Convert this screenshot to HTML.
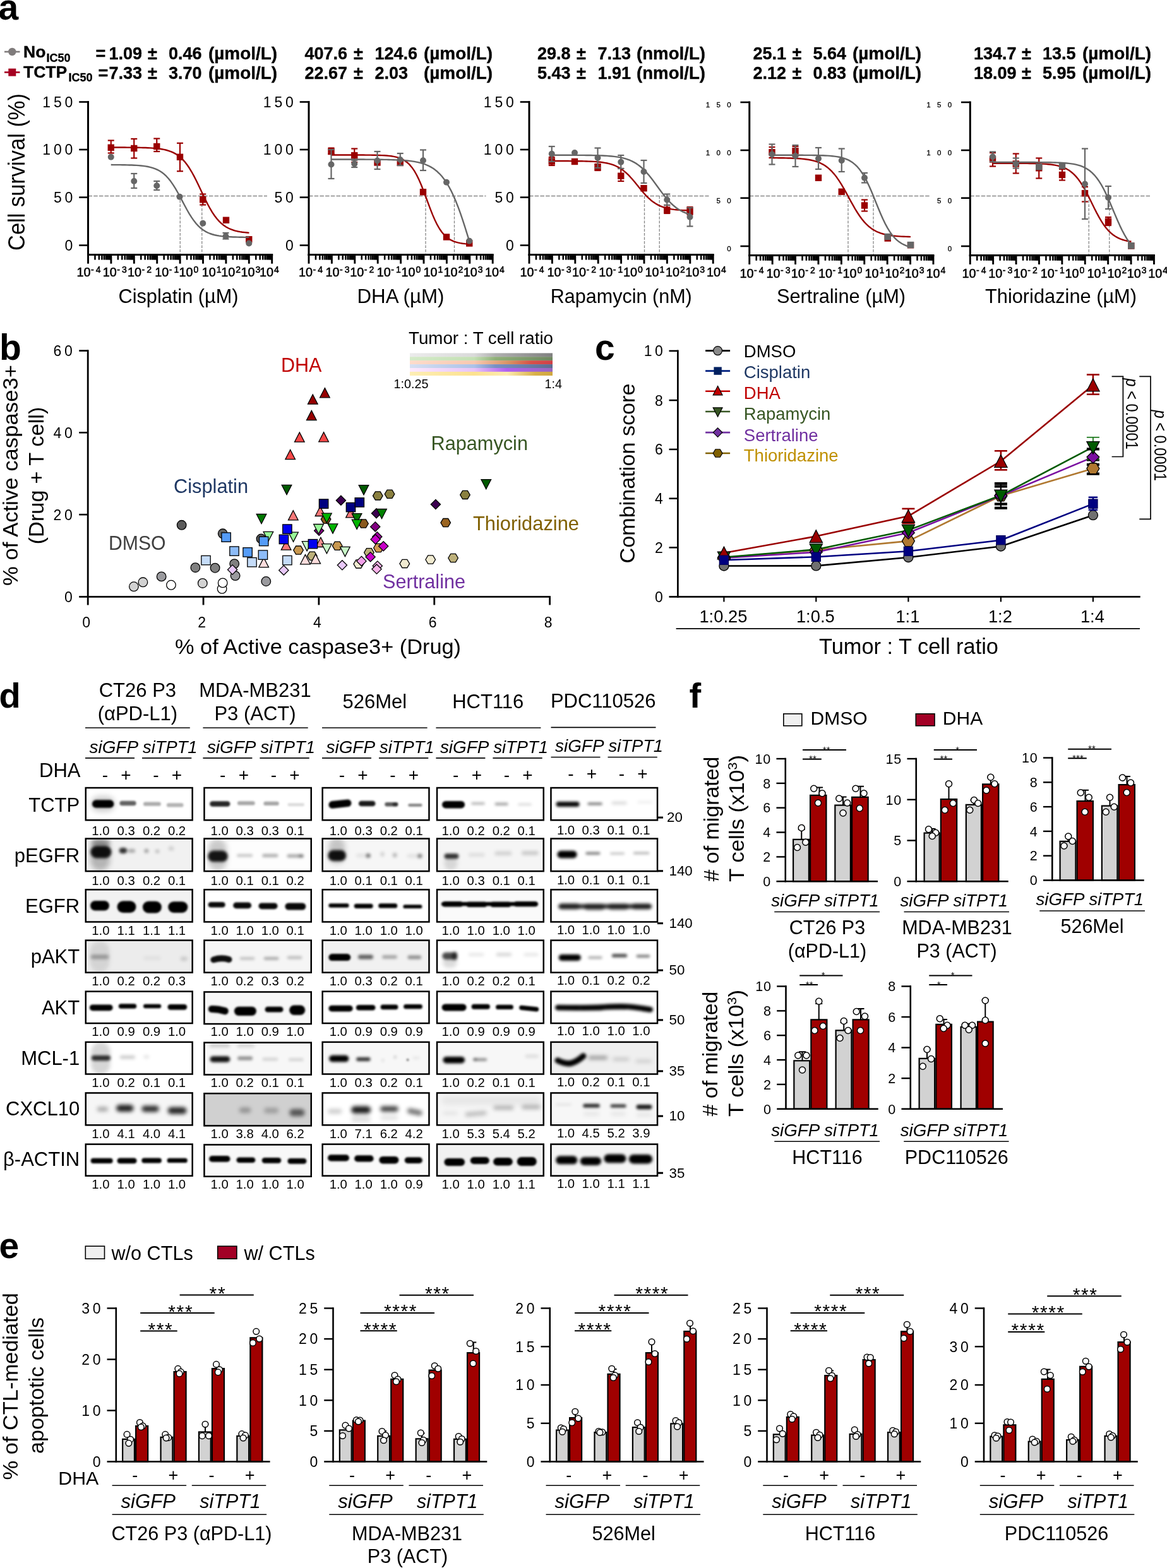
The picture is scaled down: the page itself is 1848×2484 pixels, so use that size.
<!DOCTYPE html>
<html><head><meta charset="utf-8"><title>Figure</title>
<style>
html,body{margin:0;padding:0;background:#fff;}
svg{display:block;}
text{font-family:"Liberation Sans", sans-serif;white-space:pre;}
</style></head>
<body>
<svg width="1848" height="2484" viewBox="0 0 1848 2484">
<defs><linearGradient id="g1" x1="0" y1="0" x2="1" y2="0"><stop offset="0" stop-color="#ebebeb"/><stop offset="0.45" stop-color="#dadada"/><stop offset="0.6" stop-color="#b0b0b0"/><stop offset="1" stop-color="#808080"/></linearGradient><linearGradient id="g2" x1="0" y1="0" x2="1" y2="0"><stop offset="0" stop-color="#d4eac8"/><stop offset="0.45" stop-color="#c4e0b4"/><stop offset="0.6" stop-color="#90b078"/><stop offset="1" stop-color="#6e8660"/></linearGradient><linearGradient id="g3" x1="0" y1="0" x2="1" y2="0"><stop offset="0" stop-color="#fddccb"/><stop offset="0.45" stop-color="#f8c8b0"/><stop offset="0.7" stop-color="#d89060"/><stop offset="0.85" stop-color="#d85048"/><stop offset="1" stop-color="#d04048"/></linearGradient><linearGradient id="g4" x1="0" y1="0" x2="1" y2="0"><stop offset="0" stop-color="#d6e0f2"/><stop offset="0.45" stop-color="#acc2e8"/><stop offset="0.6" stop-color="#7890c4"/><stop offset="1" stop-color="#5c6c90"/></linearGradient><linearGradient id="g5" x1="0" y1="0" x2="1" y2="0"><stop offset="0" stop-color="#fdeafd"/><stop offset="0.45" stop-color="#e8c4f8"/><stop offset="0.68" stop-color="#b060f0"/><stop offset="1" stop-color="#9868c0"/></linearGradient><linearGradient id="g6" x1="0" y1="0" x2="1" y2="0"><stop offset="0" stop-color="#fdeeb4"/><stop offset="0.45" stop-color="#fce290"/><stop offset="0.68" stop-color="#fdecb0"/><stop offset="0.88" stop-color="#d8b048"/><stop offset="1" stop-color="#d0a840"/></linearGradient><filter id="b1_5" x="-5%" y="-15%" width="110%" height="130%"><feGaussianBlur stdDeviation="1.5"/></filter><filter id="b2" x="-5%" y="-15%" width="110%" height="130%"><feGaussianBlur stdDeviation="2"/></filter><filter id="b2_2" x="-5%" y="-15%" width="110%" height="130%"><feGaussianBlur stdDeviation="2.2"/></filter><filter id="b2_5" x="-5%" y="-15%" width="110%" height="130%"><feGaussianBlur stdDeviation="2.5"/></filter><filter id="b2_6" x="-5%" y="-15%" width="110%" height="130%"><feGaussianBlur stdDeviation="2.6"/></filter><filter id="b3" x="-5%" y="-15%" width="110%" height="130%"><feGaussianBlur stdDeviation="3"/></filter><filter id="b4" x="-5%" y="-15%" width="110%" height="130%"><feGaussianBlur stdDeviation="4"/></filter><clipPath id="c1"><rect x="134.5" y="1246.8" width="171.4" height="53.7"/></clipPath><clipPath id="c2"><rect x="322.2" y="1246.8" width="171.8" height="53.7"/></clipPath><clipPath id="c3"><rect x="509.4" y="1246.8" width="171.3" height="53.7"/></clipPath><clipPath id="c4"><rect x="690.8" y="1246.8" width="171.2" height="53.7"/></clipPath><clipPath id="c5"><rect x="871.2" y="1246.8" width="171.1" height="53.7"/></clipPath><clipPath id="c6"><rect x="134.5" y="1327.3" width="171.4" height="54.1"/></clipPath><clipPath id="c7"><rect x="322.2" y="1327.3" width="171.8" height="54.1"/></clipPath><clipPath id="c8"><rect x="509.4" y="1327.3" width="171.3" height="54.1"/></clipPath><clipPath id="c9"><rect x="690.8" y="1327.3" width="171.2" height="54.1"/></clipPath><clipPath id="c10"><rect x="871.2" y="1327.3" width="171.1" height="54.1"/></clipPath><clipPath id="c11"><rect x="134.5" y="1408.1" width="171.4" height="53.6"/></clipPath><clipPath id="c12"><rect x="322.2" y="1408.1" width="171.8" height="53.6"/></clipPath><clipPath id="c13"><rect x="509.4" y="1408.1" width="171.3" height="53.6"/></clipPath><clipPath id="c14"><rect x="690.8" y="1408.1" width="171.2" height="53.6"/></clipPath><clipPath id="c15"><rect x="871.2" y="1408.1" width="171.1" height="53.6"/></clipPath><clipPath id="c16"><rect x="134.5" y="1488.4" width="171.4" height="53.5"/></clipPath><clipPath id="c17"><rect x="322.2" y="1488.4" width="171.8" height="53.5"/></clipPath><clipPath id="c18"><rect x="509.4" y="1488.4" width="171.3" height="53.5"/></clipPath><clipPath id="c19"><rect x="690.8" y="1488.4" width="171.2" height="53.5"/></clipPath><clipPath id="c20"><rect x="871.2" y="1488.4" width="171.1" height="53.5"/></clipPath><clipPath id="c21"><rect x="134.5" y="1569.4" width="171.4" height="52.9"/></clipPath><clipPath id="c22"><rect x="322.2" y="1570.2" width="171.8" height="53.1"/></clipPath><clipPath id="c23"><rect x="509.4" y="1569.4" width="171.3" height="52.9"/></clipPath><clipPath id="c24"><rect x="690.8" y="1569.4" width="171.2" height="52.9"/></clipPath><clipPath id="c25"><rect x="871.2" y="1569.4" width="171.1" height="52.9"/></clipPath><clipPath id="c26"><rect x="134.5" y="1649.6" width="171.4" height="53.2"/></clipPath><clipPath id="c27"><rect x="322.2" y="1650.4" width="171.8" height="53.4"/></clipPath><clipPath id="c28"><rect x="509.4" y="1649.6" width="171.3" height="53.2"/></clipPath><clipPath id="c29"><rect x="690.8" y="1649.6" width="171.2" height="53.2"/></clipPath><clipPath id="c30"><rect x="871.2" y="1649.6" width="171.1" height="53.2"/></clipPath><clipPath id="c31"><rect x="134.5" y="1730.2" width="171.4" height="53.4"/></clipPath><clipPath id="c32"><rect x="322.2" y="1731.0" width="171.8" height="53.6"/></clipPath><clipPath id="c33"><rect x="509.4" y="1730.2" width="171.3" height="53.4"/></clipPath><clipPath id="c34"><rect x="690.8" y="1730.2" width="171.2" height="53.4"/></clipPath><clipPath id="c35"><rect x="871.2" y="1730.2" width="171.1" height="53.4"/></clipPath><clipPath id="c36"><rect x="134.5" y="1811.4" width="171.4" height="52.6"/></clipPath><clipPath id="c37"><rect x="322.2" y="1812.2" width="171.8" height="52.8"/></clipPath><clipPath id="c38"><rect x="509.4" y="1811.4" width="171.3" height="52.6"/></clipPath><clipPath id="c39"><rect x="690.8" y="1811.4" width="171.2" height="52.6"/></clipPath><clipPath id="c40"><rect x="871.2" y="1811.4" width="171.1" height="52.6"/></clipPath></defs>
<rect width="1848" height="2484" fill="#fff"/>
<text x="-2.50" y="30.50" font-size="57" font-weight="bold">a</text>
<line x1="7.00" y1="82.00" x2="31.50" y2="82.00" stroke="#807c7c" stroke-width="2.6"/>
<circle cx="19.30" cy="82.00" r="6.20" fill="#807c7c"/>
<line x1="7.00" y1="114.50" x2="31.50" y2="114.50" stroke="#a50021" stroke-width="2.6"/>
<rect x="13.30" y="108.60" width="12.00" height="12.00" fill="#a50021"/>
<text x="37.00" y="90.50" font-size="26.5" font-weight="bold" stroke="#000" stroke-width="0.35">No</text>
<text x="73.50" y="97.50" font-size="18" font-weight="bold" stroke="#000" stroke-width="0.35">IC50</text>
<text x="37.00" y="122.50" font-size="26.5" font-weight="bold" stroke="#000" stroke-width="0.35">TCTP</text>
<text x="108.50" y="129.30" font-size="18" font-weight="bold" stroke="#000" stroke-width="0.35">IC50</text>
<text x="151.50" y="93.50" font-size="27" font-weight="bold" stroke="#000" stroke-width="0.35">=</text>
<text x="155.50" y="124.50" font-size="27" font-weight="bold" stroke="#000" stroke-width="0.35">=</text>
<text x="172.50" y="94.00" font-size="27" font-weight="bold" stroke="#000" stroke-width="0.35">1.09</text>
<text x="234.00" y="94.00" font-size="27" font-weight="bold" stroke="#000" stroke-width="0.35">±</text>
<text x="267.00" y="94.00" font-size="27" font-weight="bold" stroke="#000" stroke-width="0.35">0.46</text>
<text x="330.00" y="94.00" font-size="27" font-weight="bold" textLength="109.00" lengthAdjust="spacingAndGlyphs" stroke="#000" stroke-width="0.35">(µmol/L)</text>
<text x="172.50" y="125.00" font-size="27" font-weight="bold" stroke="#000" stroke-width="0.35">7.33</text>
<text x="234.00" y="125.00" font-size="27" font-weight="bold" stroke="#000" stroke-width="0.35">±</text>
<text x="267.00" y="125.00" font-size="27" font-weight="bold" stroke="#000" stroke-width="0.35">3.70</text>
<text x="330.00" y="125.00" font-size="27" font-weight="bold" textLength="109.00" lengthAdjust="spacingAndGlyphs" stroke="#000" stroke-width="0.35">(µmol/L)</text>
<text x="482.50" y="94.00" font-size="27" font-weight="bold" stroke="#000" stroke-width="0.35">407.6</text>
<text x="560.00" y="94.00" font-size="27" font-weight="bold" stroke="#000" stroke-width="0.35">±</text>
<text x="593.50" y="94.00" font-size="27" font-weight="bold" stroke="#000" stroke-width="0.35">124.6</text>
<text x="671.00" y="94.00" font-size="27" font-weight="bold" textLength="109.00" lengthAdjust="spacingAndGlyphs" stroke="#000" stroke-width="0.35">(µmol/L)</text>
<text x="482.50" y="125.00" font-size="27" font-weight="bold" stroke="#000" stroke-width="0.35">22.67</text>
<text x="560.00" y="125.00" font-size="27" font-weight="bold" stroke="#000" stroke-width="0.35">±</text>
<text x="593.50" y="125.00" font-size="27" font-weight="bold" stroke="#000" stroke-width="0.35">2.03</text>
<text x="671.00" y="125.00" font-size="27" font-weight="bold" textLength="109.00" lengthAdjust="spacingAndGlyphs" stroke="#000" stroke-width="0.35">(µmol/L)</text>
<text x="851.00" y="94.00" font-size="27" font-weight="bold" stroke="#000" stroke-width="0.35">29.8</text>
<text x="913.00" y="94.00" font-size="27" font-weight="bold" stroke="#000" stroke-width="0.35">±</text>
<text x="946.50" y="94.00" font-size="27" font-weight="bold" stroke="#000" stroke-width="0.35">7.13</text>
<text x="1008.00" y="94.00" font-size="27" font-weight="bold" textLength="109.00" lengthAdjust="spacingAndGlyphs" stroke="#000" stroke-width="0.35">(nmol/L)</text>
<text x="851.00" y="125.00" font-size="27" font-weight="bold" stroke="#000" stroke-width="0.35">5.43</text>
<text x="913.00" y="125.00" font-size="27" font-weight="bold" stroke="#000" stroke-width="0.35">±</text>
<text x="946.50" y="125.00" font-size="27" font-weight="bold" stroke="#000" stroke-width="0.35">1.91</text>
<text x="1008.00" y="125.00" font-size="27" font-weight="bold" textLength="109.00" lengthAdjust="spacingAndGlyphs" stroke="#000" stroke-width="0.35">(nmol/L)</text>
<text x="1192.50" y="94.00" font-size="27" font-weight="bold" stroke="#000" stroke-width="0.35">25.1</text>
<text x="1254.50" y="94.00" font-size="27" font-weight="bold" stroke="#000" stroke-width="0.35">±</text>
<text x="1287.50" y="94.00" font-size="27" font-weight="bold" stroke="#000" stroke-width="0.35">5.64</text>
<text x="1350.00" y="94.00" font-size="27" font-weight="bold" textLength="109.00" lengthAdjust="spacingAndGlyphs" stroke="#000" stroke-width="0.35">(µmol/L)</text>
<text x="1192.50" y="125.00" font-size="27" font-weight="bold" stroke="#000" stroke-width="0.35">2.12</text>
<text x="1254.50" y="125.00" font-size="27" font-weight="bold" stroke="#000" stroke-width="0.35">±</text>
<text x="1287.50" y="125.00" font-size="27" font-weight="bold" stroke="#000" stroke-width="0.35">0.83</text>
<text x="1350.00" y="125.00" font-size="27" font-weight="bold" textLength="109.00" lengthAdjust="spacingAndGlyphs" stroke="#000" stroke-width="0.35">(µmol/L)</text>
<text x="1542.00" y="94.00" font-size="27" font-weight="bold" stroke="#000" stroke-width="0.35">134.7</text>
<text x="1618.00" y="94.00" font-size="27" font-weight="bold" stroke="#000" stroke-width="0.35">±</text>
<text x="1651.00" y="94.00" font-size="27" font-weight="bold" stroke="#000" stroke-width="0.35">13.5</text>
<text x="1714.00" y="94.00" font-size="27" font-weight="bold" textLength="109.00" lengthAdjust="spacingAndGlyphs" stroke="#000" stroke-width="0.35">(µmol/L)</text>
<text x="1542.00" y="125.00" font-size="27" font-weight="bold" stroke="#000" stroke-width="0.35">18.09</text>
<text x="1618.00" y="125.00" font-size="27" font-weight="bold" stroke="#000" stroke-width="0.35">±</text>
<text x="1651.00" y="125.00" font-size="27" font-weight="bold" stroke="#000" stroke-width="0.35">5.95</text>
<text x="1714.00" y="125.00" font-size="27" font-weight="bold" textLength="109.00" lengthAdjust="spacingAndGlyphs" stroke="#000" stroke-width="0.35">(µmol/L)</text>
<text font-size="37" textLength="249.00" lengthAdjust="spacingAndGlyphs" transform="translate(38.50 397.00) rotate(-90)">Cell survival (%)</text>
<line x1="139.50" y1="310.50" x2="423.00" y2="310.50" stroke="#888888" stroke-width="1.3" stroke-dasharray="6.5 2.2"/>
<line x1="285.25" y1="310.50" x2="285.25" y2="403.40" stroke="#888888" stroke-width="1.3" stroke-dasharray="4.5 2"/>
<line x1="319.75" y1="310.50" x2="319.75" y2="403.40" stroke="#888888" stroke-width="1.3" stroke-dasharray="4.5 2"/>
<polyline points="175.75,233.52 179.40,233.52 183.04,233.53 186.69,233.54 190.33,233.55 193.98,233.56 197.62,233.57 201.27,233.59 204.92,233.61 208.56,233.64 212.21,233.68 215.85,233.73 219.50,233.78 223.15,233.86 226.79,233.95 230.44,234.06 234.08,234.20 237.73,234.38 241.38,234.61 245.02,234.89 248.67,235.24 252.31,235.67 255.96,236.22 259.60,236.90 263.25,237.74 266.90,238.78 270.54,240.07 274.19,241.65 277.83,243.58 281.48,245.92 285.12,248.75 288.77,252.12 292.42,256.09 296.06,260.72 299.71,266.03 303.35,272.01 307.00,278.60 310.65,285.73 314.29,293.25 317.94,300.98 321.58,308.73 325.23,316.30 328.88,323.52 332.52,330.23 336.17,336.33 339.81,341.78 343.46,346.54 347.10,350.64 350.75,354.13 354.40,357.06 358.04,359.49 361.69,361.50 365.33,363.14 368.98,364.48 372.62,365.57 376.27,366.45 379.92,367.16 383.56,367.73 387.21,368.18 390.85,368.55 394.50,368.84" fill="none" stroke="#9a0000" stroke-width="2.4" stroke-linejoin="round"/>
<line x1="175.75" y1="222.50" x2="175.75" y2="242.50" stroke="#9a0000" stroke-width="2.2"/>
<line x1="170.75" y1="222.50" x2="180.75" y2="222.50" stroke="#9a0000" stroke-width="2.2"/>
<line x1="170.75" y1="242.50" x2="180.75" y2="242.50" stroke="#9a0000" stroke-width="2.2"/>
<rect x="170.55" y="228.55" width="10.40" height="10.40" fill="#9a0000"/>
<line x1="212.25" y1="220.00" x2="212.25" y2="250.50" stroke="#9a0000" stroke-width="2.2"/>
<line x1="207.25" y1="220.00" x2="217.25" y2="220.00" stroke="#9a0000" stroke-width="2.2"/>
<line x1="207.25" y1="250.50" x2="217.25" y2="250.50" stroke="#9a0000" stroke-width="2.2"/>
<rect x="207.05" y="229.80" width="10.40" height="10.40" fill="#9a0000"/>
<line x1="248.25" y1="219.50" x2="248.25" y2="240.00" stroke="#9a0000" stroke-width="2.2"/>
<line x1="243.25" y1="219.50" x2="253.25" y2="219.50" stroke="#9a0000" stroke-width="2.2"/>
<line x1="243.25" y1="240.00" x2="253.25" y2="240.00" stroke="#9a0000" stroke-width="2.2"/>
<rect x="243.05" y="226.80" width="10.40" height="10.40" fill="#9a0000"/>
<line x1="285.00" y1="226.75" x2="285.00" y2="271.25" stroke="#9a0000" stroke-width="2.2"/>
<line x1="280.00" y1="226.75" x2="290.00" y2="226.75" stroke="#9a0000" stroke-width="2.2"/>
<line x1="280.00" y1="271.25" x2="290.00" y2="271.25" stroke="#9a0000" stroke-width="2.2"/>
<rect x="279.80" y="243.55" width="10.40" height="10.40" fill="#9a0000"/>
<line x1="321.25" y1="307.50" x2="321.25" y2="324.50" stroke="#9a0000" stroke-width="2.2"/>
<line x1="316.25" y1="307.50" x2="326.25" y2="307.50" stroke="#9a0000" stroke-width="2.2"/>
<line x1="316.25" y1="324.50" x2="326.25" y2="324.50" stroke="#9a0000" stroke-width="2.2"/>
<rect x="316.05" y="311.05" width="10.40" height="10.40" fill="#9a0000"/>
<rect x="352.80" y="343.55" width="10.40" height="10.40" fill="#9a0000"/>
<rect x="389.05" y="374.05" width="10.40" height="10.40" fill="#9a0000"/>
<polyline points="175.75,261.06 179.40,261.08 183.04,261.11 186.69,261.13 190.33,261.17 193.98,261.22 197.62,261.28 201.27,261.35 204.92,261.45 208.56,261.57 212.21,261.72 215.85,261.92 219.50,262.16 223.15,262.48 226.79,262.87 230.44,263.38 234.08,264.01 237.73,264.80 241.38,265.80 245.02,267.04 248.67,268.58 252.31,270.48 255.96,272.80 259.60,275.62 263.25,278.98 266.90,282.96 270.54,287.57 274.19,292.82 277.83,298.66 281.48,305.01 285.12,311.72 288.77,318.63 292.42,325.54 296.06,332.25 299.71,338.58 303.35,344.40 307.00,349.62 310.65,354.21 314.29,358.16 317.94,361.50 321.58,364.30 325.23,366.60 328.88,368.49 332.52,370.01 336.17,371.24 339.81,372.23 343.46,373.02 347.10,373.65 350.75,374.14 354.40,374.54 358.04,374.85 361.69,375.09 365.33,375.29 368.98,375.44 372.62,375.56 376.27,375.65 379.92,375.73 383.56,375.79 387.21,375.83 390.85,375.87 394.50,375.90" fill="none" stroke="#666666" stroke-width="2.4" stroke-linejoin="round"/>
<circle cx="175.75" cy="248.75" r="5.00" fill="#666666"/>
<line x1="212.25" y1="275.00" x2="212.25" y2="298.00" stroke="#666666" stroke-width="2.2"/>
<line x1="207.25" y1="275.00" x2="217.25" y2="275.00" stroke="#666666" stroke-width="2.2"/>
<line x1="207.25" y1="298.00" x2="217.25" y2="298.00" stroke="#666666" stroke-width="2.2"/>
<circle cx="212.25" cy="287.00" r="5.00" fill="#666666"/>
<line x1="248.25" y1="287.00" x2="248.25" y2="301.00" stroke="#666666" stroke-width="2.2"/>
<line x1="243.25" y1="287.00" x2="253.25" y2="287.00" stroke="#666666" stroke-width="2.2"/>
<line x1="243.25" y1="301.00" x2="253.25" y2="301.00" stroke="#666666" stroke-width="2.2"/>
<circle cx="248.25" cy="294.25" r="5.00" fill="#666666"/>
<circle cx="284.50" cy="311.75" r="5.00" fill="#666666"/>
<circle cx="321.25" cy="353.75" r="5.00" fill="#666666"/>
<line x1="357.50" y1="369.00" x2="357.50" y2="378.50" stroke="#666666" stroke-width="2.2"/>
<line x1="352.50" y1="369.00" x2="362.50" y2="369.00" stroke="#666666" stroke-width="2.2"/>
<line x1="352.50" y1="378.50" x2="362.50" y2="378.50" stroke="#666666" stroke-width="2.2"/>
<circle cx="357.50" cy="374.25" r="5.00" fill="#666666"/>
<circle cx="394.25" cy="385.50" r="5.00" fill="#666666"/>
<line x1="139.50" y1="160.00" x2="139.50" y2="404.90" stroke="#000" stroke-width="3"/>
<line x1="138.00" y1="403.40" x2="432.20" y2="403.40" stroke="#000" stroke-width="3"/>
<line x1="125.20" y1="161.50" x2="139.50" y2="161.50" stroke="#000" stroke-width="2.6"/>
<line x1="125.20" y1="237.00" x2="139.50" y2="237.00" stroke="#000" stroke-width="2.6"/>
<line x1="125.20" y1="312.60" x2="139.50" y2="312.60" stroke="#000" stroke-width="2.6"/>
<line x1="125.20" y1="388.60" x2="139.50" y2="388.60" stroke="#000" stroke-width="2.6"/>
<line x1="139.50" y1="403.40" x2="139.50" y2="417.70" stroke="#000" stroke-width="2.9"/>
<line x1="150.46" y1="403.40" x2="150.46" y2="411.60" stroke="#000" stroke-width="2.6"/>
<line x1="156.87" y1="403.40" x2="156.87" y2="411.60" stroke="#000" stroke-width="2.6"/>
<line x1="161.41" y1="403.40" x2="161.41" y2="411.60" stroke="#000" stroke-width="2.6"/>
<line x1="164.94" y1="403.40" x2="164.94" y2="411.60" stroke="#000" stroke-width="2.6"/>
<line x1="167.82" y1="403.40" x2="167.82" y2="411.60" stroke="#000" stroke-width="2.6"/>
<line x1="170.26" y1="403.40" x2="170.26" y2="411.60" stroke="#000" stroke-width="2.6"/>
<line x1="172.37" y1="403.40" x2="172.37" y2="411.60" stroke="#000" stroke-width="2.6"/>
<line x1="174.23" y1="403.40" x2="174.23" y2="411.60" stroke="#000" stroke-width="2.6"/>
<line x1="175.90" y1="403.40" x2="175.90" y2="417.70" stroke="#000" stroke-width="2.9"/>
<line x1="186.86" y1="403.40" x2="186.86" y2="411.60" stroke="#000" stroke-width="2.6"/>
<line x1="193.27" y1="403.40" x2="193.27" y2="411.60" stroke="#000" stroke-width="2.6"/>
<line x1="197.81" y1="403.40" x2="197.81" y2="411.60" stroke="#000" stroke-width="2.6"/>
<line x1="201.34" y1="403.40" x2="201.34" y2="411.60" stroke="#000" stroke-width="2.6"/>
<line x1="204.22" y1="403.40" x2="204.22" y2="411.60" stroke="#000" stroke-width="2.6"/>
<line x1="206.66" y1="403.40" x2="206.66" y2="411.60" stroke="#000" stroke-width="2.6"/>
<line x1="208.77" y1="403.40" x2="208.77" y2="411.60" stroke="#000" stroke-width="2.6"/>
<line x1="210.63" y1="403.40" x2="210.63" y2="411.60" stroke="#000" stroke-width="2.6"/>
<line x1="212.30" y1="403.40" x2="212.30" y2="417.70" stroke="#000" stroke-width="2.9"/>
<line x1="223.26" y1="403.40" x2="223.26" y2="411.60" stroke="#000" stroke-width="2.6"/>
<line x1="229.67" y1="403.40" x2="229.67" y2="411.60" stroke="#000" stroke-width="2.6"/>
<line x1="234.21" y1="403.40" x2="234.21" y2="411.60" stroke="#000" stroke-width="2.6"/>
<line x1="237.74" y1="403.40" x2="237.74" y2="411.60" stroke="#000" stroke-width="2.6"/>
<line x1="240.62" y1="403.40" x2="240.62" y2="411.60" stroke="#000" stroke-width="2.6"/>
<line x1="243.06" y1="403.40" x2="243.06" y2="411.60" stroke="#000" stroke-width="2.6"/>
<line x1="245.17" y1="403.40" x2="245.17" y2="411.60" stroke="#000" stroke-width="2.6"/>
<line x1="247.03" y1="403.40" x2="247.03" y2="411.60" stroke="#000" stroke-width="2.6"/>
<line x1="248.70" y1="403.40" x2="248.70" y2="417.70" stroke="#000" stroke-width="2.9"/>
<line x1="259.66" y1="403.40" x2="259.66" y2="411.60" stroke="#000" stroke-width="2.6"/>
<line x1="266.07" y1="403.40" x2="266.07" y2="411.60" stroke="#000" stroke-width="2.6"/>
<line x1="270.61" y1="403.40" x2="270.61" y2="411.60" stroke="#000" stroke-width="2.6"/>
<line x1="274.14" y1="403.40" x2="274.14" y2="411.60" stroke="#000" stroke-width="2.6"/>
<line x1="277.02" y1="403.40" x2="277.02" y2="411.60" stroke="#000" stroke-width="2.6"/>
<line x1="279.46" y1="403.40" x2="279.46" y2="411.60" stroke="#000" stroke-width="2.6"/>
<line x1="281.57" y1="403.40" x2="281.57" y2="411.60" stroke="#000" stroke-width="2.6"/>
<line x1="283.43" y1="403.40" x2="283.43" y2="411.60" stroke="#000" stroke-width="2.6"/>
<line x1="285.10" y1="403.40" x2="285.10" y2="417.70" stroke="#000" stroke-width="2.9"/>
<line x1="296.06" y1="403.40" x2="296.06" y2="411.60" stroke="#000" stroke-width="2.6"/>
<line x1="302.47" y1="403.40" x2="302.47" y2="411.60" stroke="#000" stroke-width="2.6"/>
<line x1="307.01" y1="403.40" x2="307.01" y2="411.60" stroke="#000" stroke-width="2.6"/>
<line x1="310.54" y1="403.40" x2="310.54" y2="411.60" stroke="#000" stroke-width="2.6"/>
<line x1="313.42" y1="403.40" x2="313.42" y2="411.60" stroke="#000" stroke-width="2.6"/>
<line x1="315.86" y1="403.40" x2="315.86" y2="411.60" stroke="#000" stroke-width="2.6"/>
<line x1="317.97" y1="403.40" x2="317.97" y2="411.60" stroke="#000" stroke-width="2.6"/>
<line x1="319.83" y1="403.40" x2="319.83" y2="411.60" stroke="#000" stroke-width="2.6"/>
<line x1="321.50" y1="403.40" x2="321.50" y2="417.70" stroke="#000" stroke-width="2.9"/>
<line x1="332.46" y1="403.40" x2="332.46" y2="411.60" stroke="#000" stroke-width="2.6"/>
<line x1="338.87" y1="403.40" x2="338.87" y2="411.60" stroke="#000" stroke-width="2.6"/>
<line x1="343.41" y1="403.40" x2="343.41" y2="411.60" stroke="#000" stroke-width="2.6"/>
<line x1="346.94" y1="403.40" x2="346.94" y2="411.60" stroke="#000" stroke-width="2.6"/>
<line x1="349.82" y1="403.40" x2="349.82" y2="411.60" stroke="#000" stroke-width="2.6"/>
<line x1="352.26" y1="403.40" x2="352.26" y2="411.60" stroke="#000" stroke-width="2.6"/>
<line x1="354.37" y1="403.40" x2="354.37" y2="411.60" stroke="#000" stroke-width="2.6"/>
<line x1="356.23" y1="403.40" x2="356.23" y2="411.60" stroke="#000" stroke-width="2.6"/>
<line x1="357.90" y1="403.40" x2="357.90" y2="417.70" stroke="#000" stroke-width="2.9"/>
<line x1="368.86" y1="403.40" x2="368.86" y2="411.60" stroke="#000" stroke-width="2.6"/>
<line x1="375.27" y1="403.40" x2="375.27" y2="411.60" stroke="#000" stroke-width="2.6"/>
<line x1="379.81" y1="403.40" x2="379.81" y2="411.60" stroke="#000" stroke-width="2.6"/>
<line x1="383.34" y1="403.40" x2="383.34" y2="411.60" stroke="#000" stroke-width="2.6"/>
<line x1="386.22" y1="403.40" x2="386.22" y2="411.60" stroke="#000" stroke-width="2.6"/>
<line x1="388.66" y1="403.40" x2="388.66" y2="411.60" stroke="#000" stroke-width="2.6"/>
<line x1="390.77" y1="403.40" x2="390.77" y2="411.60" stroke="#000" stroke-width="2.6"/>
<line x1="392.63" y1="403.40" x2="392.63" y2="411.60" stroke="#000" stroke-width="2.6"/>
<line x1="394.30" y1="403.40" x2="394.30" y2="417.70" stroke="#000" stroke-width="2.9"/>
<line x1="405.26" y1="403.40" x2="405.26" y2="411.60" stroke="#000" stroke-width="2.6"/>
<line x1="411.67" y1="403.40" x2="411.67" y2="411.60" stroke="#000" stroke-width="2.6"/>
<line x1="416.21" y1="403.40" x2="416.21" y2="411.60" stroke="#000" stroke-width="2.6"/>
<line x1="419.74" y1="403.40" x2="419.74" y2="411.60" stroke="#000" stroke-width="2.6"/>
<line x1="422.62" y1="403.40" x2="422.62" y2="411.60" stroke="#000" stroke-width="2.6"/>
<line x1="425.06" y1="403.40" x2="425.06" y2="411.60" stroke="#000" stroke-width="2.6"/>
<line x1="427.17" y1="403.40" x2="427.17" y2="411.60" stroke="#000" stroke-width="2.6"/>
<line x1="429.03" y1="403.40" x2="429.03" y2="411.60" stroke="#000" stroke-width="2.6"/>
<line x1="430.70" y1="403.40" x2="430.70" y2="417.70" stroke="#000" stroke-width="2.9"/>
<text x="120.10" y="169.80" font-size="23" text-anchor="end" letter-spacing="4.8">150</text>
<text x="120.10" y="245.30" font-size="23" text-anchor="end" letter-spacing="4.8">100</text>
<text x="120.10" y="320.90" font-size="23" text-anchor="end" letter-spacing="4.8">50</text>
<text x="120.10" y="396.90" font-size="23" text-anchor="end" letter-spacing="4.8">0</text>
<text x="121.60" y="438.30" font-size="21" textLength="22" lengthAdjust="spacingAndGlyphs" stroke="#000" stroke-width="0.55">10</text>
<text x="143.90" y="432.00" font-size="14" letter-spacing="3.3" stroke="#000" stroke-width="0.55">-4</text>
<text x="162.85" y="438.30" font-size="21" textLength="22" lengthAdjust="spacingAndGlyphs" stroke="#000" stroke-width="0.55">10</text>
<text x="185.15" y="432.00" font-size="14" letter-spacing="3.3" stroke="#000" stroke-width="0.55">-3</text>
<text x="202.10" y="438.30" font-size="21" textLength="22" lengthAdjust="spacingAndGlyphs" stroke="#000" stroke-width="0.55">10</text>
<text x="224.40" y="432.00" font-size="14" letter-spacing="3.3" stroke="#000" stroke-width="0.55">-2</text>
<text x="245.35" y="438.30" font-size="21" textLength="22" lengthAdjust="spacingAndGlyphs" stroke="#000" stroke-width="0.55">10</text>
<text x="267.65" y="432.00" font-size="14" letter-spacing="3.3" stroke="#000" stroke-width="0.55">-1</text>
<text x="283.60" y="438.30" font-size="21" textLength="22" lengthAdjust="spacingAndGlyphs" stroke="#000" stroke-width="0.55">10</text>
<text x="306.40" y="432.00" font-size="14" stroke="#000" stroke-width="0.55">0</text>
<text x="319.85" y="438.30" font-size="21" textLength="22" lengthAdjust="spacingAndGlyphs" stroke="#000" stroke-width="0.55">10</text>
<text x="342.65" y="432.00" font-size="14" stroke="#000" stroke-width="0.55">1</text>
<text x="350.35" y="438.30" font-size="21" textLength="22" lengthAdjust="spacingAndGlyphs" stroke="#000" stroke-width="0.55">10</text>
<text x="373.15" y="432.00" font-size="14" stroke="#000" stroke-width="0.55">2</text>
<text x="381.60" y="438.30" font-size="21" textLength="22" lengthAdjust="spacingAndGlyphs" stroke="#000" stroke-width="0.55">10</text>
<text x="404.40" y="432.00" font-size="14" stroke="#000" stroke-width="0.55">3</text>
<text x="411.10" y="438.30" font-size="21" textLength="22" lengthAdjust="spacingAndGlyphs" stroke="#000" stroke-width="0.55">10</text>
<text x="433.90" y="432.00" font-size="14" stroke="#000" stroke-width="0.55">4</text>
<text x="282.50" y="480.00" font-size="30.7" text-anchor="middle" textLength="190.00" lengthAdjust="spacingAndGlyphs">Cisplatin (µM)</text>
<line x1="489.00" y1="310.50" x2="769.50" y2="310.50" stroke="#888888" stroke-width="1.3" stroke-dasharray="6.5 2.2"/>
<line x1="674.00" y1="310.50" x2="674.00" y2="403.40" stroke="#888888" stroke-width="1.3" stroke-dasharray="4.5 2"/>
<line x1="719.50" y1="310.50" x2="719.50" y2="403.40" stroke="#888888" stroke-width="1.3" stroke-dasharray="4.5 2"/>
<polyline points="524.50,245.50 528.15,245.50 531.80,245.50 535.45,245.50 539.10,245.50 542.75,245.51 546.40,245.51 550.05,245.51 553.70,245.51 557.35,245.52 561.00,245.52 564.65,245.53 568.30,245.54 571.95,245.55 575.60,245.56 579.25,245.58 582.90,245.61 586.55,245.65 590.20,245.69 593.85,245.76 597.50,245.84 601.15,245.95 604.80,246.09 608.45,246.28 612.10,246.53 615.75,246.87 619.40,247.30 623.05,247.88 626.70,248.63 630.35,249.62 634.00,250.90 637.65,252.56 641.30,254.70 644.95,257.44 648.60,260.89 652.25,265.18 655.90,270.44 659.55,276.75 663.20,284.12 666.85,292.50 670.50,301.70 674.15,311.46 677.80,321.41 681.45,331.17 685.10,340.38 688.75,348.77 692.40,356.16 696.05,362.48 699.70,367.75 703.35,372.06 707.00,375.52 710.65,378.26 714.30,380.41 717.95,382.08 721.60,383.37 725.25,384.36 728.90,385.11 732.55,385.69 736.20,386.13 739.85,386.46 743.50,386.71" fill="none" stroke="#9a0000" stroke-width="2.4" stroke-linejoin="round"/>
<line x1="524.50" y1="234.50" x2="524.50" y2="244.00" stroke="#9a0000" stroke-width="2.2"/>
<line x1="519.50" y1="234.50" x2="529.50" y2="234.50" stroke="#9a0000" stroke-width="2.2"/>
<line x1="519.50" y1="244.00" x2="529.50" y2="244.00" stroke="#9a0000" stroke-width="2.2"/>
<rect x="519.30" y="234.80" width="10.40" height="10.40" fill="#9a0000"/>
<line x1="561.25" y1="235.50" x2="561.25" y2="257.00" stroke="#9a0000" stroke-width="2.2"/>
<line x1="556.25" y1="235.50" x2="566.25" y2="235.50" stroke="#9a0000" stroke-width="2.2"/>
<line x1="556.25" y1="257.00" x2="566.25" y2="257.00" stroke="#9a0000" stroke-width="2.2"/>
<rect x="556.05" y="241.05" width="10.40" height="10.40" fill="#9a0000"/>
<rect x="592.30" y="252.30" width="10.40" height="10.40" fill="#9a0000"/>
<rect x="628.55" y="252.80" width="10.40" height="10.40" fill="#9a0000"/>
<rect x="664.80" y="299.05" width="10.40" height="10.40" fill="#9a0000"/>
<rect x="701.80" y="370.30" width="10.40" height="10.40" fill="#9a0000"/>
<rect x="738.05" y="380.30" width="10.40" height="10.40" fill="#9a0000"/>
<polyline points="524.50,252.51 528.15,252.51 531.80,252.51 535.45,252.51 539.10,252.51 542.75,252.51 546.40,252.52 550.05,252.52 553.70,252.52 557.35,252.53 561.00,252.53 564.65,252.54 568.30,252.55 571.95,252.56 575.60,252.57 579.25,252.58 582.90,252.60 586.55,252.62 590.20,252.64 593.85,252.67 597.50,252.70 601.15,252.74 604.80,252.78 608.45,252.84 612.10,252.91 615.75,252.98 619.40,253.08 623.05,253.19 626.70,253.33 630.35,253.49 634.00,253.68 637.65,253.91 641.30,254.19 644.95,254.52 648.60,254.91 652.25,255.38 655.90,255.93 659.55,256.59 663.20,257.38 666.85,258.32 670.50,259.43 674.15,260.74 677.80,262.30 681.45,264.13 685.10,266.30 688.75,268.83 692.40,271.80 696.05,275.26 699.70,279.28 703.35,283.91 707.00,289.22 710.65,295.26 714.30,302.09 717.95,309.72 721.60,318.18 725.25,327.44 728.90,337.46 732.55,348.16 736.20,359.41 739.85,371.07 743.50,382.97" fill="none" stroke="#666666" stroke-width="2.4" stroke-linejoin="round"/>
<line x1="524.50" y1="237.00" x2="524.50" y2="283.00" stroke="#666666" stroke-width="2.2"/>
<line x1="519.50" y1="237.00" x2="529.50" y2="237.00" stroke="#666666" stroke-width="2.2"/>
<line x1="519.50" y1="283.00" x2="529.50" y2="283.00" stroke="#666666" stroke-width="2.2"/>
<circle cx="524.50" cy="260.50" r="5.00" fill="#666666"/>
<line x1="561.25" y1="253.75" x2="561.25" y2="265.00" stroke="#666666" stroke-width="2.2"/>
<line x1="556.25" y1="253.75" x2="566.25" y2="253.75" stroke="#666666" stroke-width="2.2"/>
<line x1="556.25" y1="265.00" x2="566.25" y2="265.00" stroke="#666666" stroke-width="2.2"/>
<circle cx="561.25" cy="259.50" r="5.00" fill="#666666"/>
<line x1="597.50" y1="240.00" x2="597.50" y2="268.00" stroke="#666666" stroke-width="2.2"/>
<line x1="592.50" y1="240.00" x2="602.50" y2="240.00" stroke="#666666" stroke-width="2.2"/>
<line x1="592.50" y1="268.00" x2="602.50" y2="268.00" stroke="#666666" stroke-width="2.2"/>
<circle cx="597.50" cy="254.50" r="5.00" fill="#666666"/>
<line x1="633.75" y1="243.00" x2="633.75" y2="262.00" stroke="#666666" stroke-width="2.2"/>
<line x1="628.75" y1="243.00" x2="638.75" y2="243.00" stroke="#666666" stroke-width="2.2"/>
<line x1="628.75" y1="262.00" x2="638.75" y2="262.00" stroke="#666666" stroke-width="2.2"/>
<circle cx="633.75" cy="253.00" r="5.00" fill="#666666"/>
<line x1="670.00" y1="237.50" x2="670.00" y2="270.00" stroke="#666666" stroke-width="2.2"/>
<line x1="665.00" y1="237.50" x2="675.00" y2="237.50" stroke="#666666" stroke-width="2.2"/>
<line x1="665.00" y1="270.00" x2="675.00" y2="270.00" stroke="#666666" stroke-width="2.2"/>
<circle cx="670.00" cy="254.25" r="5.00" fill="#666666"/>
<circle cx="707.00" cy="288.75" r="5.00" fill="#666666"/>
<circle cx="743.25" cy="381.75" r="5.00" fill="#666666"/>
<line x1="489.00" y1="160.00" x2="489.00" y2="404.90" stroke="#000" stroke-width="3"/>
<line x1="487.50" y1="403.40" x2="781.70" y2="403.40" stroke="#000" stroke-width="3"/>
<line x1="474.70" y1="161.50" x2="489.00" y2="161.50" stroke="#000" stroke-width="2.6"/>
<line x1="474.70" y1="237.00" x2="489.00" y2="237.00" stroke="#000" stroke-width="2.6"/>
<line x1="474.70" y1="312.60" x2="489.00" y2="312.60" stroke="#000" stroke-width="2.6"/>
<line x1="474.70" y1="388.60" x2="489.00" y2="388.60" stroke="#000" stroke-width="2.6"/>
<line x1="489.00" y1="403.40" x2="489.00" y2="417.70" stroke="#000" stroke-width="2.9"/>
<line x1="499.96" y1="403.40" x2="499.96" y2="411.60" stroke="#000" stroke-width="2.6"/>
<line x1="506.37" y1="403.40" x2="506.37" y2="411.60" stroke="#000" stroke-width="2.6"/>
<line x1="510.91" y1="403.40" x2="510.91" y2="411.60" stroke="#000" stroke-width="2.6"/>
<line x1="514.44" y1="403.40" x2="514.44" y2="411.60" stroke="#000" stroke-width="2.6"/>
<line x1="517.32" y1="403.40" x2="517.32" y2="411.60" stroke="#000" stroke-width="2.6"/>
<line x1="519.76" y1="403.40" x2="519.76" y2="411.60" stroke="#000" stroke-width="2.6"/>
<line x1="521.87" y1="403.40" x2="521.87" y2="411.60" stroke="#000" stroke-width="2.6"/>
<line x1="523.73" y1="403.40" x2="523.73" y2="411.60" stroke="#000" stroke-width="2.6"/>
<line x1="525.40" y1="403.40" x2="525.40" y2="417.70" stroke="#000" stroke-width="2.9"/>
<line x1="536.36" y1="403.40" x2="536.36" y2="411.60" stroke="#000" stroke-width="2.6"/>
<line x1="542.77" y1="403.40" x2="542.77" y2="411.60" stroke="#000" stroke-width="2.6"/>
<line x1="547.31" y1="403.40" x2="547.31" y2="411.60" stroke="#000" stroke-width="2.6"/>
<line x1="550.84" y1="403.40" x2="550.84" y2="411.60" stroke="#000" stroke-width="2.6"/>
<line x1="553.72" y1="403.40" x2="553.72" y2="411.60" stroke="#000" stroke-width="2.6"/>
<line x1="556.16" y1="403.40" x2="556.16" y2="411.60" stroke="#000" stroke-width="2.6"/>
<line x1="558.27" y1="403.40" x2="558.27" y2="411.60" stroke="#000" stroke-width="2.6"/>
<line x1="560.13" y1="403.40" x2="560.13" y2="411.60" stroke="#000" stroke-width="2.6"/>
<line x1="561.80" y1="403.40" x2="561.80" y2="417.70" stroke="#000" stroke-width="2.9"/>
<line x1="572.76" y1="403.40" x2="572.76" y2="411.60" stroke="#000" stroke-width="2.6"/>
<line x1="579.17" y1="403.40" x2="579.17" y2="411.60" stroke="#000" stroke-width="2.6"/>
<line x1="583.71" y1="403.40" x2="583.71" y2="411.60" stroke="#000" stroke-width="2.6"/>
<line x1="587.24" y1="403.40" x2="587.24" y2="411.60" stroke="#000" stroke-width="2.6"/>
<line x1="590.12" y1="403.40" x2="590.12" y2="411.60" stroke="#000" stroke-width="2.6"/>
<line x1="592.56" y1="403.40" x2="592.56" y2="411.60" stroke="#000" stroke-width="2.6"/>
<line x1="594.67" y1="403.40" x2="594.67" y2="411.60" stroke="#000" stroke-width="2.6"/>
<line x1="596.53" y1="403.40" x2="596.53" y2="411.60" stroke="#000" stroke-width="2.6"/>
<line x1="598.20" y1="403.40" x2="598.20" y2="417.70" stroke="#000" stroke-width="2.9"/>
<line x1="609.16" y1="403.40" x2="609.16" y2="411.60" stroke="#000" stroke-width="2.6"/>
<line x1="615.57" y1="403.40" x2="615.57" y2="411.60" stroke="#000" stroke-width="2.6"/>
<line x1="620.11" y1="403.40" x2="620.11" y2="411.60" stroke="#000" stroke-width="2.6"/>
<line x1="623.64" y1="403.40" x2="623.64" y2="411.60" stroke="#000" stroke-width="2.6"/>
<line x1="626.52" y1="403.40" x2="626.52" y2="411.60" stroke="#000" stroke-width="2.6"/>
<line x1="628.96" y1="403.40" x2="628.96" y2="411.60" stroke="#000" stroke-width="2.6"/>
<line x1="631.07" y1="403.40" x2="631.07" y2="411.60" stroke="#000" stroke-width="2.6"/>
<line x1="632.93" y1="403.40" x2="632.93" y2="411.60" stroke="#000" stroke-width="2.6"/>
<line x1="634.60" y1="403.40" x2="634.60" y2="417.70" stroke="#000" stroke-width="2.9"/>
<line x1="645.56" y1="403.40" x2="645.56" y2="411.60" stroke="#000" stroke-width="2.6"/>
<line x1="651.97" y1="403.40" x2="651.97" y2="411.60" stroke="#000" stroke-width="2.6"/>
<line x1="656.51" y1="403.40" x2="656.51" y2="411.60" stroke="#000" stroke-width="2.6"/>
<line x1="660.04" y1="403.40" x2="660.04" y2="411.60" stroke="#000" stroke-width="2.6"/>
<line x1="662.92" y1="403.40" x2="662.92" y2="411.60" stroke="#000" stroke-width="2.6"/>
<line x1="665.36" y1="403.40" x2="665.36" y2="411.60" stroke="#000" stroke-width="2.6"/>
<line x1="667.47" y1="403.40" x2="667.47" y2="411.60" stroke="#000" stroke-width="2.6"/>
<line x1="669.33" y1="403.40" x2="669.33" y2="411.60" stroke="#000" stroke-width="2.6"/>
<line x1="671.00" y1="403.40" x2="671.00" y2="417.70" stroke="#000" stroke-width="2.9"/>
<line x1="681.96" y1="403.40" x2="681.96" y2="411.60" stroke="#000" stroke-width="2.6"/>
<line x1="688.37" y1="403.40" x2="688.37" y2="411.60" stroke="#000" stroke-width="2.6"/>
<line x1="692.91" y1="403.40" x2="692.91" y2="411.60" stroke="#000" stroke-width="2.6"/>
<line x1="696.44" y1="403.40" x2="696.44" y2="411.60" stroke="#000" stroke-width="2.6"/>
<line x1="699.32" y1="403.40" x2="699.32" y2="411.60" stroke="#000" stroke-width="2.6"/>
<line x1="701.76" y1="403.40" x2="701.76" y2="411.60" stroke="#000" stroke-width="2.6"/>
<line x1="703.87" y1="403.40" x2="703.87" y2="411.60" stroke="#000" stroke-width="2.6"/>
<line x1="705.73" y1="403.40" x2="705.73" y2="411.60" stroke="#000" stroke-width="2.6"/>
<line x1="707.40" y1="403.40" x2="707.40" y2="417.70" stroke="#000" stroke-width="2.9"/>
<line x1="718.36" y1="403.40" x2="718.36" y2="411.60" stroke="#000" stroke-width="2.6"/>
<line x1="724.77" y1="403.40" x2="724.77" y2="411.60" stroke="#000" stroke-width="2.6"/>
<line x1="729.31" y1="403.40" x2="729.31" y2="411.60" stroke="#000" stroke-width="2.6"/>
<line x1="732.84" y1="403.40" x2="732.84" y2="411.60" stroke="#000" stroke-width="2.6"/>
<line x1="735.72" y1="403.40" x2="735.72" y2="411.60" stroke="#000" stroke-width="2.6"/>
<line x1="738.16" y1="403.40" x2="738.16" y2="411.60" stroke="#000" stroke-width="2.6"/>
<line x1="740.27" y1="403.40" x2="740.27" y2="411.60" stroke="#000" stroke-width="2.6"/>
<line x1="742.13" y1="403.40" x2="742.13" y2="411.60" stroke="#000" stroke-width="2.6"/>
<line x1="743.80" y1="403.40" x2="743.80" y2="417.70" stroke="#000" stroke-width="2.9"/>
<line x1="754.76" y1="403.40" x2="754.76" y2="411.60" stroke="#000" stroke-width="2.6"/>
<line x1="761.17" y1="403.40" x2="761.17" y2="411.60" stroke="#000" stroke-width="2.6"/>
<line x1="765.71" y1="403.40" x2="765.71" y2="411.60" stroke="#000" stroke-width="2.6"/>
<line x1="769.24" y1="403.40" x2="769.24" y2="411.60" stroke="#000" stroke-width="2.6"/>
<line x1="772.12" y1="403.40" x2="772.12" y2="411.60" stroke="#000" stroke-width="2.6"/>
<line x1="774.56" y1="403.40" x2="774.56" y2="411.60" stroke="#000" stroke-width="2.6"/>
<line x1="776.67" y1="403.40" x2="776.67" y2="411.60" stroke="#000" stroke-width="2.6"/>
<line x1="778.53" y1="403.40" x2="778.53" y2="411.60" stroke="#000" stroke-width="2.6"/>
<line x1="780.20" y1="403.40" x2="780.20" y2="417.70" stroke="#000" stroke-width="2.9"/>
<text x="469.60" y="169.80" font-size="23" text-anchor="end" letter-spacing="4.8">150</text>
<text x="469.60" y="245.30" font-size="23" text-anchor="end" letter-spacing="4.8">100</text>
<text x="469.60" y="320.90" font-size="23" text-anchor="end" letter-spacing="4.8">50</text>
<text x="469.60" y="396.90" font-size="23" text-anchor="end" letter-spacing="4.8">0</text>
<text x="473.10" y="438.30" font-size="21" textLength="22" lengthAdjust="spacingAndGlyphs" stroke="#000" stroke-width="0.55">10</text>
<text x="495.40" y="432.00" font-size="14" letter-spacing="3.3" stroke="#000" stroke-width="0.55">-4</text>
<text x="515.60" y="438.30" font-size="21" textLength="22" lengthAdjust="spacingAndGlyphs" stroke="#000" stroke-width="0.55">10</text>
<text x="537.90" y="432.00" font-size="14" letter-spacing="3.3" stroke="#000" stroke-width="0.55">-3</text>
<text x="554.35" y="438.30" font-size="21" textLength="22" lengthAdjust="spacingAndGlyphs" stroke="#000" stroke-width="0.55">10</text>
<text x="576.65" y="432.00" font-size="14" letter-spacing="3.3" stroke="#000" stroke-width="0.55">-2</text>
<text x="596.85" y="438.30" font-size="21" textLength="22" lengthAdjust="spacingAndGlyphs" stroke="#000" stroke-width="0.55">10</text>
<text x="619.15" y="432.00" font-size="14" letter-spacing="3.3" stroke="#000" stroke-width="0.55">-1</text>
<text x="635.60" y="438.30" font-size="21" textLength="22" lengthAdjust="spacingAndGlyphs" stroke="#000" stroke-width="0.55">10</text>
<text x="658.40" y="432.00" font-size="14" stroke="#000" stroke-width="0.55">0</text>
<text x="670.60" y="438.30" font-size="21" textLength="22" lengthAdjust="spacingAndGlyphs" stroke="#000" stroke-width="0.55">10</text>
<text x="693.40" y="432.00" font-size="14" stroke="#000" stroke-width="0.55">1</text>
<text x="702.60" y="438.30" font-size="21" textLength="22" lengthAdjust="spacingAndGlyphs" stroke="#000" stroke-width="0.55">10</text>
<text x="725.40" y="432.00" font-size="14" stroke="#000" stroke-width="0.55">2</text>
<text x="733.85" y="438.30" font-size="21" textLength="22" lengthAdjust="spacingAndGlyphs" stroke="#000" stroke-width="0.55">10</text>
<text x="756.65" y="432.00" font-size="14" stroke="#000" stroke-width="0.55">3</text>
<text x="768.10" y="438.30" font-size="21" textLength="22" lengthAdjust="spacingAndGlyphs" stroke="#000" stroke-width="0.55">10</text>
<text x="790.90" y="432.00" font-size="14" stroke="#000" stroke-width="0.55">4</text>
<text x="634.50" y="480.00" font-size="30.7" text-anchor="middle" textLength="138.00" lengthAdjust="spacingAndGlyphs">DHA (µM)</text>
<line x1="838.00" y1="310.50" x2="1122.50" y2="310.50" stroke="#888888" stroke-width="1.3" stroke-dasharray="6.5 2.2"/>
<line x1="1020.50" y1="310.50" x2="1020.50" y2="403.40" stroke="#888888" stroke-width="1.3" stroke-dasharray="4.5 2"/>
<line x1="1044.25" y1="310.50" x2="1044.25" y2="403.40" stroke="#888888" stroke-width="1.3" stroke-dasharray="4.5 2"/>
<polyline points="873.75,255.01 877.40,255.02 881.04,255.02 884.69,255.03 888.33,255.04 891.98,255.05 895.62,255.06 899.27,255.07 902.92,255.09 906.56,255.12 910.21,255.15 913.85,255.19 917.50,255.23 921.15,255.29 924.79,255.37 928.44,255.46 932.08,255.58 935.73,255.73 939.38,255.92 943.02,256.15 946.67,256.44 950.31,256.81 953.96,257.26 957.60,257.82 961.25,258.52 964.90,259.37 968.54,260.42 972.19,261.70 975.83,263.25 979.48,265.11 983.12,267.30 986.77,269.88 990.42,272.85 994.06,276.21 997.71,279.95 1001.35,284.02 1005.00,288.34 1008.65,292.82 1012.29,297.34 1015.94,301.79 1019.58,306.06 1023.23,310.05 1026.88,313.69 1030.52,316.96 1034.17,319.82 1037.81,322.30 1041.46,324.40 1045.10,326.17 1048.75,327.65 1052.40,328.87 1056.04,329.86 1059.69,330.68 1063.33,331.33 1066.98,331.87 1070.62,332.29 1074.27,332.64 1077.92,332.91 1081.56,333.13 1085.21,333.31 1088.85,333.45 1092.50,333.56" fill="none" stroke="#9a0000" stroke-width="2.4" stroke-linejoin="round"/>
<line x1="873.75" y1="249.00" x2="873.75" y2="262.00" stroke="#9a0000" stroke-width="2.2"/>
<line x1="868.75" y1="249.00" x2="878.75" y2="249.00" stroke="#9a0000" stroke-width="2.2"/>
<line x1="868.75" y1="262.00" x2="878.75" y2="262.00" stroke="#9a0000" stroke-width="2.2"/>
<rect x="868.55" y="250.30" width="10.40" height="10.40" fill="#9a0000"/>
<rect x="904.80" y="250.80" width="10.40" height="10.40" fill="#9a0000"/>
<line x1="946.50" y1="260.00" x2="946.50" y2="270.00" stroke="#9a0000" stroke-width="2.2"/>
<line x1="941.50" y1="260.00" x2="951.50" y2="260.00" stroke="#9a0000" stroke-width="2.2"/>
<line x1="941.50" y1="270.00" x2="951.50" y2="270.00" stroke="#9a0000" stroke-width="2.2"/>
<rect x="941.30" y="259.80" width="10.40" height="10.40" fill="#9a0000"/>
<line x1="983.25" y1="267.00" x2="983.25" y2="287.00" stroke="#9a0000" stroke-width="2.2"/>
<line x1="978.25" y1="267.00" x2="988.25" y2="267.00" stroke="#9a0000" stroke-width="2.2"/>
<line x1="978.25" y1="287.00" x2="988.25" y2="287.00" stroke="#9a0000" stroke-width="2.2"/>
<rect x="978.05" y="273.55" width="10.40" height="10.40" fill="#9a0000"/>
<rect x="1014.30" y="293.05" width="10.40" height="10.40" fill="#9a0000"/>
<line x1="1056.25" y1="325.00" x2="1056.25" y2="338.00" stroke="#9a0000" stroke-width="2.2"/>
<line x1="1051.25" y1="325.00" x2="1061.25" y2="325.00" stroke="#9a0000" stroke-width="2.2"/>
<line x1="1051.25" y1="338.00" x2="1061.25" y2="338.00" stroke="#9a0000" stroke-width="2.2"/>
<rect x="1051.05" y="327.30" width="10.40" height="10.40" fill="#9a0000"/>
<line x1="1092.50" y1="328.00" x2="1092.50" y2="340.00" stroke="#9a0000" stroke-width="2.2"/>
<line x1="1087.50" y1="328.00" x2="1097.50" y2="328.00" stroke="#9a0000" stroke-width="2.2"/>
<line x1="1087.50" y1="340.00" x2="1097.50" y2="340.00" stroke="#9a0000" stroke-width="2.2"/>
<rect x="1087.30" y="329.05" width="10.40" height="10.40" fill="#9a0000"/>
<polyline points="873.75,245.76 877.40,245.76 881.04,245.76 884.69,245.77 888.33,245.77 891.98,245.78 895.62,245.78 899.27,245.79 902.92,245.80 906.56,245.81 910.21,245.82 913.85,245.83 917.50,245.85 921.15,245.88 924.79,245.91 928.44,245.94 932.08,245.98 935.73,246.04 939.38,246.10 943.02,246.18 946.67,246.27 950.31,246.39 953.96,246.53 957.60,246.71 961.25,246.92 964.90,247.18 968.54,247.49 972.19,247.87 975.83,248.34 979.48,248.90 983.12,249.58 986.77,250.40 990.42,251.39 994.06,252.56 997.71,253.97 1001.35,255.63 1005.00,257.58 1008.65,259.86 1012.29,262.49 1015.94,265.50 1019.58,268.90 1023.23,272.69 1026.88,276.85 1030.52,281.32 1034.17,286.07 1037.81,290.99 1041.46,296.01 1045.10,301.01 1048.75,305.90 1052.40,310.58 1056.04,314.98 1059.69,319.05 1063.33,322.74 1066.98,326.04 1070.62,328.95 1074.27,331.50 1077.92,333.69 1081.56,335.57 1085.21,337.16 1088.85,338.50 1092.50,339.63" fill="none" stroke="#666666" stroke-width="2.4" stroke-linejoin="round"/>
<line x1="873.75" y1="232.00" x2="873.75" y2="256.00" stroke="#666666" stroke-width="2.2"/>
<line x1="868.75" y1="232.00" x2="878.75" y2="232.00" stroke="#666666" stroke-width="2.2"/>
<line x1="868.75" y1="256.00" x2="878.75" y2="256.00" stroke="#666666" stroke-width="2.2"/>
<circle cx="873.75" cy="243.75" r="5.00" fill="#666666"/>
<circle cx="910.00" cy="242.00" r="5.00" fill="#666666"/>
<line x1="946.50" y1="234.50" x2="946.50" y2="266.00" stroke="#666666" stroke-width="2.2"/>
<line x1="941.50" y1="234.50" x2="951.50" y2="234.50" stroke="#666666" stroke-width="2.2"/>
<line x1="941.50" y1="266.00" x2="951.50" y2="266.00" stroke="#666666" stroke-width="2.2"/>
<circle cx="946.50" cy="250.00" r="5.00" fill="#666666"/>
<line x1="983.25" y1="246.00" x2="983.25" y2="267.00" stroke="#666666" stroke-width="2.2"/>
<line x1="978.25" y1="246.00" x2="988.25" y2="246.00" stroke="#666666" stroke-width="2.2"/>
<line x1="978.25" y1="267.00" x2="988.25" y2="267.00" stroke="#666666" stroke-width="2.2"/>
<circle cx="983.25" cy="256.75" r="5.00" fill="#666666"/>
<line x1="1019.50" y1="254.00" x2="1019.50" y2="290.00" stroke="#666666" stroke-width="2.2"/>
<line x1="1014.50" y1="254.00" x2="1024.50" y2="254.00" stroke="#666666" stroke-width="2.2"/>
<line x1="1014.50" y1="290.00" x2="1024.50" y2="290.00" stroke="#666666" stroke-width="2.2"/>
<circle cx="1019.50" cy="272.00" r="5.00" fill="#666666"/>
<line x1="1056.25" y1="307.50" x2="1056.25" y2="325.00" stroke="#666666" stroke-width="2.2"/>
<line x1="1051.25" y1="307.50" x2="1061.25" y2="307.50" stroke="#666666" stroke-width="2.2"/>
<line x1="1051.25" y1="325.00" x2="1061.25" y2="325.00" stroke="#666666" stroke-width="2.2"/>
<circle cx="1056.25" cy="316.50" r="5.00" fill="#666666"/>
<line x1="1092.50" y1="329.00" x2="1092.50" y2="358.50" stroke="#666666" stroke-width="2.2"/>
<line x1="1087.50" y1="329.00" x2="1097.50" y2="329.00" stroke="#666666" stroke-width="2.2"/>
<line x1="1087.50" y1="358.50" x2="1097.50" y2="358.50" stroke="#666666" stroke-width="2.2"/>
<circle cx="1092.50" cy="343.75" r="5.00" fill="#666666"/>
<line x1="838.00" y1="160.00" x2="838.00" y2="404.90" stroke="#000" stroke-width="3"/>
<line x1="836.50" y1="403.40" x2="1130.70" y2="403.40" stroke="#000" stroke-width="3"/>
<line x1="823.70" y1="161.50" x2="838.00" y2="161.50" stroke="#000" stroke-width="2.6"/>
<line x1="823.70" y1="237.00" x2="838.00" y2="237.00" stroke="#000" stroke-width="2.6"/>
<line x1="823.70" y1="312.60" x2="838.00" y2="312.60" stroke="#000" stroke-width="2.6"/>
<line x1="823.70" y1="388.60" x2="838.00" y2="388.60" stroke="#000" stroke-width="2.6"/>
<line x1="838.00" y1="403.40" x2="838.00" y2="417.70" stroke="#000" stroke-width="2.9"/>
<line x1="848.96" y1="403.40" x2="848.96" y2="411.60" stroke="#000" stroke-width="2.6"/>
<line x1="855.37" y1="403.40" x2="855.37" y2="411.60" stroke="#000" stroke-width="2.6"/>
<line x1="859.91" y1="403.40" x2="859.91" y2="411.60" stroke="#000" stroke-width="2.6"/>
<line x1="863.44" y1="403.40" x2="863.44" y2="411.60" stroke="#000" stroke-width="2.6"/>
<line x1="866.32" y1="403.40" x2="866.32" y2="411.60" stroke="#000" stroke-width="2.6"/>
<line x1="868.76" y1="403.40" x2="868.76" y2="411.60" stroke="#000" stroke-width="2.6"/>
<line x1="870.87" y1="403.40" x2="870.87" y2="411.60" stroke="#000" stroke-width="2.6"/>
<line x1="872.73" y1="403.40" x2="872.73" y2="411.60" stroke="#000" stroke-width="2.6"/>
<line x1="874.40" y1="403.40" x2="874.40" y2="417.70" stroke="#000" stroke-width="2.9"/>
<line x1="885.36" y1="403.40" x2="885.36" y2="411.60" stroke="#000" stroke-width="2.6"/>
<line x1="891.77" y1="403.40" x2="891.77" y2="411.60" stroke="#000" stroke-width="2.6"/>
<line x1="896.31" y1="403.40" x2="896.31" y2="411.60" stroke="#000" stroke-width="2.6"/>
<line x1="899.84" y1="403.40" x2="899.84" y2="411.60" stroke="#000" stroke-width="2.6"/>
<line x1="902.72" y1="403.40" x2="902.72" y2="411.60" stroke="#000" stroke-width="2.6"/>
<line x1="905.16" y1="403.40" x2="905.16" y2="411.60" stroke="#000" stroke-width="2.6"/>
<line x1="907.27" y1="403.40" x2="907.27" y2="411.60" stroke="#000" stroke-width="2.6"/>
<line x1="909.13" y1="403.40" x2="909.13" y2="411.60" stroke="#000" stroke-width="2.6"/>
<line x1="910.80" y1="403.40" x2="910.80" y2="417.70" stroke="#000" stroke-width="2.9"/>
<line x1="921.76" y1="403.40" x2="921.76" y2="411.60" stroke="#000" stroke-width="2.6"/>
<line x1="928.17" y1="403.40" x2="928.17" y2="411.60" stroke="#000" stroke-width="2.6"/>
<line x1="932.71" y1="403.40" x2="932.71" y2="411.60" stroke="#000" stroke-width="2.6"/>
<line x1="936.24" y1="403.40" x2="936.24" y2="411.60" stroke="#000" stroke-width="2.6"/>
<line x1="939.12" y1="403.40" x2="939.12" y2="411.60" stroke="#000" stroke-width="2.6"/>
<line x1="941.56" y1="403.40" x2="941.56" y2="411.60" stroke="#000" stroke-width="2.6"/>
<line x1="943.67" y1="403.40" x2="943.67" y2="411.60" stroke="#000" stroke-width="2.6"/>
<line x1="945.53" y1="403.40" x2="945.53" y2="411.60" stroke="#000" stroke-width="2.6"/>
<line x1="947.20" y1="403.40" x2="947.20" y2="417.70" stroke="#000" stroke-width="2.9"/>
<line x1="958.16" y1="403.40" x2="958.16" y2="411.60" stroke="#000" stroke-width="2.6"/>
<line x1="964.57" y1="403.40" x2="964.57" y2="411.60" stroke="#000" stroke-width="2.6"/>
<line x1="969.11" y1="403.40" x2="969.11" y2="411.60" stroke="#000" stroke-width="2.6"/>
<line x1="972.64" y1="403.40" x2="972.64" y2="411.60" stroke="#000" stroke-width="2.6"/>
<line x1="975.52" y1="403.40" x2="975.52" y2="411.60" stroke="#000" stroke-width="2.6"/>
<line x1="977.96" y1="403.40" x2="977.96" y2="411.60" stroke="#000" stroke-width="2.6"/>
<line x1="980.07" y1="403.40" x2="980.07" y2="411.60" stroke="#000" stroke-width="2.6"/>
<line x1="981.93" y1="403.40" x2="981.93" y2="411.60" stroke="#000" stroke-width="2.6"/>
<line x1="983.60" y1="403.40" x2="983.60" y2="417.70" stroke="#000" stroke-width="2.9"/>
<line x1="994.56" y1="403.40" x2="994.56" y2="411.60" stroke="#000" stroke-width="2.6"/>
<line x1="1000.97" y1="403.40" x2="1000.97" y2="411.60" stroke="#000" stroke-width="2.6"/>
<line x1="1005.51" y1="403.40" x2="1005.51" y2="411.60" stroke="#000" stroke-width="2.6"/>
<line x1="1009.04" y1="403.40" x2="1009.04" y2="411.60" stroke="#000" stroke-width="2.6"/>
<line x1="1011.92" y1="403.40" x2="1011.92" y2="411.60" stroke="#000" stroke-width="2.6"/>
<line x1="1014.36" y1="403.40" x2="1014.36" y2="411.60" stroke="#000" stroke-width="2.6"/>
<line x1="1016.47" y1="403.40" x2="1016.47" y2="411.60" stroke="#000" stroke-width="2.6"/>
<line x1="1018.33" y1="403.40" x2="1018.33" y2="411.60" stroke="#000" stroke-width="2.6"/>
<line x1="1020.00" y1="403.40" x2="1020.00" y2="417.70" stroke="#000" stroke-width="2.9"/>
<line x1="1030.96" y1="403.40" x2="1030.96" y2="411.60" stroke="#000" stroke-width="2.6"/>
<line x1="1037.37" y1="403.40" x2="1037.37" y2="411.60" stroke="#000" stroke-width="2.6"/>
<line x1="1041.91" y1="403.40" x2="1041.91" y2="411.60" stroke="#000" stroke-width="2.6"/>
<line x1="1045.44" y1="403.40" x2="1045.44" y2="411.60" stroke="#000" stroke-width="2.6"/>
<line x1="1048.32" y1="403.40" x2="1048.32" y2="411.60" stroke="#000" stroke-width="2.6"/>
<line x1="1050.76" y1="403.40" x2="1050.76" y2="411.60" stroke="#000" stroke-width="2.6"/>
<line x1="1052.87" y1="403.40" x2="1052.87" y2="411.60" stroke="#000" stroke-width="2.6"/>
<line x1="1054.73" y1="403.40" x2="1054.73" y2="411.60" stroke="#000" stroke-width="2.6"/>
<line x1="1056.40" y1="403.40" x2="1056.40" y2="417.70" stroke="#000" stroke-width="2.9"/>
<line x1="1067.36" y1="403.40" x2="1067.36" y2="411.60" stroke="#000" stroke-width="2.6"/>
<line x1="1073.77" y1="403.40" x2="1073.77" y2="411.60" stroke="#000" stroke-width="2.6"/>
<line x1="1078.31" y1="403.40" x2="1078.31" y2="411.60" stroke="#000" stroke-width="2.6"/>
<line x1="1081.84" y1="403.40" x2="1081.84" y2="411.60" stroke="#000" stroke-width="2.6"/>
<line x1="1084.72" y1="403.40" x2="1084.72" y2="411.60" stroke="#000" stroke-width="2.6"/>
<line x1="1087.16" y1="403.40" x2="1087.16" y2="411.60" stroke="#000" stroke-width="2.6"/>
<line x1="1089.27" y1="403.40" x2="1089.27" y2="411.60" stroke="#000" stroke-width="2.6"/>
<line x1="1091.13" y1="403.40" x2="1091.13" y2="411.60" stroke="#000" stroke-width="2.6"/>
<line x1="1092.80" y1="403.40" x2="1092.80" y2="417.70" stroke="#000" stroke-width="2.9"/>
<line x1="1103.76" y1="403.40" x2="1103.76" y2="411.60" stroke="#000" stroke-width="2.6"/>
<line x1="1110.17" y1="403.40" x2="1110.17" y2="411.60" stroke="#000" stroke-width="2.6"/>
<line x1="1114.71" y1="403.40" x2="1114.71" y2="411.60" stroke="#000" stroke-width="2.6"/>
<line x1="1118.24" y1="403.40" x2="1118.24" y2="411.60" stroke="#000" stroke-width="2.6"/>
<line x1="1121.12" y1="403.40" x2="1121.12" y2="411.60" stroke="#000" stroke-width="2.6"/>
<line x1="1123.56" y1="403.40" x2="1123.56" y2="411.60" stroke="#000" stroke-width="2.6"/>
<line x1="1125.67" y1="403.40" x2="1125.67" y2="411.60" stroke="#000" stroke-width="2.6"/>
<line x1="1127.53" y1="403.40" x2="1127.53" y2="411.60" stroke="#000" stroke-width="2.6"/>
<line x1="1129.20" y1="403.40" x2="1129.20" y2="417.70" stroke="#000" stroke-width="2.9"/>
<text x="818.60" y="169.80" font-size="23" text-anchor="end" letter-spacing="4.8">150</text>
<text x="818.60" y="245.30" font-size="23" text-anchor="end" letter-spacing="4.8">100</text>
<text x="818.60" y="320.90" font-size="23" text-anchor="end" letter-spacing="4.8">50</text>
<text x="818.60" y="396.90" font-size="23" text-anchor="end" letter-spacing="4.8">0</text>
<text x="823.60" y="438.30" font-size="21" textLength="22" lengthAdjust="spacingAndGlyphs" stroke="#000" stroke-width="0.55">10</text>
<text x="845.90" y="432.00" font-size="14" letter-spacing="3.3" stroke="#000" stroke-width="0.55">-4</text>
<text x="866.60" y="438.30" font-size="21" textLength="22" lengthAdjust="spacingAndGlyphs" stroke="#000" stroke-width="0.55">10</text>
<text x="888.90" y="432.00" font-size="14" letter-spacing="3.3" stroke="#000" stroke-width="0.55">-3</text>
<text x="906.10" y="438.30" font-size="21" textLength="22" lengthAdjust="spacingAndGlyphs" stroke="#000" stroke-width="0.55">10</text>
<text x="928.40" y="432.00" font-size="14" letter-spacing="3.3" stroke="#000" stroke-width="0.55">-2</text>
<text x="948.35" y="438.30" font-size="21" textLength="22" lengthAdjust="spacingAndGlyphs" stroke="#000" stroke-width="0.55">10</text>
<text x="970.65" y="432.00" font-size="14" letter-spacing="3.3" stroke="#000" stroke-width="0.55">-1</text>
<text x="987.10" y="438.30" font-size="21" textLength="22" lengthAdjust="spacingAndGlyphs" stroke="#000" stroke-width="0.55">10</text>
<text x="1009.90" y="432.00" font-size="14" stroke="#000" stroke-width="0.55">0</text>
<text x="1021.60" y="438.30" font-size="21" textLength="22" lengthAdjust="spacingAndGlyphs" stroke="#000" stroke-width="0.55">10</text>
<text x="1044.40" y="432.00" font-size="14" stroke="#000" stroke-width="0.55">1</text>
<text x="1054.10" y="438.30" font-size="21" textLength="22" lengthAdjust="spacingAndGlyphs" stroke="#000" stroke-width="0.55">10</text>
<text x="1076.90" y="432.00" font-size="14" stroke="#000" stroke-width="0.55">2</text>
<text x="1085.35" y="438.30" font-size="21" textLength="22" lengthAdjust="spacingAndGlyphs" stroke="#000" stroke-width="0.55">10</text>
<text x="1108.15" y="432.00" font-size="14" stroke="#000" stroke-width="0.55">3</text>
<text x="1119.10" y="438.30" font-size="21" textLength="22" lengthAdjust="spacingAndGlyphs" stroke="#000" stroke-width="0.55">10</text>
<text x="1141.90" y="432.00" font-size="14" stroke="#000" stroke-width="0.55">4</text>
<text x="983.75" y="480.00" font-size="30.7" text-anchor="middle" textLength="224.00" lengthAdjust="spacingAndGlyphs">Rapamycin (nM)</text>
<line x1="1186.75" y1="310.50" x2="1472.00" y2="310.50" stroke="#888888" stroke-width="1.3" stroke-dasharray="6.5 2.2"/>
<line x1="1343.00" y1="310.50" x2="1343.00" y2="404.60" stroke="#888888" stroke-width="1.3" stroke-dasharray="4.5 2"/>
<line x1="1383.00" y1="310.50" x2="1383.00" y2="404.60" stroke="#888888" stroke-width="1.3" stroke-dasharray="4.5 2"/>
<polyline points="1222.50,250.10 1226.16,250.12 1229.82,250.15 1233.47,250.19 1237.13,250.23 1240.79,250.29 1244.45,250.36 1248.11,250.44 1251.77,250.55 1255.42,250.68 1259.08,250.84 1262.74,251.05 1266.40,251.29 1270.06,251.60 1273.72,251.98 1277.38,252.44 1281.03,253.02 1284.69,253.72 1288.35,254.58 1292.01,255.63 1295.67,256.91 1299.33,258.45 1302.98,260.32 1306.64,262.55 1310.30,265.19 1313.96,268.31 1317.62,271.94 1321.28,276.11 1324.93,280.84 1328.59,286.11 1332.25,291.89 1335.91,298.09 1339.57,304.61 1343.22,311.32 1346.88,318.06 1350.54,324.68 1354.20,331.03 1357.86,337.00 1361.52,342.49 1365.17,347.46 1368.83,351.86 1372.49,355.72 1376.15,359.05 1379.81,361.89 1383.47,364.29 1387.12,366.30 1390.78,367.97 1394.44,369.36 1398.10,370.50 1401.76,371.44 1405.42,372.20 1409.08,372.83 1412.73,373.34 1416.39,373.75 1420.05,374.08 1423.71,374.36 1427.37,374.58 1431.03,374.75 1434.68,374.90 1438.34,375.01 1442.00,375.11" fill="none" stroke="#9a0000" stroke-width="2.4" stroke-linejoin="round"/>
<line x1="1222.50" y1="233.00" x2="1222.50" y2="250.00" stroke="#9a0000" stroke-width="2.2"/>
<line x1="1217.50" y1="233.00" x2="1227.50" y2="233.00" stroke="#9a0000" stroke-width="2.2"/>
<line x1="1217.50" y1="250.00" x2="1227.50" y2="250.00" stroke="#9a0000" stroke-width="2.2"/>
<rect x="1217.30" y="236.05" width="10.40" height="10.40" fill="#9a0000"/>
<line x1="1259.50" y1="232.00" x2="1259.50" y2="247.00" stroke="#9a0000" stroke-width="2.2"/>
<line x1="1254.50" y1="232.00" x2="1264.50" y2="232.00" stroke="#9a0000" stroke-width="2.2"/>
<line x1="1254.50" y1="247.00" x2="1264.50" y2="247.00" stroke="#9a0000" stroke-width="2.2"/>
<rect x="1254.30" y="234.05" width="10.40" height="10.40" fill="#9a0000"/>
<rect x="1290.80" y="276.55" width="10.40" height="10.40" fill="#9a0000"/>
<rect x="1327.55" y="298.55" width="10.40" height="10.40" fill="#9a0000"/>
<line x1="1369.00" y1="316.50" x2="1369.00" y2="334.50" stroke="#9a0000" stroke-width="2.2"/>
<line x1="1364.00" y1="316.50" x2="1374.00" y2="316.50" stroke="#9a0000" stroke-width="2.2"/>
<line x1="1364.00" y1="334.50" x2="1374.00" y2="334.50" stroke="#9a0000" stroke-width="2.2"/>
<rect x="1363.80" y="320.30" width="10.40" height="10.40" fill="#9a0000"/>
<rect x="1400.55" y="372.30" width="10.40" height="10.40" fill="#9a0000"/>
<rect x="1436.80" y="383.05" width="10.40" height="10.40" fill="#9a0000"/>
<polyline points="1222.50,245.75 1226.16,245.75 1229.82,245.75 1233.47,245.76 1237.13,245.76 1240.79,245.76 1244.45,245.76 1248.11,245.76 1251.77,245.77 1255.42,245.77 1259.08,245.78 1262.74,245.79 1266.40,245.80 1270.06,245.81 1273.72,245.83 1277.38,245.85 1281.03,245.88 1284.69,245.91 1288.35,245.96 1292.01,246.01 1295.67,246.09 1299.33,246.18 1302.98,246.30 1306.64,246.45 1310.30,246.64 1313.96,246.89 1317.62,247.20 1321.28,247.59 1324.93,248.09 1328.59,248.73 1332.25,249.53 1335.91,250.54 1339.57,251.81 1343.22,253.40 1346.88,255.38 1350.54,257.82 1354.20,260.82 1357.86,264.46 1361.52,268.83 1365.17,273.99 1368.83,280.00 1372.49,286.86 1376.15,294.50 1379.81,302.82 1383.47,311.63 1387.12,320.69 1390.78,329.74 1394.44,338.52 1398.10,346.79 1401.76,354.39 1405.42,361.18 1409.08,367.14 1412.73,372.25 1416.39,376.56 1420.05,380.16 1423.71,383.11 1427.37,385.52 1431.03,387.47 1434.68,389.03 1438.34,390.29 1442.00,391.28" fill="none" stroke="#666666" stroke-width="2.4" stroke-linejoin="round"/>
<line x1="1222.50" y1="228.50" x2="1222.50" y2="260.50" stroke="#666666" stroke-width="2.2"/>
<line x1="1217.50" y1="228.50" x2="1227.50" y2="228.50" stroke="#666666" stroke-width="2.2"/>
<line x1="1217.50" y1="260.50" x2="1227.50" y2="260.50" stroke="#666666" stroke-width="2.2"/>
<circle cx="1222.50" cy="244.50" r="5.00" fill="#666666"/>
<line x1="1259.50" y1="230.00" x2="1259.50" y2="264.00" stroke="#666666" stroke-width="2.2"/>
<line x1="1254.50" y1="230.00" x2="1264.50" y2="230.00" stroke="#666666" stroke-width="2.2"/>
<line x1="1254.50" y1="264.00" x2="1264.50" y2="264.00" stroke="#666666" stroke-width="2.2"/>
<circle cx="1259.50" cy="247.00" r="5.00" fill="#666666"/>
<line x1="1296.00" y1="234.00" x2="1296.00" y2="268.00" stroke="#666666" stroke-width="2.2"/>
<line x1="1291.00" y1="234.00" x2="1301.00" y2="234.00" stroke="#666666" stroke-width="2.2"/>
<line x1="1291.00" y1="268.00" x2="1301.00" y2="268.00" stroke="#666666" stroke-width="2.2"/>
<circle cx="1296.00" cy="251.25" r="5.00" fill="#666666"/>
<line x1="1332.75" y1="235.50" x2="1332.75" y2="272.00" stroke="#666666" stroke-width="2.2"/>
<line x1="1327.75" y1="235.50" x2="1337.75" y2="235.50" stroke="#666666" stroke-width="2.2"/>
<line x1="1327.75" y1="272.00" x2="1337.75" y2="272.00" stroke="#666666" stroke-width="2.2"/>
<circle cx="1332.75" cy="254.25" r="5.00" fill="#666666"/>
<line x1="1369.00" y1="274.00" x2="1369.00" y2="289.50" stroke="#666666" stroke-width="2.2"/>
<line x1="1364.00" y1="274.00" x2="1374.00" y2="274.00" stroke="#666666" stroke-width="2.2"/>
<line x1="1364.00" y1="289.50" x2="1374.00" y2="289.50" stroke="#666666" stroke-width="2.2"/>
<circle cx="1369.00" cy="281.75" r="5.00" fill="#666666"/>
<rect x="1400.55" y="369.80" width="10.40" height="10.40" fill="#666666"/>
<rect x="1436.80" y="382.80" width="10.40" height="10.40" fill="#666666"/>
<line x1="1186.75" y1="160.50" x2="1186.75" y2="406.10" stroke="#000" stroke-width="3"/>
<line x1="1185.25" y1="404.60" x2="1479.45" y2="404.60" stroke="#000" stroke-width="3"/>
<line x1="1172.45" y1="162.00" x2="1186.75" y2="162.00" stroke="#000" stroke-width="2.6"/>
<line x1="1172.45" y1="238.00" x2="1186.75" y2="238.00" stroke="#000" stroke-width="2.6"/>
<line x1="1172.45" y1="313.70" x2="1186.75" y2="313.70" stroke="#000" stroke-width="2.6"/>
<line x1="1172.45" y1="390.00" x2="1186.75" y2="390.00" stroke="#000" stroke-width="2.6"/>
<line x1="1186.75" y1="404.60" x2="1186.75" y2="418.90" stroke="#000" stroke-width="2.9"/>
<line x1="1197.71" y1="404.60" x2="1197.71" y2="412.80" stroke="#000" stroke-width="2.6"/>
<line x1="1204.12" y1="404.60" x2="1204.12" y2="412.80" stroke="#000" stroke-width="2.6"/>
<line x1="1208.66" y1="404.60" x2="1208.66" y2="412.80" stroke="#000" stroke-width="2.6"/>
<line x1="1212.19" y1="404.60" x2="1212.19" y2="412.80" stroke="#000" stroke-width="2.6"/>
<line x1="1215.07" y1="404.60" x2="1215.07" y2="412.80" stroke="#000" stroke-width="2.6"/>
<line x1="1217.51" y1="404.60" x2="1217.51" y2="412.80" stroke="#000" stroke-width="2.6"/>
<line x1="1219.62" y1="404.60" x2="1219.62" y2="412.80" stroke="#000" stroke-width="2.6"/>
<line x1="1221.48" y1="404.60" x2="1221.48" y2="412.80" stroke="#000" stroke-width="2.6"/>
<line x1="1223.15" y1="404.60" x2="1223.15" y2="418.90" stroke="#000" stroke-width="2.9"/>
<line x1="1234.11" y1="404.60" x2="1234.11" y2="412.80" stroke="#000" stroke-width="2.6"/>
<line x1="1240.52" y1="404.60" x2="1240.52" y2="412.80" stroke="#000" stroke-width="2.6"/>
<line x1="1245.06" y1="404.60" x2="1245.06" y2="412.80" stroke="#000" stroke-width="2.6"/>
<line x1="1248.59" y1="404.60" x2="1248.59" y2="412.80" stroke="#000" stroke-width="2.6"/>
<line x1="1251.47" y1="404.60" x2="1251.47" y2="412.80" stroke="#000" stroke-width="2.6"/>
<line x1="1253.91" y1="404.60" x2="1253.91" y2="412.80" stroke="#000" stroke-width="2.6"/>
<line x1="1256.02" y1="404.60" x2="1256.02" y2="412.80" stroke="#000" stroke-width="2.6"/>
<line x1="1257.88" y1="404.60" x2="1257.88" y2="412.80" stroke="#000" stroke-width="2.6"/>
<line x1="1259.55" y1="404.60" x2="1259.55" y2="418.90" stroke="#000" stroke-width="2.9"/>
<line x1="1270.51" y1="404.60" x2="1270.51" y2="412.80" stroke="#000" stroke-width="2.6"/>
<line x1="1276.92" y1="404.60" x2="1276.92" y2="412.80" stroke="#000" stroke-width="2.6"/>
<line x1="1281.46" y1="404.60" x2="1281.46" y2="412.80" stroke="#000" stroke-width="2.6"/>
<line x1="1284.99" y1="404.60" x2="1284.99" y2="412.80" stroke="#000" stroke-width="2.6"/>
<line x1="1287.87" y1="404.60" x2="1287.87" y2="412.80" stroke="#000" stroke-width="2.6"/>
<line x1="1290.31" y1="404.60" x2="1290.31" y2="412.80" stroke="#000" stroke-width="2.6"/>
<line x1="1292.42" y1="404.60" x2="1292.42" y2="412.80" stroke="#000" stroke-width="2.6"/>
<line x1="1294.28" y1="404.60" x2="1294.28" y2="412.80" stroke="#000" stroke-width="2.6"/>
<line x1="1295.95" y1="404.60" x2="1295.95" y2="418.90" stroke="#000" stroke-width="2.9"/>
<line x1="1306.91" y1="404.60" x2="1306.91" y2="412.80" stroke="#000" stroke-width="2.6"/>
<line x1="1313.32" y1="404.60" x2="1313.32" y2="412.80" stroke="#000" stroke-width="2.6"/>
<line x1="1317.86" y1="404.60" x2="1317.86" y2="412.80" stroke="#000" stroke-width="2.6"/>
<line x1="1321.39" y1="404.60" x2="1321.39" y2="412.80" stroke="#000" stroke-width="2.6"/>
<line x1="1324.27" y1="404.60" x2="1324.27" y2="412.80" stroke="#000" stroke-width="2.6"/>
<line x1="1326.71" y1="404.60" x2="1326.71" y2="412.80" stroke="#000" stroke-width="2.6"/>
<line x1="1328.82" y1="404.60" x2="1328.82" y2="412.80" stroke="#000" stroke-width="2.6"/>
<line x1="1330.68" y1="404.60" x2="1330.68" y2="412.80" stroke="#000" stroke-width="2.6"/>
<line x1="1332.35" y1="404.60" x2="1332.35" y2="418.90" stroke="#000" stroke-width="2.9"/>
<line x1="1343.31" y1="404.60" x2="1343.31" y2="412.80" stroke="#000" stroke-width="2.6"/>
<line x1="1349.72" y1="404.60" x2="1349.72" y2="412.80" stroke="#000" stroke-width="2.6"/>
<line x1="1354.26" y1="404.60" x2="1354.26" y2="412.80" stroke="#000" stroke-width="2.6"/>
<line x1="1357.79" y1="404.60" x2="1357.79" y2="412.80" stroke="#000" stroke-width="2.6"/>
<line x1="1360.67" y1="404.60" x2="1360.67" y2="412.80" stroke="#000" stroke-width="2.6"/>
<line x1="1363.11" y1="404.60" x2="1363.11" y2="412.80" stroke="#000" stroke-width="2.6"/>
<line x1="1365.22" y1="404.60" x2="1365.22" y2="412.80" stroke="#000" stroke-width="2.6"/>
<line x1="1367.08" y1="404.60" x2="1367.08" y2="412.80" stroke="#000" stroke-width="2.6"/>
<line x1="1368.75" y1="404.60" x2="1368.75" y2="418.90" stroke="#000" stroke-width="2.9"/>
<line x1="1379.71" y1="404.60" x2="1379.71" y2="412.80" stroke="#000" stroke-width="2.6"/>
<line x1="1386.12" y1="404.60" x2="1386.12" y2="412.80" stroke="#000" stroke-width="2.6"/>
<line x1="1390.66" y1="404.60" x2="1390.66" y2="412.80" stroke="#000" stroke-width="2.6"/>
<line x1="1394.19" y1="404.60" x2="1394.19" y2="412.80" stroke="#000" stroke-width="2.6"/>
<line x1="1397.07" y1="404.60" x2="1397.07" y2="412.80" stroke="#000" stroke-width="2.6"/>
<line x1="1399.51" y1="404.60" x2="1399.51" y2="412.80" stroke="#000" stroke-width="2.6"/>
<line x1="1401.62" y1="404.60" x2="1401.62" y2="412.80" stroke="#000" stroke-width="2.6"/>
<line x1="1403.48" y1="404.60" x2="1403.48" y2="412.80" stroke="#000" stroke-width="2.6"/>
<line x1="1405.15" y1="404.60" x2="1405.15" y2="418.90" stroke="#000" stroke-width="2.9"/>
<line x1="1416.11" y1="404.60" x2="1416.11" y2="412.80" stroke="#000" stroke-width="2.6"/>
<line x1="1422.52" y1="404.60" x2="1422.52" y2="412.80" stroke="#000" stroke-width="2.6"/>
<line x1="1427.06" y1="404.60" x2="1427.06" y2="412.80" stroke="#000" stroke-width="2.6"/>
<line x1="1430.59" y1="404.60" x2="1430.59" y2="412.80" stroke="#000" stroke-width="2.6"/>
<line x1="1433.47" y1="404.60" x2="1433.47" y2="412.80" stroke="#000" stroke-width="2.6"/>
<line x1="1435.91" y1="404.60" x2="1435.91" y2="412.80" stroke="#000" stroke-width="2.6"/>
<line x1="1438.02" y1="404.60" x2="1438.02" y2="412.80" stroke="#000" stroke-width="2.6"/>
<line x1="1439.88" y1="404.60" x2="1439.88" y2="412.80" stroke="#000" stroke-width="2.6"/>
<line x1="1441.55" y1="404.60" x2="1441.55" y2="418.90" stroke="#000" stroke-width="2.9"/>
<line x1="1452.51" y1="404.60" x2="1452.51" y2="412.80" stroke="#000" stroke-width="2.6"/>
<line x1="1458.92" y1="404.60" x2="1458.92" y2="412.80" stroke="#000" stroke-width="2.6"/>
<line x1="1463.46" y1="404.60" x2="1463.46" y2="412.80" stroke="#000" stroke-width="2.6"/>
<line x1="1466.99" y1="404.60" x2="1466.99" y2="412.80" stroke="#000" stroke-width="2.6"/>
<line x1="1469.87" y1="404.60" x2="1469.87" y2="412.80" stroke="#000" stroke-width="2.6"/>
<line x1="1472.31" y1="404.60" x2="1472.31" y2="412.80" stroke="#000" stroke-width="2.6"/>
<line x1="1474.42" y1="404.60" x2="1474.42" y2="412.80" stroke="#000" stroke-width="2.6"/>
<line x1="1476.28" y1="404.60" x2="1476.28" y2="412.80" stroke="#000" stroke-width="2.6"/>
<line x1="1477.95" y1="404.60" x2="1477.95" y2="418.90" stroke="#000" stroke-width="2.9"/>
<text x="1168.15" y="170.20" font-size="11.5" text-anchor="end" letter-spacing="10.4" stroke="#000" stroke-width="0.3">150</text>
<text x="1168.15" y="246.20" font-size="11.5" text-anchor="end" letter-spacing="10.4" stroke="#000" stroke-width="0.3">100</text>
<text x="1168.15" y="321.90" font-size="11.5" text-anchor="end" letter-spacing="10.4" stroke="#000" stroke-width="0.3">50</text>
<text x="1168.15" y="398.20" font-size="11.5" text-anchor="end" letter-spacing="10.4" stroke="#000" stroke-width="0.3">0</text>
<text x="1171.60" y="439.50" font-size="21" textLength="22" lengthAdjust="spacingAndGlyphs" stroke="#000" stroke-width="0.55">10</text>
<text x="1193.90" y="433.20" font-size="14" letter-spacing="3.3" stroke="#000" stroke-width="0.55">-4</text>
<text x="1213.60" y="439.50" font-size="21" textLength="22" lengthAdjust="spacingAndGlyphs" stroke="#000" stroke-width="0.55">10</text>
<text x="1235.90" y="433.20" font-size="14" letter-spacing="3.3" stroke="#000" stroke-width="0.55">-3</text>
<text x="1252.85" y="439.50" font-size="21" textLength="22" lengthAdjust="spacingAndGlyphs" stroke="#000" stroke-width="0.55">10</text>
<text x="1275.15" y="433.20" font-size="14" letter-spacing="3.3" stroke="#000" stroke-width="0.55">-2</text>
<text x="1296.10" y="439.50" font-size="21" textLength="22" lengthAdjust="spacingAndGlyphs" stroke="#000" stroke-width="0.55">10</text>
<text x="1318.40" y="433.20" font-size="14" letter-spacing="3.3" stroke="#000" stroke-width="0.55">-1</text>
<text x="1334.60" y="439.50" font-size="21" textLength="22" lengthAdjust="spacingAndGlyphs" stroke="#000" stroke-width="0.55">10</text>
<text x="1357.40" y="433.20" font-size="14" stroke="#000" stroke-width="0.55">0</text>
<text x="1369.60" y="439.50" font-size="21" textLength="22" lengthAdjust="spacingAndGlyphs" stroke="#000" stroke-width="0.55">10</text>
<text x="1392.40" y="433.20" font-size="14" stroke="#000" stroke-width="0.55">1</text>
<text x="1401.60" y="439.50" font-size="21" textLength="22" lengthAdjust="spacingAndGlyphs" stroke="#000" stroke-width="0.55">10</text>
<text x="1424.40" y="433.20" font-size="14" stroke="#000" stroke-width="0.55">2</text>
<text x="1432.85" y="439.50" font-size="21" textLength="22" lengthAdjust="spacingAndGlyphs" stroke="#000" stroke-width="0.55">10</text>
<text x="1455.65" y="433.20" font-size="14" stroke="#000" stroke-width="0.55">3</text>
<text x="1466.60" y="439.50" font-size="21" textLength="22" lengthAdjust="spacingAndGlyphs" stroke="#000" stroke-width="0.55">10</text>
<text x="1489.40" y="433.20" font-size="14" stroke="#000" stroke-width="0.55">4</text>
<text x="1332.00" y="480.00" font-size="30.7" text-anchor="middle" textLength="204.00" lengthAdjust="spacingAndGlyphs">Sertraline (µM)</text>
<line x1="1536.25" y1="310.50" x2="1821.00" y2="310.50" stroke="#888888" stroke-width="1.3" stroke-dasharray="6.5 2.2"/>
<line x1="1724.25" y1="310.50" x2="1724.25" y2="404.60" stroke="#888888" stroke-width="1.3" stroke-dasharray="4.5 2"/>
<line x1="1756.75" y1="310.50" x2="1756.75" y2="404.60" stroke="#888888" stroke-width="1.3" stroke-dasharray="4.5 2"/>
<polyline points="1572.00,258.76 1575.66,258.76 1579.32,258.76 1582.97,258.76 1586.63,258.76 1590.29,258.77 1593.95,258.77 1597.61,258.78 1601.27,258.78 1604.92,258.79 1608.58,258.80 1612.24,258.82 1615.90,258.84 1619.56,258.86 1623.22,258.89 1626.88,258.92 1630.53,258.97 1634.19,259.03 1637.85,259.10 1641.51,259.19 1645.17,259.31 1648.83,259.46 1652.48,259.65 1656.14,259.89 1659.80,260.19 1663.46,260.56 1667.12,261.04 1670.78,261.63 1674.43,262.38 1678.09,263.31 1681.75,264.47 1685.41,265.90 1689.07,267.67 1692.72,269.84 1696.38,272.47 1700.04,275.63 1703.70,279.39 1707.36,283.80 1711.02,288.88 1714.67,294.62 1718.33,300.97 1721.99,307.84 1725.65,315.08 1729.31,322.50 1732.97,329.91 1736.62,337.10 1740.28,343.89 1743.94,350.14 1747.60,355.78 1751.26,360.74 1754.92,365.03 1758.58,368.69 1762.23,371.76 1765.89,374.31 1769.55,376.40 1773.21,378.11 1776.87,379.50 1780.53,380.61 1784.18,381.51 1787.84,382.23 1791.50,382.80" fill="none" stroke="#9a0000" stroke-width="2.4" stroke-linejoin="round"/>
<line x1="1572.00" y1="242.00" x2="1572.00" y2="263.50" stroke="#9a0000" stroke-width="2.2"/>
<line x1="1567.00" y1="242.00" x2="1577.00" y2="242.00" stroke="#9a0000" stroke-width="2.2"/>
<line x1="1567.00" y1="263.50" x2="1577.00" y2="263.50" stroke="#9a0000" stroke-width="2.2"/>
<rect x="1566.80" y="247.30" width="10.40" height="10.40" fill="#9a0000"/>
<line x1="1608.75" y1="243.50" x2="1608.75" y2="274.50" stroke="#9a0000" stroke-width="2.2"/>
<line x1="1603.75" y1="243.50" x2="1613.75" y2="243.50" stroke="#9a0000" stroke-width="2.2"/>
<line x1="1603.75" y1="274.50" x2="1613.75" y2="274.50" stroke="#9a0000" stroke-width="2.2"/>
<rect x="1603.55" y="254.30" width="10.40" height="10.40" fill="#9a0000"/>
<line x1="1645.25" y1="250.50" x2="1645.25" y2="282.50" stroke="#9a0000" stroke-width="2.2"/>
<line x1="1640.25" y1="250.50" x2="1650.25" y2="250.50" stroke="#9a0000" stroke-width="2.2"/>
<line x1="1640.25" y1="282.50" x2="1650.25" y2="282.50" stroke="#9a0000" stroke-width="2.2"/>
<rect x="1640.05" y="261.05" width="10.40" height="10.40" fill="#9a0000"/>
<line x1="1682.00" y1="268.00" x2="1682.00" y2="285.50" stroke="#9a0000" stroke-width="2.2"/>
<line x1="1677.00" y1="268.00" x2="1687.00" y2="268.00" stroke="#9a0000" stroke-width="2.2"/>
<line x1="1677.00" y1="285.50" x2="1687.00" y2="285.50" stroke="#9a0000" stroke-width="2.2"/>
<rect x="1676.80" y="271.80" width="10.40" height="10.40" fill="#9a0000"/>
<line x1="1718.00" y1="296.00" x2="1718.00" y2="319.50" stroke="#9a0000" stroke-width="2.2"/>
<line x1="1713.00" y1="296.00" x2="1723.00" y2="296.00" stroke="#9a0000" stroke-width="2.2"/>
<line x1="1713.00" y1="319.50" x2="1723.00" y2="319.50" stroke="#9a0000" stroke-width="2.2"/>
<rect x="1712.80" y="301.05" width="10.40" height="10.40" fill="#9a0000"/>
<line x1="1755.00" y1="344.00" x2="1755.00" y2="357.00" stroke="#9a0000" stroke-width="2.2"/>
<line x1="1750.00" y1="344.00" x2="1760.00" y2="344.00" stroke="#9a0000" stroke-width="2.2"/>
<line x1="1750.00" y1="357.00" x2="1760.00" y2="357.00" stroke="#9a0000" stroke-width="2.2"/>
<rect x="1749.80" y="345.55" width="10.40" height="10.40" fill="#9a0000"/>
<rect x="1786.05" y="384.30" width="10.40" height="10.40" fill="#9a0000"/>
<polyline points="1572.00,257.00 1575.66,257.00 1579.32,257.00 1582.97,257.00 1586.63,257.00 1590.29,257.00 1593.95,257.00 1597.61,257.00 1601.27,257.01 1604.92,257.01 1608.58,257.01 1612.24,257.01 1615.90,257.02 1619.56,257.02 1623.22,257.02 1626.88,257.03 1630.53,257.04 1634.19,257.05 1637.85,257.06 1641.51,257.08 1645.17,257.10 1648.83,257.12 1652.48,257.15 1656.14,257.19 1659.80,257.24 1663.46,257.30 1667.12,257.38 1670.78,257.48 1674.43,257.60 1678.09,257.75 1681.75,257.95 1685.41,258.19 1689.07,258.49 1692.72,258.87 1696.38,259.34 1700.04,259.93 1703.70,260.67 1707.36,261.58 1711.02,262.72 1714.67,264.12 1718.33,265.84 1721.99,267.95 1725.65,270.51 1729.31,273.61 1732.97,277.31 1736.62,281.68 1740.28,286.79 1743.94,292.66 1747.60,299.29 1751.26,306.63 1754.92,314.58 1758.58,322.99 1762.23,331.67 1765.89,340.39 1769.55,348.94 1773.21,357.11 1776.87,364.72 1780.53,371.66 1784.18,377.85 1787.84,383.27 1791.50,387.95" fill="none" stroke="#666666" stroke-width="2.4" stroke-linejoin="round"/>
<line x1="1572.00" y1="240.50" x2="1572.00" y2="256.00" stroke="#666666" stroke-width="2.2"/>
<line x1="1567.00" y1="240.50" x2="1577.00" y2="240.50" stroke="#666666" stroke-width="2.2"/>
<line x1="1567.00" y1="256.00" x2="1577.00" y2="256.00" stroke="#666666" stroke-width="2.2"/>
<circle cx="1572.00" cy="248.25" r="5.00" fill="#666666"/>
<line x1="1608.75" y1="250.50" x2="1608.75" y2="266.50" stroke="#666666" stroke-width="2.2"/>
<line x1="1603.75" y1="250.50" x2="1613.75" y2="250.50" stroke="#666666" stroke-width="2.2"/>
<line x1="1603.75" y1="266.50" x2="1613.75" y2="266.50" stroke="#666666" stroke-width="2.2"/>
<circle cx="1608.75" cy="259.50" r="5.00" fill="#666666"/>
<rect x="1640.05" y="259.05" width="10.40" height="10.40" fill="#666666"/>
<rect x="1676.80" y="257.30" width="10.40" height="10.40" fill="#666666"/>
<line x1="1718.00" y1="235.50" x2="1718.00" y2="347.00" stroke="#666666" stroke-width="2.2"/>
<line x1="1713.00" y1="235.50" x2="1723.00" y2="235.50" stroke="#666666" stroke-width="2.2"/>
<line x1="1713.00" y1="347.00" x2="1723.00" y2="347.00" stroke="#666666" stroke-width="2.2"/>
<circle cx="1718.00" cy="291.50" r="5.00" fill="#666666"/>
<line x1="1755.00" y1="295.00" x2="1755.00" y2="331.00" stroke="#666666" stroke-width="2.2"/>
<line x1="1750.00" y1="295.00" x2="1760.00" y2="295.00" stroke="#666666" stroke-width="2.2"/>
<line x1="1750.00" y1="331.00" x2="1760.00" y2="331.00" stroke="#666666" stroke-width="2.2"/>
<circle cx="1755.00" cy="313.00" r="5.00" fill="#666666"/>
<rect x="1786.05" y="384.05" width="10.40" height="10.40" fill="#666666"/>
<line x1="1536.25" y1="160.50" x2="1536.25" y2="406.10" stroke="#000" stroke-width="3"/>
<line x1="1534.75" y1="404.60" x2="1828.95" y2="404.60" stroke="#000" stroke-width="3"/>
<line x1="1521.95" y1="162.00" x2="1536.25" y2="162.00" stroke="#000" stroke-width="2.6"/>
<line x1="1521.95" y1="238.00" x2="1536.25" y2="238.00" stroke="#000" stroke-width="2.6"/>
<line x1="1521.95" y1="313.70" x2="1536.25" y2="313.70" stroke="#000" stroke-width="2.6"/>
<line x1="1521.95" y1="390.00" x2="1536.25" y2="390.00" stroke="#000" stroke-width="2.6"/>
<line x1="1536.25" y1="404.60" x2="1536.25" y2="418.90" stroke="#000" stroke-width="2.9"/>
<line x1="1547.21" y1="404.60" x2="1547.21" y2="412.80" stroke="#000" stroke-width="2.6"/>
<line x1="1553.62" y1="404.60" x2="1553.62" y2="412.80" stroke="#000" stroke-width="2.6"/>
<line x1="1558.16" y1="404.60" x2="1558.16" y2="412.80" stroke="#000" stroke-width="2.6"/>
<line x1="1561.69" y1="404.60" x2="1561.69" y2="412.80" stroke="#000" stroke-width="2.6"/>
<line x1="1564.57" y1="404.60" x2="1564.57" y2="412.80" stroke="#000" stroke-width="2.6"/>
<line x1="1567.01" y1="404.60" x2="1567.01" y2="412.80" stroke="#000" stroke-width="2.6"/>
<line x1="1569.12" y1="404.60" x2="1569.12" y2="412.80" stroke="#000" stroke-width="2.6"/>
<line x1="1570.98" y1="404.60" x2="1570.98" y2="412.80" stroke="#000" stroke-width="2.6"/>
<line x1="1572.65" y1="404.60" x2="1572.65" y2="418.90" stroke="#000" stroke-width="2.9"/>
<line x1="1583.61" y1="404.60" x2="1583.61" y2="412.80" stroke="#000" stroke-width="2.6"/>
<line x1="1590.02" y1="404.60" x2="1590.02" y2="412.80" stroke="#000" stroke-width="2.6"/>
<line x1="1594.56" y1="404.60" x2="1594.56" y2="412.80" stroke="#000" stroke-width="2.6"/>
<line x1="1598.09" y1="404.60" x2="1598.09" y2="412.80" stroke="#000" stroke-width="2.6"/>
<line x1="1600.97" y1="404.60" x2="1600.97" y2="412.80" stroke="#000" stroke-width="2.6"/>
<line x1="1603.41" y1="404.60" x2="1603.41" y2="412.80" stroke="#000" stroke-width="2.6"/>
<line x1="1605.52" y1="404.60" x2="1605.52" y2="412.80" stroke="#000" stroke-width="2.6"/>
<line x1="1607.38" y1="404.60" x2="1607.38" y2="412.80" stroke="#000" stroke-width="2.6"/>
<line x1="1609.05" y1="404.60" x2="1609.05" y2="418.90" stroke="#000" stroke-width="2.9"/>
<line x1="1620.01" y1="404.60" x2="1620.01" y2="412.80" stroke="#000" stroke-width="2.6"/>
<line x1="1626.42" y1="404.60" x2="1626.42" y2="412.80" stroke="#000" stroke-width="2.6"/>
<line x1="1630.96" y1="404.60" x2="1630.96" y2="412.80" stroke="#000" stroke-width="2.6"/>
<line x1="1634.49" y1="404.60" x2="1634.49" y2="412.80" stroke="#000" stroke-width="2.6"/>
<line x1="1637.37" y1="404.60" x2="1637.37" y2="412.80" stroke="#000" stroke-width="2.6"/>
<line x1="1639.81" y1="404.60" x2="1639.81" y2="412.80" stroke="#000" stroke-width="2.6"/>
<line x1="1641.92" y1="404.60" x2="1641.92" y2="412.80" stroke="#000" stroke-width="2.6"/>
<line x1="1643.78" y1="404.60" x2="1643.78" y2="412.80" stroke="#000" stroke-width="2.6"/>
<line x1="1645.45" y1="404.60" x2="1645.45" y2="418.90" stroke="#000" stroke-width="2.9"/>
<line x1="1656.41" y1="404.60" x2="1656.41" y2="412.80" stroke="#000" stroke-width="2.6"/>
<line x1="1662.82" y1="404.60" x2="1662.82" y2="412.80" stroke="#000" stroke-width="2.6"/>
<line x1="1667.36" y1="404.60" x2="1667.36" y2="412.80" stroke="#000" stroke-width="2.6"/>
<line x1="1670.89" y1="404.60" x2="1670.89" y2="412.80" stroke="#000" stroke-width="2.6"/>
<line x1="1673.77" y1="404.60" x2="1673.77" y2="412.80" stroke="#000" stroke-width="2.6"/>
<line x1="1676.21" y1="404.60" x2="1676.21" y2="412.80" stroke="#000" stroke-width="2.6"/>
<line x1="1678.32" y1="404.60" x2="1678.32" y2="412.80" stroke="#000" stroke-width="2.6"/>
<line x1="1680.18" y1="404.60" x2="1680.18" y2="412.80" stroke="#000" stroke-width="2.6"/>
<line x1="1681.85" y1="404.60" x2="1681.85" y2="418.90" stroke="#000" stroke-width="2.9"/>
<line x1="1692.81" y1="404.60" x2="1692.81" y2="412.80" stroke="#000" stroke-width="2.6"/>
<line x1="1699.22" y1="404.60" x2="1699.22" y2="412.80" stroke="#000" stroke-width="2.6"/>
<line x1="1703.76" y1="404.60" x2="1703.76" y2="412.80" stroke="#000" stroke-width="2.6"/>
<line x1="1707.29" y1="404.60" x2="1707.29" y2="412.80" stroke="#000" stroke-width="2.6"/>
<line x1="1710.17" y1="404.60" x2="1710.17" y2="412.80" stroke="#000" stroke-width="2.6"/>
<line x1="1712.61" y1="404.60" x2="1712.61" y2="412.80" stroke="#000" stroke-width="2.6"/>
<line x1="1714.72" y1="404.60" x2="1714.72" y2="412.80" stroke="#000" stroke-width="2.6"/>
<line x1="1716.58" y1="404.60" x2="1716.58" y2="412.80" stroke="#000" stroke-width="2.6"/>
<line x1="1718.25" y1="404.60" x2="1718.25" y2="418.90" stroke="#000" stroke-width="2.9"/>
<line x1="1729.21" y1="404.60" x2="1729.21" y2="412.80" stroke="#000" stroke-width="2.6"/>
<line x1="1735.62" y1="404.60" x2="1735.62" y2="412.80" stroke="#000" stroke-width="2.6"/>
<line x1="1740.16" y1="404.60" x2="1740.16" y2="412.80" stroke="#000" stroke-width="2.6"/>
<line x1="1743.69" y1="404.60" x2="1743.69" y2="412.80" stroke="#000" stroke-width="2.6"/>
<line x1="1746.57" y1="404.60" x2="1746.57" y2="412.80" stroke="#000" stroke-width="2.6"/>
<line x1="1749.01" y1="404.60" x2="1749.01" y2="412.80" stroke="#000" stroke-width="2.6"/>
<line x1="1751.12" y1="404.60" x2="1751.12" y2="412.80" stroke="#000" stroke-width="2.6"/>
<line x1="1752.98" y1="404.60" x2="1752.98" y2="412.80" stroke="#000" stroke-width="2.6"/>
<line x1="1754.65" y1="404.60" x2="1754.65" y2="418.90" stroke="#000" stroke-width="2.9"/>
<line x1="1765.61" y1="404.60" x2="1765.61" y2="412.80" stroke="#000" stroke-width="2.6"/>
<line x1="1772.02" y1="404.60" x2="1772.02" y2="412.80" stroke="#000" stroke-width="2.6"/>
<line x1="1776.56" y1="404.60" x2="1776.56" y2="412.80" stroke="#000" stroke-width="2.6"/>
<line x1="1780.09" y1="404.60" x2="1780.09" y2="412.80" stroke="#000" stroke-width="2.6"/>
<line x1="1782.97" y1="404.60" x2="1782.97" y2="412.80" stroke="#000" stroke-width="2.6"/>
<line x1="1785.41" y1="404.60" x2="1785.41" y2="412.80" stroke="#000" stroke-width="2.6"/>
<line x1="1787.52" y1="404.60" x2="1787.52" y2="412.80" stroke="#000" stroke-width="2.6"/>
<line x1="1789.38" y1="404.60" x2="1789.38" y2="412.80" stroke="#000" stroke-width="2.6"/>
<line x1="1791.05" y1="404.60" x2="1791.05" y2="418.90" stroke="#000" stroke-width="2.9"/>
<line x1="1802.01" y1="404.60" x2="1802.01" y2="412.80" stroke="#000" stroke-width="2.6"/>
<line x1="1808.42" y1="404.60" x2="1808.42" y2="412.80" stroke="#000" stroke-width="2.6"/>
<line x1="1812.96" y1="404.60" x2="1812.96" y2="412.80" stroke="#000" stroke-width="2.6"/>
<line x1="1816.49" y1="404.60" x2="1816.49" y2="412.80" stroke="#000" stroke-width="2.6"/>
<line x1="1819.37" y1="404.60" x2="1819.37" y2="412.80" stroke="#000" stroke-width="2.6"/>
<line x1="1821.81" y1="404.60" x2="1821.81" y2="412.80" stroke="#000" stroke-width="2.6"/>
<line x1="1823.92" y1="404.60" x2="1823.92" y2="412.80" stroke="#000" stroke-width="2.6"/>
<line x1="1825.78" y1="404.60" x2="1825.78" y2="412.80" stroke="#000" stroke-width="2.6"/>
<line x1="1827.45" y1="404.60" x2="1827.45" y2="418.90" stroke="#000" stroke-width="2.9"/>
<text x="1517.65" y="170.20" font-size="11.5" text-anchor="end" letter-spacing="10.4" stroke="#000" stroke-width="0.3">150</text>
<text x="1517.65" y="246.20" font-size="11.5" text-anchor="end" letter-spacing="10.4" stroke="#000" stroke-width="0.3">100</text>
<text x="1517.65" y="321.90" font-size="11.5" text-anchor="end" letter-spacing="10.4" stroke="#000" stroke-width="0.3">50</text>
<text x="1517.65" y="398.20" font-size="11.5" text-anchor="end" letter-spacing="10.4" stroke="#000" stroke-width="0.3">0</text>
<text x="1523.60" y="439.50" font-size="21" textLength="22" lengthAdjust="spacingAndGlyphs" stroke="#000" stroke-width="0.55">10</text>
<text x="1545.90" y="433.20" font-size="14" letter-spacing="3.3" stroke="#000" stroke-width="0.55">-4</text>
<text x="1565.35" y="439.50" font-size="21" textLength="22" lengthAdjust="spacingAndGlyphs" stroke="#000" stroke-width="0.55">10</text>
<text x="1587.65" y="433.20" font-size="14" letter-spacing="3.3" stroke="#000" stroke-width="0.55">-3</text>
<text x="1604.85" y="439.50" font-size="21" textLength="22" lengthAdjust="spacingAndGlyphs" stroke="#000" stroke-width="0.55">10</text>
<text x="1627.15" y="433.20" font-size="14" letter-spacing="3.3" stroke="#000" stroke-width="0.55">-2</text>
<text x="1647.85" y="439.50" font-size="21" textLength="22" lengthAdjust="spacingAndGlyphs" stroke="#000" stroke-width="0.55">10</text>
<text x="1670.15" y="433.20" font-size="14" letter-spacing="3.3" stroke="#000" stroke-width="0.55">-1</text>
<text x="1686.60" y="439.50" font-size="21" textLength="22" lengthAdjust="spacingAndGlyphs" stroke="#000" stroke-width="0.55">10</text>
<text x="1709.40" y="433.20" font-size="14" stroke="#000" stroke-width="0.55">0</text>
<text x="1721.60" y="439.50" font-size="21" textLength="22" lengthAdjust="spacingAndGlyphs" stroke="#000" stroke-width="0.55">10</text>
<text x="1744.40" y="433.20" font-size="14" stroke="#000" stroke-width="0.55">1</text>
<text x="1753.60" y="439.50" font-size="21" textLength="22" lengthAdjust="spacingAndGlyphs" stroke="#000" stroke-width="0.55">10</text>
<text x="1776.40" y="433.20" font-size="14" stroke="#000" stroke-width="0.55">2</text>
<text x="1784.85" y="439.50" font-size="21" textLength="22" lengthAdjust="spacingAndGlyphs" stroke="#000" stroke-width="0.55">10</text>
<text x="1807.65" y="433.20" font-size="14" stroke="#000" stroke-width="0.55">3</text>
<text x="1818.35" y="439.50" font-size="21" textLength="22" lengthAdjust="spacingAndGlyphs" stroke="#000" stroke-width="0.55">10</text>
<text x="1841.15" y="433.20" font-size="14" stroke="#000" stroke-width="0.55">4</text>
<text x="1680.00" y="480.00" font-size="30.7" text-anchor="middle" textLength="240.00" lengthAdjust="spacingAndGlyphs">Thioridazine (µM)</text>
<text x="-1.00" y="570.30" font-size="57" font-weight="bold">b</text>
<rect x="649.00" y="559.40" width="226.00" height="6.20" fill="url(#g1)"/>
<rect x="649.00" y="565.30" width="226.00" height="6.20" fill="url(#g2)"/>
<rect x="649.00" y="571.20" width="226.00" height="6.20" fill="url(#g3)"/>
<rect x="649.00" y="577.10" width="226.00" height="6.20" fill="url(#g4)"/>
<rect x="649.00" y="583.00" width="226.00" height="6.20" fill="url(#g5)"/>
<rect x="649.00" y="588.90" width="226.00" height="6.20" fill="url(#g6)"/>
<text x="647.00" y="545.40" font-size="27" textLength="229.00" lengthAdjust="spacingAndGlyphs">Tumor : T cell ratio</text>
<text x="623.50" y="615.00" font-size="19.8">1:0.25</text>
<text x="862.50" y="615.00" font-size="19.8">1:4</text>
<text x="445.00" y="588.50" font-size="30.5" fill="#c00000" textLength="64.50" lengthAdjust="spacingAndGlyphs">DHA</text>
<text x="682.50" y="712.50" font-size="30.5" fill="#375623" textLength="153.50" lengthAdjust="spacingAndGlyphs">Rapamycin</text>
<text x="275.00" y="780.60" font-size="30.5" fill="#1f3864" textLength="118.00" lengthAdjust="spacingAndGlyphs">Cisplatin</text>
<text x="172.00" y="870.50" font-size="30.5" fill="#404040" textLength="90.50" lengthAdjust="spacingAndGlyphs">DMSO</text>
<text x="749.00" y="840.40" font-size="30.5" fill="#806000" textLength="168.00" lengthAdjust="spacingAndGlyphs">Thioridazine</text>
<text x="606.00" y="931.60" font-size="30.5" fill="#7030a0" textLength="131.00" lengthAdjust="spacingAndGlyphs">Sertraline</text>
<circle cx="211.92" cy="929.26" r="7.30" fill="#d2d2d2" stroke="#000" stroke-width="1.3"/>
<circle cx="226.40" cy="922.30" r="7.30" fill="#d2d2d2" stroke="#000" stroke-width="1.3"/>
<circle cx="255.64" cy="913.39" r="7.30" fill="#9a9a9e" stroke="#000" stroke-width="1.3"/>
<circle cx="270.96" cy="926.76" r="7.30" fill="#fff" stroke="#000" stroke-width="1.3"/>
<circle cx="287.66" cy="831.80" r="7.30" fill="#5a5a5a" stroke="#000" stroke-width="1.3"/>
<circle cx="309.38" cy="899.19" r="7.30" fill="#808080" stroke="#000" stroke-width="1.3"/>
<circle cx="320.80" cy="923.97" r="7.30" fill="#d2d2d2" stroke="#000" stroke-width="1.3"/>
<circle cx="340.57" cy="899.74" r="7.30" fill="#808080" stroke="#000" stroke-width="1.3"/>
<circle cx="351.60" cy="932.80" r="7.30" fill="#fff" stroke="#000" stroke-width="1.3"/>
<circle cx="352.70" cy="923.40" r="7.30" fill="#fff" stroke="#000" stroke-width="1.3"/>
<circle cx="352.70" cy="845.30" r="7.30" fill="#666" stroke="#000" stroke-width="1.3"/>
<circle cx="371.20" cy="893.10" r="7.30" fill="#808080" stroke="#000" stroke-width="1.3"/>
<circle cx="372.60" cy="912.10" r="7.30" fill="#9a9a9e" stroke="#000" stroke-width="1.3"/>
<circle cx="421.30" cy="921.00" r="7.30" fill="#9a9a9e" stroke="#000" stroke-width="1.3"/>
<circle cx="413.50" cy="853.50" r="7.30" fill="#5a5a5a" stroke="#000" stroke-width="1.3"/>
<polygon points="464.70,871.60 468.60,865.00 476.40,865.00 480.30,871.60 476.40,878.20 468.60,878.20" fill="#c89850" stroke="#000" stroke-width="1.3" stroke-linejoin="miter"/>
<polygon points="526.40,864.70 530.30,858.10 538.10,858.10 542.00,864.70 538.10,871.30 530.30,871.30" fill="#c89850" stroke="#000" stroke-width="1.3" stroke-linejoin="miter"/>
<polygon points="508.30,822.60 512.20,816.00 520.00,816.00 523.90,822.60 520.00,829.20 512.20,829.20" fill="#8a5a1e" stroke="#000" stroke-width="1.3" stroke-linejoin="miter"/>
<polygon points="567.70,829.50 571.60,822.90 579.40,822.90 583.30,829.50 579.40,836.10 571.60,836.10" fill="#8a5a1e" stroke="#000" stroke-width="1.3" stroke-linejoin="miter"/>
<polygon points="486.50,880.70 490.40,874.10 498.20,874.10 502.10,880.70 498.20,887.30 490.40,887.30" fill="#bdb07a" stroke="#000" stroke-width="1.3" stroke-linejoin="miter"/>
<polygon points="576.60,875.30 580.50,868.70 588.30,868.70 592.20,875.30 588.30,881.90 580.50,881.90" fill="#bdb07a" stroke="#000" stroke-width="1.3" stroke-linejoin="miter"/>
<polygon points="590.50,785.40 594.40,778.80 602.20,778.80 606.10,785.40 602.20,792.00 594.40,792.00" fill="#8a8040" stroke="#000" stroke-width="1.3" stroke-linejoin="miter"/>
<polygon points="609.20,782.70 613.10,776.10 620.90,776.10 624.80,782.70 620.90,789.30 613.10,789.30" fill="#8a8040" stroke="#000" stroke-width="1.3" stroke-linejoin="miter"/>
<polygon points="728.70,783.90 732.60,777.30 740.40,777.30 744.30,783.90 740.40,790.50 732.60,790.50" fill="#8a8040" stroke="#000" stroke-width="1.3" stroke-linejoin="miter"/>
<polygon points="697.90,828.10 701.80,821.50 709.60,821.50 713.50,828.10 709.60,834.70 701.80,834.70" fill="#9a6420" stroke="#000" stroke-width="1.3" stroke-linejoin="miter"/>
<polygon points="591.60,868.00 595.50,861.40 603.30,861.40 607.20,868.00 603.30,874.60 595.50,874.60" fill="#d09850" stroke="#000" stroke-width="1.3" stroke-linejoin="miter"/>
<polygon points="560.00,893.40 563.90,886.80 571.70,886.80 575.60,893.40 571.70,900.00 563.90,900.00" fill="#f0ead0" stroke="#000" stroke-width="1.3" stroke-linejoin="miter"/>
<polygon points="633.00,892.90 636.90,886.30 644.70,886.30 648.60,892.90 644.70,899.50 636.90,899.50" fill="#f0ead0" stroke="#000" stroke-width="1.3" stroke-linejoin="miter"/>
<polygon points="673.90,886.50 677.80,879.90 685.60,879.90 689.50,886.50 685.60,893.10 677.80,893.10" fill="#f0ead0" stroke="#000" stroke-width="1.3" stroke-linejoin="miter"/>
<polygon points="709.80,884.00 713.70,877.40 721.50,877.40 725.40,884.00 721.50,890.60 713.70,890.60" fill="#bdb07a" stroke="#000" stroke-width="1.3" stroke-linejoin="miter"/>
<polygon points="539.90,785.10 547.50,792.70 539.90,800.30 532.30,792.70" fill="#3c0050" stroke="#000" stroke-width="1.3" stroke-linejoin="miter"/>
<polygon points="596.00,805.70 603.60,813.30 596.00,820.90 588.40,813.30" fill="#3c0050" stroke="#000" stroke-width="1.3" stroke-linejoin="miter"/>
<polygon points="689.90,791.40 697.50,799.00 689.90,806.60 682.30,799.00" fill="#3c0050" stroke="#000" stroke-width="1.3" stroke-linejoin="miter"/>
<polygon points="505.20,833.20 512.80,840.80 505.20,848.40 497.60,840.80" fill="#800080" stroke="#000" stroke-width="1.3" stroke-linejoin="miter"/>
<polygon points="594.20,826.80 601.80,834.40 594.20,842.00 586.60,834.40" fill="#800080" stroke="#000" stroke-width="1.3" stroke-linejoin="miter"/>
<polygon points="597.30,842.60 604.90,850.20 597.30,857.80 589.70,850.20" fill="#a000a0" stroke="#000" stroke-width="1.3" stroke-linejoin="miter"/>
<polygon points="594.60,846.80 602.20,854.40 594.60,862.00 587.00,854.40" fill="#c800c8" stroke="#000" stroke-width="1.3" stroke-linejoin="miter"/>
<polygon points="607.20,857.70 614.80,865.30 607.20,872.90 599.60,865.30" fill="#c800c8" stroke="#000" stroke-width="1.3" stroke-linejoin="miter"/>
<polygon points="586.60,874.60 594.20,882.20 586.60,889.80 579.00,882.20" fill="#c800c8" stroke="#000" stroke-width="1.3" stroke-linejoin="miter"/>
<polygon points="572.40,881.30 580.00,888.90 572.40,896.50 564.80,888.90" fill="#f0a0e8" stroke="#000" stroke-width="1.3" stroke-linejoin="miter"/>
<polygon points="597.80,888.90 605.40,896.50 597.80,904.10 590.20,896.50" fill="#f8b0e8" stroke="#000" stroke-width="1.3" stroke-linejoin="miter"/>
<polygon points="596.50,894.00 604.10,901.60 596.50,909.20 588.90,901.60" fill="#f8b0e8" stroke="#000" stroke-width="1.3" stroke-linejoin="miter"/>
<polygon points="368.10,894.90 375.70,902.50 368.10,910.10 360.50,902.50" fill="#e8c8f8" stroke="#000" stroke-width="1.3" stroke-linejoin="miter"/>
<polygon points="449.30,895.80 456.90,903.40 449.30,911.00 441.70,903.40" fill="#e8c8f8" stroke="#000" stroke-width="1.3" stroke-linejoin="miter"/>
<polygon points="541.90,887.70 549.50,895.30 541.90,902.90 534.30,895.30" fill="#e8c8f8" stroke="#000" stroke-width="1.3" stroke-linejoin="miter"/>
<polygon points="514.40,614.60 522.20,629.80 506.60,629.80" fill="#960000" stroke="#000" stroke-width="1.3" stroke-linejoin="miter"/>
<polygon points="495.30,625.00 503.10,640.20 487.50,640.20" fill="#960000" stroke="#000" stroke-width="1.3" stroke-linejoin="miter"/>
<polygon points="493.30,650.40 501.10,665.60 485.50,665.60" fill="#960000" stroke="#000" stroke-width="1.3" stroke-linejoin="miter"/>
<polygon points="474.30,684.90 482.10,700.10 466.50,700.10" fill="#f84848" stroke="#000" stroke-width="1.3" stroke-linejoin="miter"/>
<polygon points="512.60,684.60 520.40,699.80 504.80,699.80" fill="#f84848" stroke="#000" stroke-width="1.3" stroke-linejoin="miter"/>
<polygon points="459.70,712.50 467.50,727.70 451.90,727.70" fill="#f84848" stroke="#000" stroke-width="1.3" stroke-linejoin="miter"/>
<polygon points="464.30,808.70 472.10,823.90 456.50,823.90" fill="#f87878" stroke="#000" stroke-width="1.3" stroke-linejoin="miter"/>
<polygon points="507.00,802.30 514.80,817.50 499.20,817.50" fill="#f87878" stroke="#000" stroke-width="1.3" stroke-linejoin="miter"/>
<polygon points="555.50,804.70 563.30,819.90 547.70,819.90" fill="#f87878" stroke="#000" stroke-width="1.3" stroke-linejoin="miter"/>
<polygon points="453.10,855.90 460.90,871.10 445.30,871.10" fill="#f87878" stroke="#000" stroke-width="1.3" stroke-linejoin="miter"/>
<polygon points="507.90,851.30 515.70,866.50 500.10,866.50" fill="#f09090" stroke="#000" stroke-width="1.3" stroke-linejoin="miter"/>
<polygon points="417.70,883.50 425.50,898.70 409.90,898.70" fill="#fcdcdc" stroke="#000" stroke-width="1.3" stroke-linejoin="miter"/>
<polygon points="483.40,878.60 491.20,893.80 475.60,893.80" fill="#fcdcdc" stroke="#000" stroke-width="1.3" stroke-linejoin="miter"/>
<polygon points="499.70,877.70 507.50,892.90 491.90,892.90" fill="#fcdcdc" stroke="#000" stroke-width="1.3" stroke-linejoin="miter"/>
<polygon points="454.00,783.60 461.80,768.40 446.20,768.40" fill="#005a00" stroke="#000" stroke-width="1.3" stroke-linejoin="miter"/>
<polygon points="576.00,783.90 583.80,768.70 568.20,768.70" fill="#005a00" stroke="#000" stroke-width="1.3" stroke-linejoin="miter"/>
<polygon points="769.80,774.80 777.60,759.60 762.00,759.60" fill="#005a00" stroke="#000" stroke-width="1.3" stroke-linejoin="miter"/>
<polygon points="414.00,829.70 421.80,814.50 406.20,814.50" fill="#007800" stroke="#000" stroke-width="1.3" stroke-linejoin="miter"/>
<polygon points="604.50,821.70 612.30,806.50 596.70,806.50" fill="#008000" stroke="#000" stroke-width="1.3" stroke-linejoin="miter"/>
<polygon points="565.10,828.80 572.90,813.60 557.30,813.60" fill="#007800" stroke="#000" stroke-width="1.3" stroke-linejoin="miter"/>
<polygon points="424.90,857.50 432.70,842.30 417.10,842.30" fill="#98f898" stroke="#000" stroke-width="1.3" stroke-linejoin="miter"/>
<polygon points="464.50,858.40 472.30,843.20 456.70,843.20" fill="#98f898" stroke="#000" stroke-width="1.3" stroke-linejoin="miter"/>
<polygon points="504.50,845.70 512.30,830.50 496.70,830.50" fill="#98f898" stroke="#000" stroke-width="1.3" stroke-linejoin="miter"/>
<polygon points="517.40,828.40 525.20,813.20 509.60,813.20" fill="#00b400" stroke="#000" stroke-width="1.3" stroke-linejoin="miter"/>
<polygon points="527.00,845.10 534.80,829.90 519.20,829.90" fill="#00b400" stroke="#000" stroke-width="1.3" stroke-linejoin="miter"/>
<polygon points="565.10,838.40 572.90,823.20 557.30,823.20" fill="#00b400" stroke="#000" stroke-width="1.3" stroke-linejoin="miter"/>
<polygon points="486.10,872.90 493.90,857.70 478.30,857.70" fill="#c8f8c8" stroke="#000" stroke-width="1.3" stroke-linejoin="miter"/>
<polygon points="517.40,876.90 525.20,861.70 509.60,861.70" fill="#c8f8c8" stroke="#000" stroke-width="1.3" stroke-linejoin="miter"/>
<polygon points="546.40,881.60 554.20,866.40 538.60,866.40" fill="#c8f8c8" stroke="#000" stroke-width="1.3" stroke-linejoin="miter"/>
<rect x="318.80" y="880.40" width="14.40" height="14.40" fill="#c5dcf8" stroke="#000" stroke-width="1.3"/>
<rect x="350.90" y="843.90" width="14.40" height="14.40" fill="#559cf8" stroke="#000" stroke-width="1.3"/>
<rect x="363.80" y="865.90" width="14.40" height="14.40" fill="#8dbcf8" stroke="#000" stroke-width="1.3"/>
<rect x="384.90" y="867.70" width="14.40" height="14.40" fill="#559cf8" stroke="#000" stroke-width="1.3"/>
<rect x="391.80" y="883.50" width="14.40" height="14.40" fill="#c5dcf8" stroke="#000" stroke-width="1.3"/>
<rect x="409.20" y="871.90" width="14.40" height="14.40" fill="#8dbcf8" stroke="#000" stroke-width="1.3"/>
<rect x="410.50" y="850.30" width="14.40" height="14.40" fill="#559cf8" stroke="#000" stroke-width="1.3"/>
<rect x="447.70" y="830.90" width="14.40" height="14.40" fill="#0000f0" stroke="#000" stroke-width="1.3"/>
<rect x="442.20" y="847.20" width="14.40" height="14.40" fill="#0000f0" stroke="#000" stroke-width="1.3"/>
<rect x="447.70" y="880.40" width="14.40" height="14.40" fill="#c5dcf8" stroke="#000" stroke-width="1.3"/>
<rect x="488.20" y="854.50" width="14.40" height="14.40" fill="#0000f0" stroke="#000" stroke-width="1.3"/>
<rect x="505.40" y="790.90" width="14.40" height="14.40" fill="#000080" stroke="#000" stroke-width="1.3"/>
<rect x="548.30" y="796.40" width="14.40" height="14.40" fill="#000080" stroke="#000" stroke-width="1.3"/>
<rect x="562.10" y="788.70" width="14.40" height="14.40" fill="#000080" stroke="#000" stroke-width="1.3"/>
<line x1="139.20" y1="554.20" x2="139.20" y2="958.40" stroke="#000" stroke-width="2.8"/>
<line x1="125.20" y1="945.40" x2="871.90" y2="945.40" stroke="#000" stroke-width="2.8"/>
<line x1="125.20" y1="555.60" x2="139.20" y2="555.60" stroke="#000" stroke-width="2.6"/>
<text x="119.60" y="563.90" font-size="23" text-anchor="end" letter-spacing="4.8">60</text>
<line x1="125.20" y1="685.30" x2="139.20" y2="685.30" stroke="#000" stroke-width="2.6"/>
<text x="119.60" y="693.60" font-size="23" text-anchor="end" letter-spacing="4.8">40</text>
<line x1="125.20" y1="815.20" x2="139.20" y2="815.20" stroke="#000" stroke-width="2.6"/>
<text x="119.60" y="823.50" font-size="23" text-anchor="end" letter-spacing="4.8">20</text>
<text x="119.60" y="953.70" font-size="23" text-anchor="end" letter-spacing="4.8">0</text>
<text x="136.70" y="993.60" font-size="23" text-anchor="middle">0</text>
<line x1="322.05" y1="945.40" x2="322.05" y2="958.40" stroke="#000" stroke-width="2.8"/>
<text x="319.55" y="993.60" font-size="23" text-anchor="middle">2</text>
<line x1="504.90" y1="945.40" x2="504.90" y2="958.40" stroke="#000" stroke-width="2.8"/>
<text x="502.40" y="993.60" font-size="23" text-anchor="middle">4</text>
<line x1="687.75" y1="945.40" x2="687.75" y2="958.40" stroke="#000" stroke-width="2.8"/>
<text x="685.25" y="993.60" font-size="23" text-anchor="middle">6</text>
<line x1="870.60" y1="945.40" x2="870.60" y2="958.40" stroke="#000" stroke-width="2.8"/>
<text x="868.10" y="993.60" font-size="23" text-anchor="middle">8</text>
<text x="503.50" y="1036.20" font-size="34" text-anchor="middle" textLength="453.00" lengthAdjust="spacingAndGlyphs">% of Active caspase3+ (Drug)</text>
<text font-size="34" textLength="350.00" lengthAdjust="spacingAndGlyphs" transform="translate(27.90 928.00) rotate(-90)">% of Active caspase3+</text>
<text font-size="34" textLength="218.00" lengthAdjust="spacingAndGlyphs" transform="translate(69.40 862.50) rotate(-90)">(Drug + T cell)</text>
<text x="942.00" y="570.40" font-size="57" font-weight="bold">c</text>
<polyline points="1146.40,896.50 1292.30,896.40 1438.40,883.00 1584.90,865.50 1730.90,816.20" fill="none" stroke="#000" stroke-width="2.6" stroke-linejoin="round"/>
<polyline points="1146.40,883.30 1292.30,871.30 1438.40,857.10 1584.90,785.50 1730.90,742.20" fill="none" stroke="#b07830" stroke-width="2.6" stroke-linejoin="round"/>
<polyline points="1146.40,884.00 1292.30,874.70 1438.40,844.00 1584.90,785.30 1730.90,724.10" fill="none" stroke="#7a10a0" stroke-width="2.6" stroke-linejoin="round"/>
<polyline points="1146.40,882.80 1292.30,870.50 1438.40,839.90 1584.90,784.80 1730.90,708.20" fill="none" stroke="#005a00" stroke-width="2.6" stroke-linejoin="round"/>
<polyline points="1146.40,876.00 1292.30,849.60 1438.40,817.60 1584.90,730.50 1730.90,609.90" fill="none" stroke="#9a0000" stroke-width="2.6" stroke-linejoin="round"/>
<polyline points="1146.40,887.20 1292.30,882.20 1438.40,873.30 1584.90,855.70 1730.90,798.10" fill="none" stroke="#000080" stroke-width="2.6" stroke-linejoin="round"/>
<line x1="1574.90" y1="766.00" x2="1594.90" y2="766.00" stroke="#000" stroke-width="4.2"/>
<line x1="1574.90" y1="770.50" x2="1594.90" y2="770.50" stroke="#000" stroke-width="4.2"/>
<line x1="1574.90" y1="798.50" x2="1594.90" y2="798.50" stroke="#000" stroke-width="4.2"/>
<line x1="1574.90" y1="804.80" x2="1594.90" y2="804.80" stroke="#000" stroke-width="4.2"/>
<line x1="1584.90" y1="766.00" x2="1584.90" y2="804.80" stroke="#000" stroke-width="2.2"/>
<line x1="1720.90" y1="711.40" x2="1740.90" y2="711.40" stroke="#000" stroke-width="4.2"/>
<line x1="1720.90" y1="728.40" x2="1740.90" y2="728.40" stroke="#000" stroke-width="4.2"/>
<line x1="1720.90" y1="736.00" x2="1740.90" y2="736.00" stroke="#000" stroke-width="4.2"/>
<line x1="1720.90" y1="750.60" x2="1740.90" y2="750.60" stroke="#000" stroke-width="4.2"/>
<line x1="1730.90" y1="711.40" x2="1730.90" y2="750.60" stroke="#000" stroke-width="2.2"/>
<line x1="1730.90" y1="692.80" x2="1730.90" y2="727.80" stroke="#1e7a1e" stroke-width="1.8"/>
<line x1="1720.90" y1="692.80" x2="1740.90" y2="692.80" stroke="#1e7a1e" stroke-width="1.8"/>
<line x1="1720.90" y1="727.80" x2="1740.90" y2="727.80" stroke="#1e7a1e" stroke-width="1.8"/>
<circle cx="1146.40" cy="896.50" r="7.52" fill="#707070" stroke="#000" stroke-width="1.3"/>
<circle cx="1292.30" cy="896.40" r="7.52" fill="#707070" stroke="#000" stroke-width="1.3"/>
<circle cx="1438.40" cy="883.00" r="7.52" fill="#707070" stroke="#000" stroke-width="1.3"/>
<circle cx="1584.90" cy="865.50" r="7.52" fill="#707070" stroke="#000" stroke-width="1.3"/>
<circle cx="1730.90" cy="816.20" r="7.52" fill="#707070" stroke="#000" stroke-width="1.3"/>
<polygon points="1136.42,883.30 1141.41,874.85 1151.39,874.85 1156.38,883.30 1151.39,891.75 1141.41,891.75" fill="#b07830" stroke="#000" stroke-width="1.3" stroke-linejoin="miter"/>
<polygon points="1282.32,871.30 1287.31,862.85 1297.29,862.85 1302.28,871.30 1297.29,879.75 1287.31,879.75" fill="#b07830" stroke="#000" stroke-width="1.3" stroke-linejoin="miter"/>
<polygon points="1428.42,857.10 1433.41,848.65 1443.39,848.65 1448.38,857.10 1443.39,865.55 1433.41,865.55" fill="#b07830" stroke="#000" stroke-width="1.3" stroke-linejoin="miter"/>
<polygon points="1574.92,785.50 1579.91,777.05 1589.89,777.05 1594.88,785.50 1589.89,793.95 1579.91,793.95" fill="#b07830" stroke="#000" stroke-width="1.3" stroke-linejoin="miter"/>
<polygon points="1720.92,742.20 1725.91,733.75 1735.89,733.75 1740.88,742.20 1735.89,750.65 1725.91,750.65" fill="#b07830" stroke="#000" stroke-width="1.3" stroke-linejoin="miter"/>
<polygon points="1146.40,874.12 1156.28,884.00 1146.40,893.88 1136.52,884.00" fill="#7a10a0" stroke="#000" stroke-width="1.3" stroke-linejoin="miter"/>
<polygon points="1292.30,864.82 1302.18,874.70 1292.30,884.58 1282.42,874.70" fill="#7a10a0" stroke="#000" stroke-width="1.3" stroke-linejoin="miter"/>
<polygon points="1438.40,834.12 1448.28,844.00 1438.40,853.88 1428.52,844.00" fill="#7a10a0" stroke="#000" stroke-width="1.3" stroke-linejoin="miter"/>
<polygon points="1584.90,775.42 1594.78,785.30 1584.90,795.18 1575.02,785.30" fill="#7a10a0" stroke="#000" stroke-width="1.3" stroke-linejoin="miter"/>
<polygon points="1730.90,714.22 1740.78,724.10 1730.90,733.98 1721.02,724.10" fill="#7a10a0" stroke="#000" stroke-width="1.3" stroke-linejoin="miter"/>
<polygon points="1146.40,893.73 1156.38,874.27 1136.42,874.27" fill="#005a00" stroke="#000" stroke-width="1.3" stroke-linejoin="miter"/>
<polygon points="1292.30,881.43 1302.28,861.97 1282.32,861.97" fill="#005a00" stroke="#000" stroke-width="1.3" stroke-linejoin="miter"/>
<polygon points="1438.40,850.83 1448.38,831.37 1428.42,831.37" fill="#005a00" stroke="#000" stroke-width="1.3" stroke-linejoin="miter"/>
<polygon points="1584.90,795.73 1594.88,776.27 1574.92,776.27" fill="#005a00" stroke="#000" stroke-width="1.3" stroke-linejoin="miter"/>
<polygon points="1730.90,719.13 1740.88,699.67 1720.92,699.67" fill="#005a00" stroke="#000" stroke-width="1.3" stroke-linejoin="miter"/>
<line x1="1438.40" y1="805.90" x2="1438.40" y2="829.00" stroke="#9a0000" stroke-width="2.6"/>
<line x1="1428.40" y1="805.90" x2="1448.40" y2="805.90" stroke="#9a0000" stroke-width="2.6"/>
<line x1="1428.40" y1="829.00" x2="1448.40" y2="829.00" stroke="#9a0000" stroke-width="2.6"/>
<line x1="1584.90" y1="714.30" x2="1584.90" y2="744.40" stroke="#9a0000" stroke-width="2.6"/>
<line x1="1574.90" y1="714.30" x2="1594.90" y2="714.30" stroke="#9a0000" stroke-width="2.6"/>
<line x1="1574.90" y1="744.40" x2="1594.90" y2="744.40" stroke="#9a0000" stroke-width="2.6"/>
<line x1="1730.90" y1="593.50" x2="1730.90" y2="624.70" stroke="#9a0000" stroke-width="2.6"/>
<line x1="1720.90" y1="593.50" x2="1740.90" y2="593.50" stroke="#9a0000" stroke-width="2.6"/>
<line x1="1720.90" y1="624.70" x2="1740.90" y2="624.70" stroke="#9a0000" stroke-width="2.6"/>
<polygon points="1146.40,866.12 1156.54,885.88 1136.26,885.88" fill="#9a0000" stroke="#000" stroke-width="1.3" stroke-linejoin="miter"/>
<polygon points="1292.30,839.72 1302.44,859.48 1282.16,859.48" fill="#9a0000" stroke="#000" stroke-width="1.3" stroke-linejoin="miter"/>
<polygon points="1438.40,807.72 1448.54,827.48 1428.26,827.48" fill="#9a0000" stroke="#000" stroke-width="1.3" stroke-linejoin="miter"/>
<polygon points="1584.90,720.62 1595.04,740.38 1574.76,740.38" fill="#9a0000" stroke="#000" stroke-width="1.3" stroke-linejoin="miter"/>
<polygon points="1730.90,600.02 1741.04,619.78 1720.76,619.78" fill="#9a0000" stroke="#000" stroke-width="1.3" stroke-linejoin="miter"/>
<line x1="1730.90" y1="787.80" x2="1730.90" y2="807.80" stroke="#000080" stroke-width="2.6"/>
<line x1="1723.70" y1="787.80" x2="1738.10" y2="787.80" stroke="#000080" stroke-width="2.6"/>
<line x1="1723.70" y1="807.80" x2="1738.10" y2="807.80" stroke="#000080" stroke-width="2.6"/>
<rect x="1139.30" y="880.10" width="14.21" height="14.21" fill="#000080" stroke="#00005a" stroke-width="1.2"/>
<rect x="1285.20" y="875.10" width="14.21" height="14.21" fill="#000080" stroke="#00005a" stroke-width="1.2"/>
<rect x="1431.30" y="866.20" width="14.21" height="14.21" fill="#000080" stroke="#00005a" stroke-width="1.2"/>
<rect x="1577.80" y="848.60" width="14.21" height="14.21" fill="#000080" stroke="#00005a" stroke-width="1.2"/>
<rect x="1723.80" y="791.00" width="14.21" height="14.21" fill="#000080" stroke="#00005a" stroke-width="1.2"/>
<line x1="1073.40" y1="554.60" x2="1073.40" y2="946.70" stroke="#000" stroke-width="2.7"/>
<line x1="1059.50" y1="945.40" x2="1805.70" y2="945.40" stroke="#000" stroke-width="2.7"/>
<line x1="1059.50" y1="555.90" x2="1073.40" y2="555.90" stroke="#000" stroke-width="2.5"/>
<line x1="1059.50" y1="634.10" x2="1073.40" y2="634.10" stroke="#000" stroke-width="2.5"/>
<line x1="1059.50" y1="711.90" x2="1073.40" y2="711.90" stroke="#000" stroke-width="2.5"/>
<line x1="1059.50" y1="789.70" x2="1073.40" y2="789.70" stroke="#000" stroke-width="2.5"/>
<line x1="1059.50" y1="867.40" x2="1073.40" y2="867.40" stroke="#000" stroke-width="2.5"/>
<text x="1054.30" y="564.30" font-size="23" text-anchor="end" letter-spacing="4.5">10</text>
<text x="1049.80" y="642.50" font-size="23" text-anchor="end">8</text>
<text x="1049.80" y="720.30" font-size="23" text-anchor="end">6</text>
<text x="1049.80" y="798.10" font-size="23" text-anchor="end">4</text>
<text x="1049.80" y="875.80" font-size="23" text-anchor="end">2</text>
<text x="1049.80" y="953.80" font-size="23" text-anchor="end">0</text>
<line x1="1146.40" y1="945.40" x2="1146.40" y2="953.40" stroke="#000" stroke-width="2.2"/>
<text x="1145.40" y="985.50" font-size="27.3" text-anchor="middle">1:0.25</text>
<line x1="1292.30" y1="945.40" x2="1292.30" y2="953.40" stroke="#000" stroke-width="2.2"/>
<text x="1291.30" y="985.50" font-size="27.3" text-anchor="middle">1:0.5</text>
<line x1="1438.40" y1="945.40" x2="1438.40" y2="953.40" stroke="#000" stroke-width="2.2"/>
<text x="1437.40" y="985.50" font-size="27.3" text-anchor="middle">1:1</text>
<line x1="1584.90" y1="945.40" x2="1584.90" y2="953.40" stroke="#000" stroke-width="2.2"/>
<text x="1583.90" y="985.50" font-size="27.3" text-anchor="middle">1:2</text>
<line x1="1730.90" y1="945.40" x2="1730.90" y2="953.40" stroke="#000" stroke-width="2.2"/>
<text x="1729.90" y="985.50" font-size="27.3" text-anchor="middle">1:4</text>
<line x1="1070.60" y1="995.80" x2="1805.00" y2="995.80" stroke="#000" stroke-width="1.7"/>
<text x="1439.00" y="1036.40" font-size="34.3" text-anchor="middle" textLength="284.00" lengthAdjust="spacingAndGlyphs">Tumor : T cell ratio</text>
<text font-size="34" text-anchor="middle" textLength="285.00" lengthAdjust="spacingAndGlyphs" transform="translate(1005.20 750.00) rotate(-90)">Combination score</text>
<line x1="1117.10" y1="555.60" x2="1156.10" y2="555.60" stroke="#000" stroke-width="2.6"/>
<circle cx="1136.60" cy="555.60" r="6.93" fill="#8a8a8a" stroke="#000" stroke-width="1.2"/>
<text x="1177.80" y="565.60" font-size="27.5">DMSO</text>
<line x1="1117.10" y1="587.60" x2="1156.10" y2="587.60" stroke="#002080" stroke-width="2.6"/>
<rect x="1130.40" y="581.40" width="12.40" height="12.40" fill="#002060"/>
<text x="1177.80" y="599.00" font-size="27.5" fill="#1f3864">Cisplatin</text>
<line x1="1117.10" y1="619.70" x2="1156.10" y2="619.70" stroke="#c00000" stroke-width="2.6"/>
<polygon points="1136.60,611.48 1144.01,625.92 1129.19,625.92" fill="#c00000" stroke="#000" stroke-width="1.2" stroke-linejoin="miter"/>
<text x="1177.80" y="632.20" font-size="27.5" fill="#c00000">DHA</text>
<line x1="1117.10" y1="652.00" x2="1156.10" y2="652.00" stroke="#375623" stroke-width="2.6"/>
<polygon points="1136.60,660.22 1144.01,645.78 1129.19,645.78" fill="#375623" stroke="#000" stroke-width="1.2" stroke-linejoin="miter"/>
<text x="1177.80" y="665.00" font-size="27.5" fill="#375623">Rapamycin</text>
<line x1="1117.10" y1="685.10" x2="1156.10" y2="685.10" stroke="#7030a0" stroke-width="2.6"/>
<polygon points="1136.60,677.88 1143.82,685.10 1136.60,692.32 1129.38,685.10" fill="#7030a0" stroke="#000" stroke-width="1.2" stroke-linejoin="miter"/>
<text x="1177.80" y="698.50" font-size="27.5" fill="#7030a0">Sertraline</text>
<line x1="1117.10" y1="718.00" x2="1156.10" y2="718.00" stroke="#806000" stroke-width="2.6"/>
<polygon points="1129.19,718.00 1132.89,711.73 1140.30,711.73 1144.01,718.00 1140.30,724.27 1132.89,724.27" fill="#806000" stroke="#000" stroke-width="1.2" stroke-linejoin="miter"/>
<text x="1177.80" y="731.00" font-size="27.5" fill="#bf9000">Thioridazine</text>
<path d="M1760.6 596.3H1778.4V723.5H1760.6" fill="none" stroke="#000" stroke-width="1.7"/>
<path d="M1804.3 596.3H1822V822.3H1804.3" fill="none" stroke="#000" stroke-width="1.7"/>
<text transform="translate(1783 599.3) rotate(90)" font-size="27.5" textLength="112.5" lengthAdjust="spacingAndGlyphs"><tspan font-style="italic">p</tspan> &lt; 0.0001</text>
<text transform="translate(1828.3 649.5) rotate(90)" font-size="27.5" textLength="112.5" lengthAdjust="spacingAndGlyphs"><tspan font-style="italic">p</tspan> &lt; 0.0001</text>
<text x="-1.50" y="1121.30" font-size="56" font-weight="bold">d</text>
<text x="217.90" y="1103.80" font-size="31" text-anchor="middle">CT26 P3</text>
<text x="217.90" y="1141.30" font-size="31" text-anchor="middle">(αPD-L1)</text>
<line x1="135.00" y1="1153.00" x2="300.80" y2="1153.00" stroke="#000" stroke-width="1.7"/>
<text x="404.00" y="1103.80" font-size="31" text-anchor="middle">MDA-MB231</text>
<text x="404.00" y="1141.30" font-size="31" text-anchor="middle">P3 (ACT)</text>
<line x1="321.40" y1="1153.00" x2="487.70" y2="1153.00" stroke="#000" stroke-width="1.7"/>
<text x="593.30" y="1122.30" font-size="31" text-anchor="middle">526Mel</text>
<line x1="510.00" y1="1153.00" x2="676.60" y2="1153.00" stroke="#000" stroke-width="1.7"/>
<text x="772.80" y="1122.30" font-size="31" text-anchor="middle">HCT116</text>
<line x1="690.40" y1="1153.00" x2="856.40" y2="1153.00" stroke="#000" stroke-width="1.7"/>
<text x="955.20" y="1121.30" font-size="31" text-anchor="middle">PDC110526</text>
<line x1="872.50" y1="1152.30" x2="1038.50" y2="1152.30" stroke="#000" stroke-width="1.7"/>
<text x="141.50" y="1192.50" font-size="27.5" font-style="italic" textLength="77.50" lengthAdjust="spacingAndGlyphs">siGFP</text>
<text x="226.00" y="1192.50" font-size="27.5" font-style="italic" textLength="86.50" lengthAdjust="spacingAndGlyphs">siTPT1</text>
<line x1="135.00" y1="1200.80" x2="213.00" y2="1200.80" stroke="#000" stroke-width="1.7"/>
<line x1="225.00" y1="1200.80" x2="303.30" y2="1200.80" stroke="#000" stroke-width="1.7"/>
<text x="166.30" y="1236.50" font-size="28" text-anchor="middle">-</text>
<text x="199.50" y="1236.50" font-size="28" text-anchor="middle">+</text>
<text x="247.00" y="1236.50" font-size="28" text-anchor="middle">-</text>
<text x="280.00" y="1236.50" font-size="28" text-anchor="middle">+</text>
<text x="327.90" y="1192.50" font-size="27.5" font-style="italic" textLength="77.50" lengthAdjust="spacingAndGlyphs">siGFP</text>
<text x="412.40" y="1192.50" font-size="27.5" font-style="italic" textLength="86.50" lengthAdjust="spacingAndGlyphs">siTPT1</text>
<line x1="321.40" y1="1200.80" x2="399.40" y2="1200.80" stroke="#000" stroke-width="1.7"/>
<line x1="411.40" y1="1200.80" x2="489.70" y2="1200.80" stroke="#000" stroke-width="1.7"/>
<text x="352.70" y="1236.50" font-size="28" text-anchor="middle">-</text>
<text x="385.90" y="1236.50" font-size="28" text-anchor="middle">+</text>
<text x="433.40" y="1236.50" font-size="28" text-anchor="middle">-</text>
<text x="466.40" y="1236.50" font-size="28" text-anchor="middle">+</text>
<text x="516.50" y="1192.50" font-size="27.5" font-style="italic" textLength="77.50" lengthAdjust="spacingAndGlyphs">siGFP</text>
<text x="601.00" y="1192.50" font-size="27.5" font-style="italic" textLength="86.50" lengthAdjust="spacingAndGlyphs">siTPT1</text>
<line x1="510.00" y1="1200.80" x2="588.00" y2="1200.80" stroke="#000" stroke-width="1.7"/>
<line x1="600.00" y1="1200.80" x2="678.30" y2="1200.80" stroke="#000" stroke-width="1.7"/>
<text x="541.30" y="1236.50" font-size="28" text-anchor="middle">-</text>
<text x="574.50" y="1236.50" font-size="28" text-anchor="middle">+</text>
<text x="622.00" y="1236.50" font-size="28" text-anchor="middle">-</text>
<text x="655.00" y="1236.50" font-size="28" text-anchor="middle">+</text>
<text x="696.90" y="1192.50" font-size="27.5" font-style="italic" textLength="77.50" lengthAdjust="spacingAndGlyphs">siGFP</text>
<text x="781.40" y="1192.50" font-size="27.5" font-style="italic" textLength="86.50" lengthAdjust="spacingAndGlyphs">siTPT1</text>
<line x1="690.40" y1="1200.80" x2="768.40" y2="1200.80" stroke="#000" stroke-width="1.7"/>
<line x1="780.40" y1="1200.80" x2="858.70" y2="1200.80" stroke="#000" stroke-width="1.7"/>
<text x="721.70" y="1236.50" font-size="28" text-anchor="middle">-</text>
<text x="754.90" y="1236.50" font-size="28" text-anchor="middle">+</text>
<text x="802.40" y="1236.50" font-size="28" text-anchor="middle">-</text>
<text x="835.40" y="1236.50" font-size="28" text-anchor="middle">+</text>
<text x="879.00" y="1191.20" font-size="27.5" font-style="italic" textLength="77.50" lengthAdjust="spacingAndGlyphs">siGFP</text>
<text x="963.50" y="1191.20" font-size="27.5" font-style="italic" textLength="86.50" lengthAdjust="spacingAndGlyphs">siTPT1</text>
<line x1="872.50" y1="1199.50" x2="950.50" y2="1199.50" stroke="#000" stroke-width="1.7"/>
<line x1="962.50" y1="1199.50" x2="1040.80" y2="1199.50" stroke="#000" stroke-width="1.7"/>
<text x="903.80" y="1235.20" font-size="28" text-anchor="middle">-</text>
<text x="937.00" y="1235.20" font-size="28" text-anchor="middle">+</text>
<text x="984.50" y="1235.20" font-size="28" text-anchor="middle">-</text>
<text x="1017.50" y="1235.20" font-size="28" text-anchor="middle">+</text>
<text x="127.50" y="1230.50" font-size="31" text-anchor="end">DHA</text>
<text x="126.20" y="1285.50" font-size="31" text-anchor="end">TCTP</text>
<text x="126.20" y="1365.77" font-size="31" text-anchor="end">pEGFR</text>
<text x="126.20" y="1446.04" font-size="31" text-anchor="end">EGFR</text>
<text x="126.20" y="1526.31" font-size="31" text-anchor="end">pAKT</text>
<text x="126.20" y="1606.58" font-size="31" text-anchor="end">AKT</text>
<text x="126.20" y="1686.85" font-size="31" text-anchor="end">MCL-1</text>
<text x="126.20" y="1767.12" font-size="31" text-anchor="end">CXCL10</text>
<text x="126.20" y="1847.39" font-size="31" text-anchor="end">β-ACTIN</text>
<rect x="134.50" y="1246.80" width="171.40" height="53.70" fill="#fff"/>
<g clip-path="url(#c1)">
<g filter="url(#b4)"><rect x="134.5" y="1246.8" width="171.4" height="53.7" fill="none"/><rect x="144.1" y="1260.8" width="37.8" height="25.5" rx="12.8" opacity="0.18"/></g>
<g filter="url(#b1_5)"><rect x="134.5" y="1246.8" width="171.4" height="53.7" fill="none"/><rect x="145.9" y="1267.3" width="34.5" height="12.5" rx="6.3" opacity="1.0"/><rect x="189.4" y="1268.7" width="26.2" height="7.6" rx="3.8" opacity="0.62"/><rect x="227.0" y="1270.5" width="27.8" height="6.3" rx="3.1" opacity="0.33"/><rect x="263.9" y="1272.3" width="26.6" height="6.3" rx="3.1" opacity="0.3"/></g>
</g>
<rect x="135.75" y="1248.05" width="168.90" height="51.20" fill="none" stroke="#000" stroke-width="2.5"/>
<text x="159.40" y="1322.60" font-size="20.3" text-anchor="middle">1.0</text>
<text x="199.60" y="1322.60" font-size="20.3" text-anchor="middle">0.3</text>
<text x="240.00" y="1322.60" font-size="20.3" text-anchor="middle">0.2</text>
<text x="280.00" y="1322.60" font-size="20.3" text-anchor="middle">0.2</text>
<rect x="322.20" y="1246.80" width="171.80" height="53.70" fill="#fff"/>
<g clip-path="url(#c2)">
<g filter="url(#b1_5)"><rect x="322.2" y="1246.8" width="171.8" height="53.7" fill="none"/><rect x="332.2" y="1269.3" width="32.2" height="8.5" rx="4.3" opacity="0.85"/><rect x="375.9" y="1269.3" width="27.8" height="6.3" rx="3.1" opacity="0.35"/><rect x="417.4" y="1269.8" width="24.4" height="6.3" rx="3.1" opacity="0.35"/><rect x="455.4" y="1272.3" width="26.6" height="4.9" rx="2.5" opacity="0.14"/></g>
</g>
<rect x="323.45" y="1248.05" width="169.30" height="51.20" fill="none" stroke="#000" stroke-width="2.5"/>
<text x="347.60" y="1322.60" font-size="20.3" text-anchor="middle">1.0</text>
<text x="387.60" y="1322.60" font-size="20.3" text-anchor="middle">0.3</text>
<text x="427.80" y="1322.60" font-size="20.3" text-anchor="middle">0.3</text>
<text x="467.60" y="1322.60" font-size="20.3" text-anchor="middle">0.1</text>
<rect x="509.40" y="1246.80" width="171.30" height="53.70" fill="#fff"/>
<g clip-path="url(#c3)">
<g filter="url(#b1_5)"><rect x="509.4" y="1246.8" width="171.3" height="53.7" fill="none"/><rect x="520.4" y="1267.8" width="36.1" height="11.6" rx="5.8" opacity="1.0" transform="rotate(-6 538.4 1273.6)"/><rect x="567.9" y="1268.7" width="26.6" height="8.5" rx="4.3" opacity="0.9"/><rect x="609.3" y="1271.1" width="21.0" height="6.3" rx="3.1" opacity="0.65"/><rect x="621.6" y="1270.9" width="8.7" height="6.7" rx="3.4" opacity="0.5"/><rect x="646.3" y="1273.2" width="22.2" height="4.5" rx="2.2" opacity="0.5"/></g>
</g>
<rect x="510.65" y="1248.05" width="168.80" height="51.20" fill="none" stroke="#000" stroke-width="2.5"/>
<text x="535.80" y="1322.60" font-size="20.3" text-anchor="middle">1.0</text>
<text x="575.60" y="1322.60" font-size="20.3" text-anchor="middle">0.3</text>
<text x="615.80" y="1322.60" font-size="20.3" text-anchor="middle">0.2</text>
<text x="655.60" y="1322.60" font-size="20.3" text-anchor="middle">0.1</text>
<rect x="690.80" y="1246.80" width="171.20" height="53.70" fill="#fff"/>
<g clip-path="url(#c4)">
<g filter="url(#b1_5)"><rect x="690.8" y="1246.8" width="171.2" height="53.7" fill="none"/><rect x="700.0" y="1268.9" width="36.1" height="11.6" rx="5.8" opacity="1.0"/></g>
<g filter="url(#b2)"><rect x="690.8" y="1246.8" width="171.2" height="53.7" fill="none"/><rect x="746.1" y="1271.0" width="21.7" height="3.8" rx="1.9" opacity="0.3"/><rect x="783.5" y="1271.4" width="21.3" height="4.5" rx="2.2" opacity="0.35"/><rect x="820.1" y="1272.4" width="21.7" height="3.8" rx="1.9" opacity="0.14"/></g>
</g>
<rect x="692.05" y="1248.05" width="168.70" height="51.20" fill="none" stroke="#000" stroke-width="2.5"/>
<text x="713.60" y="1322.60" font-size="20.3" text-anchor="middle">1.0</text>
<text x="753.60" y="1322.60" font-size="20.3" text-anchor="middle">0.2</text>
<text x="793.80" y="1322.60" font-size="20.3" text-anchor="middle">0.2</text>
<text x="833.60" y="1322.60" font-size="20.3" text-anchor="middle">0.1</text>
<rect x="871.20" y="1246.80" width="171.10" height="53.70" fill="#fff"/>
<g clip-path="url(#c5)">
<g filter="url(#b2)"><rect x="871.2" y="1246.8" width="171.1" height="53.7" fill="none"/><rect x="880.5" y="1269.9" width="37.1" height="8.0" rx="4.0" opacity="0.97"/><rect x="930.4" y="1271.6" width="23.4" height="3.6" rx="1.8" opacity="0.55"/></g>
<g filter="url(#b2_5)"><rect x="871.2" y="1246.8" width="171.1" height="53.7" fill="none"/><rect x="968.4" y="1269.8" width="24.5" height="4.8" rx="2.4" opacity="0.14"/><rect x="1009.3" y="1268.7" width="23.7" height="4.0" rx="2.0" opacity="0.07"/></g>
</g>
<rect x="872.45" y="1248.05" width="168.60" height="51.20" fill="none" stroke="#000" stroke-width="2.5"/>
<text x="896.00" y="1321.60" font-size="20.3" text-anchor="middle">1.0</text>
<text x="935.60" y="1321.60" font-size="20.3" text-anchor="middle">0.3</text>
<text x="975.60" y="1321.60" font-size="20.3" text-anchor="middle">0.1</text>
<text x="1015.40" y="1321.60" font-size="20.3" text-anchor="middle">0.1</text>
<rect x="134.50" y="1327.30" width="171.40" height="54.10" fill="#f1f1f1"/>
<g clip-path="url(#c6)">
<g filter="url(#b4)"><rect x="134.5" y="1327.3" width="171.4" height="54.1" fill="none"/><rect x="143.0" y="1329.1" width="31.1" height="50.2" rx="15.6" opacity="0.25"/></g>
<g filter="url(#b3)"><rect x="134.5" y="1327.3" width="171.4" height="54.1" fill="none"/><rect x="144.8" y="1330.9" width="29.8" height="8.5" rx="4.2" opacity="0.3"/></g>
<g filter="url(#b2_2)"><rect x="134.5" y="1327.3" width="171.4" height="54.1" fill="none"/><rect x="143.3" y="1340.1" width="33.2" height="19.3" rx="9.6" opacity="0.92"/></g>
<g filter="url(#b2)"><rect x="134.5" y="1327.3" width="171.4" height="54.1" fill="none"/><rect x="188.7" y="1343.0" width="12.5" height="9.0" rx="4.5" opacity="0.8"/><rect x="202.6" y="1344.8" width="11.6" height="6.3" rx="3.1" opacity="0.28"/><rect x="228.3" y="1344.4" width="7.2" height="7.2" rx="3.6" opacity="0.3"/><rect x="245.6" y="1345.5" width="7.2" height="6.3" rx="3.1" opacity="0.18"/><rect x="266.4" y="1340.6" width="9.4" height="7.2" rx="3.6" opacity="0.12"/></g>
</g>
<rect x="135.75" y="1328.55" width="168.90" height="51.60" fill="none" stroke="#000" stroke-width="2.5"/>
<text x="159.40" y="1402.20" font-size="20.3" text-anchor="middle">1.0</text>
<text x="199.60" y="1402.20" font-size="20.3" text-anchor="middle">0.3</text>
<text x="240.00" y="1402.20" font-size="20.3" text-anchor="middle">0.2</text>
<text x="280.00" y="1402.20" font-size="20.3" text-anchor="middle">0.1</text>
<rect x="322.20" y="1327.30" width="171.80" height="54.10" fill="#fdfdfd"/>
<g clip-path="url(#c7)">
<g filter="url(#b4)"><rect x="322.2" y="1327.3" width="171.8" height="54.1" fill="none"/><rect x="330.0" y="1329.1" width="28.9" height="50.2" rx="14.4" opacity="0.2"/></g>
<g filter="url(#b2_2)"><rect x="322.2" y="1327.3" width="171.8" height="54.1" fill="none"/><rect x="329.2" y="1347.6" width="31.6" height="17.7" rx="8.9" opacity="0.9"/></g>
<g filter="url(#b2)"><rect x="322.2" y="1327.3" width="171.8" height="54.1" fill="none"/><rect x="375.0" y="1353.1" width="25.1" height="4.5" rx="2.2" opacity="0.22"/><rect x="415.3" y="1352.7" width="25.1" height="5.4" rx="2.7" opacity="0.3"/><rect x="454.5" y="1353.3" width="26.2" height="5.4" rx="2.7" opacity="0.32"/><rect x="472.5" y="1353.6" width="8.3" height="4.9" rx="2.5" opacity="0.3"/></g>
</g>
<rect x="323.45" y="1328.55" width="169.30" height="51.60" fill="none" stroke="#000" stroke-width="2.5"/>
<text x="347.60" y="1402.20" font-size="20.3" text-anchor="middle">1.0</text>
<text x="387.60" y="1402.20" font-size="20.3" text-anchor="middle">0.1</text>
<text x="427.80" y="1402.20" font-size="20.3" text-anchor="middle">0.1</text>
<text x="467.60" y="1402.20" font-size="20.3" text-anchor="middle">0.2</text>
<rect x="509.40" y="1327.30" width="171.30" height="54.10" fill="#f6f6f6"/>
<g clip-path="url(#c8)">
<g filter="url(#b4)"><rect x="509.4" y="1327.3" width="171.3" height="54.1" fill="none"/><rect x="520.8" y="1326.9" width="25.5" height="41.2" rx="12.8" opacity="0.2"/></g>
<g filter="url(#b2_2)"><rect x="509.4" y="1327.3" width="171.3" height="54.1" fill="none"/><rect x="519.4" y="1346.8" width="28.5" height="17.1" rx="8.5" opacity="0.92"/><rect x="579.4" y="1351.9" width="7.4" height="7.0" rx="3.5" opacity="0.45"/><rect x="661.1" y="1352.5" width="7.4" height="7.0" rx="3.5" opacity="0.4"/></g>
<g filter="url(#b2_5)"><rect x="509.4" y="1327.3" width="171.3" height="54.1" fill="none"/><rect x="563.8" y="1352.4" width="22.4" height="5.8" rx="2.9" opacity="0.08"/><rect x="603.0" y="1349.8" width="5.1" height="6.7" rx="2.6" opacity="0.2"/><rect x="622.1" y="1351.3" width="6.3" height="6.7" rx="3.1" opacity="0.3"/><rect x="644.5" y="1353.1" width="24.6" height="5.8" rx="2.9" opacity="0.08"/></g>
</g>
<rect x="510.65" y="1328.55" width="168.80" height="51.60" fill="none" stroke="#000" stroke-width="2.5"/>
<text x="535.80" y="1402.20" font-size="20.3" text-anchor="middle">1.0</text>
<text x="575.60" y="1402.20" font-size="20.3" text-anchor="middle">0.1</text>
<text x="615.80" y="1402.20" font-size="20.3" text-anchor="middle">0.1</text>
<text x="655.60" y="1402.20" font-size="20.3" text-anchor="middle">0.1</text>
<rect x="690.80" y="1327.30" width="171.20" height="54.10" fill="#f5f5f5"/>
<g clip-path="url(#c9)">
<g filter="url(#b3)"><rect x="690.8" y="1327.3" width="171.2" height="54.1" fill="none"/><rect x="702.9" y="1356.7" width="21.9" height="21.9" rx="11.0" opacity="0.12"/></g>
<g filter="url(#b2)"><rect x="690.8" y="1327.3" width="171.2" height="54.1" fill="none"/><rect x="703.6" y="1352.3" width="22.8" height="8.3" rx="4.1" opacity="0.8"/></g>
<g filter="url(#b2_5)"><rect x="690.8" y="1327.3" width="171.2" height="54.1" fill="none"/><rect x="741.9" y="1351.4" width="25.7" height="5.6" rx="2.8" opacity="0.1"/><rect x="783.3" y="1348.6" width="26.9" height="6.7" rx="3.4" opacity="0.14"/><rect x="825.9" y="1348.0" width="26.9" height="6.7" rx="3.4" opacity="0.17"/></g>
</g>
<rect x="692.05" y="1328.55" width="168.70" height="51.60" fill="none" stroke="#000" stroke-width="2.5"/>
<text x="713.60" y="1402.20" font-size="20.3" text-anchor="middle">1.0</text>
<text x="753.60" y="1402.20" font-size="20.3" text-anchor="middle">0.3</text>
<text x="793.80" y="1402.20" font-size="20.3" text-anchor="middle">0.1</text>
<text x="833.60" y="1402.20" font-size="20.3" text-anchor="middle">0.1</text>
<rect x="871.20" y="1327.30" width="171.10" height="54.10" fill="#fff"/>
<g clip-path="url(#c10)">
<g filter="url(#b2)"><rect x="871.2" y="1327.3" width="171.1" height="54.1" fill="none"/><rect x="882.4" y="1347.8" width="31.3" height="11.6" rx="5.8" opacity="1.0"/><rect x="927.2" y="1349.7" width="23.4" height="4.2" rx="2.1" opacity="0.5"/><rect x="965.8" y="1350.3" width="23.4" height="3.6" rx="1.8" opacity="0.22"/><rect x="1002.8" y="1349.7" width="25.7" height="3.6" rx="1.8" opacity="0.3"/></g>
</g>
<rect x="872.45" y="1328.55" width="168.60" height="51.60" fill="none" stroke="#000" stroke-width="2.5"/>
<text x="896.00" y="1401.20" font-size="20.3" text-anchor="middle">1.0</text>
<text x="935.60" y="1401.20" font-size="20.3" text-anchor="middle">0.1</text>
<text x="975.60" y="1401.20" font-size="20.3" text-anchor="middle">0.1</text>
<text x="1015.40" y="1401.20" font-size="20.3" text-anchor="middle">0.1</text>
<rect x="134.50" y="1408.10" width="171.40" height="53.60" fill="#f2f2f2"/>
<g clip-path="url(#c11)">
<g filter="url(#b1_5)"><rect x="134.5" y="1408.1" width="171.4" height="53.6" fill="none"/><rect x="143.0" y="1427.1" width="30.0" height="15.4" rx="7.7" opacity="1.0"/><rect x="185.5" y="1427.2" width="30.0" height="18.8" rx="9.4" opacity="1.0"/><rect x="225.9" y="1427.7" width="30.0" height="18.8" rx="9.4" opacity="1.0"/><rect x="266.2" y="1428.2" width="31.1" height="17.7" rx="8.8" opacity="1.0"/></g>
</g>
<rect x="135.75" y="1409.35" width="168.90" height="51.10" fill="none" stroke="#000" stroke-width="2.5"/>
<text x="159.40" y="1480.60" font-size="20.3" text-anchor="middle">1.0</text>
<text x="199.60" y="1480.60" font-size="20.3" text-anchor="middle">1.1</text>
<text x="240.00" y="1480.60" font-size="20.3" text-anchor="middle">1.1</text>
<text x="280.00" y="1480.60" font-size="20.3" text-anchor="middle">1.1</text>
<rect x="322.20" y="1408.10" width="171.80" height="53.60" fill="#fff"/>
<g clip-path="url(#c12)">
<g filter="url(#b1_5)"><rect x="322.2" y="1408.1" width="171.8" height="53.6" fill="none"/><rect x="329.6" y="1428.9" width="27.1" height="8.7" rx="4.4" opacity="0.97"/><rect x="369.2" y="1429.5" width="28.9" height="9.8" rx="4.9" opacity="0.97"/><rect x="409.5" y="1430.4" width="30.0" height="9.8" rx="4.9" opacity="0.97"/><rect x="451.4" y="1430.5" width="32.9" height="11.0" rx="5.5" opacity="0.97"/></g>
</g>
<rect x="323.45" y="1409.35" width="169.30" height="51.10" fill="none" stroke="#000" stroke-width="2.5"/>
<text x="347.60" y="1480.60" font-size="20.3" text-anchor="middle">1.0</text>
<text x="387.60" y="1480.60" font-size="20.3" text-anchor="middle">1.0</text>
<text x="427.80" y="1480.60" font-size="20.3" text-anchor="middle">1.0</text>
<text x="467.60" y="1480.60" font-size="20.3" text-anchor="middle">0.1</text>
<rect x="509.40" y="1408.10" width="171.30" height="53.60" fill="#fff"/>
<g clip-path="url(#c13)">
<g filter="url(#b1_5)"><rect x="509.4" y="1408.1" width="171.3" height="53.6" fill="none"/><rect x="520.4" y="1431.2" width="32.2" height="6.5" rx="3.2" opacity="1.0"/><rect x="560.7" y="1431.7" width="30.0" height="7.2" rx="3.6" opacity="1.0"/><rect x="599.2" y="1431.3" width="30.0" height="7.2" rx="3.6" opacity="1.0"/><rect x="638.4" y="1433.3" width="30.0" height="5.8" rx="2.9" opacity="1.0"/></g>
</g>
<rect x="510.65" y="1409.35" width="168.80" height="51.10" fill="none" stroke="#000" stroke-width="2.5"/>
<text x="535.80" y="1480.60" font-size="20.3" text-anchor="middle">1.0</text>
<text x="575.60" y="1480.60" font-size="20.3" text-anchor="middle">1.0</text>
<text x="615.80" y="1480.60" font-size="20.3" text-anchor="middle">1.0</text>
<text x="655.60" y="1480.60" font-size="20.3" text-anchor="middle">1.0</text>
<rect x="690.80" y="1408.10" width="171.20" height="53.60" fill="#fafafa"/>
<g clip-path="url(#c14)">
<g filter="url(#b1_5)"><rect x="690.8" y="1408.1" width="171.2" height="53.6" fill="none"/><rect x="698.9" y="1429.0" width="153.2" height="6.3" rx="3.1" opacity="1.0"/><rect x="700.0" y="1427.9" width="33.4" height="8.5" rx="4.3" opacity="1.0"/><rect x="738.1" y="1428.4" width="33.4" height="8.5" rx="4.3" opacity="1.0"/><rect x="776.2" y="1428.4" width="33.4" height="8.5" rx="4.3" opacity="1.0"/><rect x="813.8" y="1428.1" width="37.6" height="8.1" rx="4.0" opacity="1.0"/></g>
</g>
<rect x="692.05" y="1409.35" width="168.70" height="51.10" fill="none" stroke="#000" stroke-width="2.5"/>
<text x="713.60" y="1480.60" font-size="20.3" text-anchor="middle">1.0</text>
<text x="753.60" y="1480.60" font-size="20.3" text-anchor="middle">1.0</text>
<text x="793.80" y="1480.60" font-size="20.3" text-anchor="middle">1.0</text>
<text x="833.60" y="1480.60" font-size="20.3" text-anchor="middle">1.0</text>
<rect x="871.20" y="1408.10" width="171.10" height="53.60" fill="#fff"/>
<g clip-path="url(#c15)">
<g filter="url(#b2_6)"><rect x="871.2" y="1408.1" width="171.1" height="53.6" fill="none"/><rect x="884.2" y="1432.2" width="148.0" height="7.4" rx="3.7" opacity="0.8"/><rect x="885.0" y="1430.8" width="33.1" height="10.3" rx="5.1" opacity="0.5"/><rect x="925.1" y="1431.6" width="32.3" height="10.3" rx="5.1" opacity="0.5"/><rect x="962.9" y="1431.3" width="32.3" height="10.3" rx="5.1" opacity="0.5"/><rect x="1000.7" y="1431.0" width="30.7" height="9.9" rx="5.0" opacity="0.5"/></g>
</g>
<rect x="872.45" y="1409.35" width="168.60" height="51.10" fill="none" stroke="#000" stroke-width="2.5"/>
<text x="896.00" y="1479.60" font-size="20.3" text-anchor="middle">1.0</text>
<text x="935.60" y="1479.60" font-size="20.3" text-anchor="middle">1.0</text>
<text x="975.60" y="1479.60" font-size="20.3" text-anchor="middle">1.0</text>
<text x="1015.40" y="1479.60" font-size="20.3" text-anchor="middle">1.0</text>
<rect x="134.50" y="1488.40" width="171.40" height="53.50" fill="#ececec"/>
<g clip-path="url(#c16)">
<g filter="url(#b3)"><rect x="134.5" y="1488.4" width="171.4" height="53.5" fill="none"/><rect x="142.5" y="1491.1" width="30.9" height="48.8" rx="15.4" opacity="0.1"/></g>
<g filter="url(#b2_5)"><rect x="134.5" y="1488.4" width="171.4" height="53.5" fill="none"/><rect x="143.4" y="1512.6" width="29.1" height="6.7" rx="3.4" opacity="0.3"/><rect x="227.4" y="1514.9" width="26.9" height="5.6" rx="2.8" opacity="0.06"/><rect x="285.7" y="1515.5" width="11.2" height="6.7" rx="3.4" opacity="0.15"/></g>
</g>
<rect x="135.75" y="1489.65" width="168.90" height="51.00" fill="none" stroke="#000" stroke-width="2.5"/>
<text x="159.40" y="1561.20" font-size="20.3" text-anchor="middle">1.0</text>
<text x="199.60" y="1561.20" font-size="20.3" text-anchor="middle">0.2</text>
<text x="240.00" y="1561.20" font-size="20.3" text-anchor="middle">0.2</text>
<text x="280.00" y="1561.20" font-size="20.3" text-anchor="middle">0.3</text>
<rect x="322.20" y="1488.40" width="171.80" height="53.50" fill="#f5f5f5"/>
<g clip-path="url(#c17)">
<g filter="url(#b2)"><rect x="322.2" y="1488.4" width="171.8" height="53.5" fill="none"/><rect x="379.5" y="1515.9" width="24.0" height="4.9" rx="2.5" opacity="0.2"/><rect x="417.6" y="1515.9" width="24.0" height="4.9" rx="2.5" opacity="0.3"/><rect x="454.5" y="1514.6" width="24.0" height="4.9" rx="2.5" opacity="0.22"/></g>
<g filter="url(#b1_5)"><rect x="322.2" y="1488.4" width="171.8" height="53.5" fill="none"/><path d="M338.3 1520.4Q350.6 1516.4 362.5 1520.0" fill="none" stroke="#000" stroke-width="9.9" stroke-linecap="round" opacity="0.95"/></g>
</g>
<rect x="323.45" y="1489.65" width="169.30" height="51.00" fill="none" stroke="#000" stroke-width="2.5"/>
<text x="347.60" y="1561.20" font-size="20.3" text-anchor="middle">1.0</text>
<text x="387.60" y="1561.20" font-size="20.3" text-anchor="middle">0.2</text>
<text x="427.80" y="1561.20" font-size="20.3" text-anchor="middle">0.3</text>
<text x="467.60" y="1561.20" font-size="20.3" text-anchor="middle">0.2</text>
<rect x="509.40" y="1488.40" width="171.30" height="53.50" fill="#f1f1f1"/>
<g clip-path="url(#c18)">
<g filter="url(#b1_5)"><rect x="509.4" y="1488.4" width="171.3" height="53.5" fill="none"/><rect x="520.4" y="1511.1" width="34.9" height="11.0" rx="5.5" opacity="1.0"/></g>
<g filter="url(#b2)"><rect x="509.4" y="1488.4" width="171.3" height="53.5" fill="none"/><rect x="567.0" y="1512.4" width="24.0" height="7.2" rx="3.6" opacity="0.6"/><rect x="605.0" y="1512.9" width="24.0" height="6.0" rx="3.0" opacity="0.3"/><rect x="645.4" y="1513.6" width="21.7" height="6.0" rx="3.0" opacity="0.4"/></g>
</g>
<rect x="510.65" y="1489.65" width="168.80" height="51.00" fill="none" stroke="#000" stroke-width="2.5"/>
<text x="535.80" y="1561.20" font-size="20.3" text-anchor="middle">1.0</text>
<text x="575.60" y="1561.20" font-size="20.3" text-anchor="middle">0.3</text>
<text x="615.80" y="1561.20" font-size="20.3" text-anchor="middle">0.2</text>
<text x="655.60" y="1561.20" font-size="20.3" text-anchor="middle">0.1</text>
<rect x="690.80" y="1488.40" width="171.20" height="53.50" fill="#fff"/>
<g clip-path="url(#c19)">
<g filter="url(#b3)"><rect x="690.8" y="1488.4" width="171.2" height="53.5" fill="none"/><rect x="700.7" y="1515.7" width="23.1" height="17.5" rx="8.7" opacity="0.14"/></g>
<g filter="url(#b2)"><rect x="690.8" y="1488.4" width="171.2" height="53.5" fill="none"/><rect x="700.2" y="1508.8" width="24.0" height="11.2" rx="5.6" opacity="0.7"/><rect x="715.9" y="1507.4" width="8.3" height="13.9" rx="4.1" opacity="0.5"/></g>
<g filter="url(#b2_5)"><rect x="690.8" y="1488.4" width="171.2" height="53.5" fill="none"/><rect x="741.9" y="1509.9" width="24.6" height="4.5" rx="2.2" opacity="0.1"/><rect x="785.6" y="1509.3" width="24.6" height="5.6" rx="2.8" opacity="0.15"/><rect x="829.2" y="1509.9" width="23.5" height="4.5" rx="2.2" opacity="0.1"/></g>
</g>
<rect x="692.05" y="1489.65" width="168.70" height="51.00" fill="none" stroke="#000" stroke-width="2.5"/>
<text x="713.60" y="1561.20" font-size="20.3" text-anchor="middle">1.0</text>
<text x="753.60" y="1561.20" font-size="20.3" text-anchor="middle">0.2</text>
<text x="793.80" y="1561.20" font-size="20.3" text-anchor="middle">0.2</text>
<text x="833.60" y="1561.20" font-size="20.3" text-anchor="middle">0.1</text>
<rect x="871.20" y="1488.40" width="171.10" height="53.50" fill="#fff"/>
<g clip-path="url(#c20)">
<g filter="url(#b2)"><rect x="871.2" y="1488.4" width="171.1" height="53.5" fill="none"/><rect x="884.7" y="1512.0" width="35.2" height="10.0" rx="5.0" opacity="1.0"/><rect x="931.2" y="1514.8" width="22.6" height="4.5" rx="2.2" opacity="0.3"/><rect x="968.9" y="1511.2" width="24.2" height="5.3" rx="2.6" opacity="0.72"/><rect x="1007.5" y="1512.4" width="21.8" height="4.5" rx="2.2" opacity="0.5"/></g>
</g>
<rect x="872.45" y="1489.65" width="168.60" height="51.00" fill="none" stroke="#000" stroke-width="2.5"/>
<text x="896.00" y="1560.20" font-size="20.3" text-anchor="middle">1.0</text>
<text x="935.60" y="1560.20" font-size="20.3" text-anchor="middle">0.1</text>
<text x="975.60" y="1560.20" font-size="20.3" text-anchor="middle">0.2</text>
<text x="1015.40" y="1560.20" font-size="20.3" text-anchor="middle">0.2</text>
<rect x="134.50" y="1569.40" width="171.40" height="52.90" fill="#fff"/>
<g clip-path="url(#c21)">
<g filter="url(#b1_5)"><rect x="134.5" y="1569.4" width="171.4" height="52.9" fill="none"/><rect x="141.9" y="1591.4" width="36.7" height="9.8" rx="4.9" opacity="1.0"/><rect x="187.8" y="1590.2" width="28.4" height="7.6" rx="3.8" opacity="1.0"/><rect x="227.0" y="1590.8" width="28.2" height="6.5" rx="3.2" opacity="1.0"/><rect x="265.5" y="1591.0" width="30.7" height="8.7" rx="4.4" opacity="1.0"/></g>
</g>
<rect x="135.75" y="1570.65" width="168.90" height="50.40" fill="none" stroke="#000" stroke-width="2.5"/>
<text x="159.40" y="1640.80" font-size="20.3" text-anchor="middle">1.0</text>
<text x="199.60" y="1640.80" font-size="20.3" text-anchor="middle">0.9</text>
<text x="240.00" y="1640.80" font-size="20.3" text-anchor="middle">0.9</text>
<text x="280.00" y="1640.80" font-size="20.3" text-anchor="middle">1.0</text>
<rect x="322.20" y="1570.20" width="171.80" height="53.10" fill="#f7f7f7"/>
<g clip-path="url(#c22)">
<g filter="url(#b1_5)"><rect x="322.2" y="1570.2" width="171.8" height="53.1" fill="none"/><rect x="370.8" y="1594.7" width="35.2" height="14.3" rx="7.2" opacity="1.0"/><rect x="419.6" y="1594.8" width="28.9" height="8.7" rx="4.4" opacity="1.0"/><rect x="458.1" y="1592.6" width="25.1" height="15.4" rx="7.7" opacity="1.0"/><path d="M335.4 1598.5Q346.1 1598.5 356.2 1601.7" fill="none" stroke="#000" stroke-width="11.2" stroke-linecap="round" opacity="1.0"/></g>
</g>
<rect x="323.45" y="1571.45" width="169.30" height="50.60" fill="none" stroke="#000" stroke-width="2.5"/>
<text x="347.60" y="1640.80" font-size="20.3" text-anchor="middle">1.0</text>
<text x="387.60" y="1640.80" font-size="20.3" text-anchor="middle">1.0</text>
<text x="427.80" y="1640.80" font-size="20.3" text-anchor="middle">0.9</text>
<text x="467.60" y="1640.80" font-size="20.3" text-anchor="middle">1.0</text>
<rect x="509.40" y="1569.40" width="171.30" height="52.90" fill="#fff"/>
<g clip-path="url(#c23)">
<g filter="url(#b1_5)"><rect x="509.4" y="1569.4" width="171.3" height="52.9" fill="none"/><rect x="520.4" y="1592.7" width="38.3" height="9.8" rx="4.9" opacity="1.0"/><rect x="563.8" y="1591.9" width="30.7" height="8.7" rx="4.4" opacity="1.0"/><rect x="602.6" y="1591.6" width="27.8" height="7.6" rx="3.8" opacity="1.0"/><rect x="639.1" y="1591.1" width="29.8" height="7.2" rx="3.6" opacity="1.0"/></g>
</g>
<rect x="510.65" y="1570.65" width="168.80" height="50.40" fill="none" stroke="#000" stroke-width="2.5"/>
<text x="535.80" y="1640.80" font-size="20.3" text-anchor="middle">1.0</text>
<text x="575.60" y="1640.80" font-size="20.3" text-anchor="middle">0.9</text>
<text x="615.80" y="1640.80" font-size="20.3" text-anchor="middle">0.9</text>
<text x="655.60" y="1640.80" font-size="20.3" text-anchor="middle">0.9</text>
<rect x="690.80" y="1569.40" width="171.20" height="52.90" fill="#fff"/>
<g clip-path="url(#c24)">
<g filter="url(#b1_5)"><rect x="690.8" y="1569.4" width="171.2" height="52.9" fill="none"/><rect x="699.6" y="1590.4" width="39.0" height="11.0" rx="5.5" opacity="1.0"/><rect x="746.6" y="1590.7" width="29.3" height="8.1" rx="4.0" opacity="1.0"/><rect x="785.1" y="1591.8" width="27.8" height="7.2" rx="3.6" opacity="1.0"/><rect x="822.1" y="1594.0" width="31.1" height="7.2" rx="3.6" opacity="1.0" transform="rotate(6 837.6 1597.6)"/></g>
</g>
<rect x="692.05" y="1570.65" width="168.70" height="50.40" fill="none" stroke="#000" stroke-width="2.5"/>
<text x="713.60" y="1640.80" font-size="20.3" text-anchor="middle">1.0</text>
<text x="753.60" y="1640.80" font-size="20.3" text-anchor="middle">0.9</text>
<text x="793.80" y="1640.80" font-size="20.3" text-anchor="middle">0.9</text>
<text x="833.60" y="1640.80" font-size="20.3" text-anchor="middle">0.9</text>
<rect x="871.20" y="1569.40" width="171.10" height="52.90" fill="#fff"/>
<g clip-path="url(#c25)">
<g filter="url(#b2)"><rect x="871.2" y="1569.4" width="171.1" height="52.9" fill="none"/><rect x="880.8" y="1592.2" width="36.0" height="8.0" rx="4.0" opacity="0.6"/><rect x="920.1" y="1592.4" width="36.0" height="8.3" rx="4.1" opacity="0.6"/><rect x="959.5" y="1591.3" width="34.4" height="8.3" rx="4.1" opacity="0.6"/><rect x="997.3" y="1593.6" width="35.2" height="7.6" rx="3.8" opacity="0.7" transform="rotate(8 1014.9 1597.5)"/><path d="M883.4 1596.2Q928.7 1597.1 956.2 1595.5Q983.8 1593.8 995.6 1594.9Q1007.4 1595.9 1029.7 1599.3" fill="none" stroke="#000" stroke-width="8.8" stroke-linecap="round" opacity="0.97"/></g>
</g>
<rect x="872.45" y="1570.65" width="168.60" height="50.40" fill="none" stroke="#000" stroke-width="2.5"/>
<text x="896.00" y="1639.80" font-size="20.3" text-anchor="middle">1.0</text>
<text x="935.60" y="1639.80" font-size="20.3" text-anchor="middle">1.0</text>
<text x="975.60" y="1639.80" font-size="20.3" text-anchor="middle">1.0</text>
<text x="1015.40" y="1639.80" font-size="20.3" text-anchor="middle">1.0</text>
<rect x="134.50" y="1649.60" width="171.40" height="53.20" fill="#fff"/>
<g clip-path="url(#c26)">
<g filter="url(#b3)"><rect x="134.5" y="1649.6" width="171.4" height="53.2" fill="none"/><rect x="144.3" y="1650.9" width="30.2" height="51.1" rx="15.1" opacity="0.16"/></g>
<g filter="url(#b2)"><rect x="134.5" y="1649.6" width="171.4" height="53.2" fill="none"/><rect x="144.8" y="1671.9" width="30.2" height="8.3" rx="4.1" opacity="0.8"/></g>
<g filter="url(#b2_5)"><rect x="134.5" y="1649.6" width="171.4" height="53.2" fill="none"/><rect x="189.8" y="1671.9" width="24.2" height="5.6" rx="2.8" opacity="0.2"/><rect x="227.4" y="1671.4" width="8.9" height="5.6" rx="2.8" opacity="0.1"/></g>
</g>
<rect x="135.75" y="1650.85" width="168.90" height="50.70" fill="none" stroke="#000" stroke-width="2.5"/>
<text x="159.40" y="1722.00" font-size="20.3" text-anchor="middle">1.0</text>
<text x="199.60" y="1722.00" font-size="20.3" text-anchor="middle">0.2</text>
<text x="240.00" y="1722.00" font-size="20.3" text-anchor="middle">0.1</text>
<text x="280.00" y="1722.00" font-size="20.3" text-anchor="middle">0.1</text>
<rect x="322.20" y="1650.40" width="171.80" height="53.40" fill="#f7f7f7"/>
<g clip-path="url(#c27)">
<g filter="url(#b2_5)"><rect x="322.2" y="1650.4" width="171.8" height="53.4" fill="none"/><rect x="331.6" y="1653.4" width="32.5" height="5.8" rx="2.9" opacity="0.18"/><rect x="375.3" y="1653.4" width="28.0" height="5.8" rx="2.9" opacity="0.14"/></g>
<g filter="url(#b2)"><rect x="322.2" y="1650.4" width="171.8" height="53.4" fill="none"/><rect x="332.5" y="1673.3" width="31.8" height="9.4" rx="4.7" opacity="0.92"/><rect x="376.1" y="1673.6" width="24.0" height="5.8" rx="2.9" opacity="0.42"/><rect x="415.3" y="1675.6" width="25.1" height="4.9" rx="2.5" opacity="0.14"/><rect x="456.8" y="1676.2" width="24.0" height="4.9" rx="2.5" opacity="0.14"/></g>
</g>
<rect x="323.45" y="1651.65" width="169.30" height="50.90" fill="none" stroke="#000" stroke-width="2.5"/>
<text x="347.60" y="1722.00" font-size="20.3" text-anchor="middle">1.0</text>
<text x="387.60" y="1722.00" font-size="20.3" text-anchor="middle">0.2</text>
<text x="427.80" y="1722.00" font-size="20.3" text-anchor="middle">0.1</text>
<text x="467.60" y="1722.00" font-size="20.3" text-anchor="middle">0.1</text>
<rect x="509.40" y="1649.60" width="171.30" height="53.20" fill="#f7f7f7"/>
<g clip-path="url(#c28)">
<g filter="url(#b2)"><rect x="509.4" y="1649.6" width="171.3" height="53.2" fill="none"/><rect x="521.1" y="1671.7" width="31.3" height="10.5" rx="5.3" opacity="1.0"/><rect x="564.1" y="1675.0" width="22.4" height="6.0" rx="3.0" opacity="0.8"/><rect x="603.9" y="1677.4" width="4.9" height="4.9" rx="2.5" opacity="0.1"/><rect x="623.6" y="1672.2" width="4.2" height="4.9" rx="2.1" opacity="0.2"/><rect x="653.2" y="1673.6" width="11.6" height="4.9" rx="2.5" opacity="0.06"/></g>
<g filter="url(#b1_5)"><rect x="509.4" y="1649.6" width="171.3" height="53.2" fill="none"/><rect x="643.6" y="1677.1" width="4.0" height="4.0" rx="2.0" opacity="0.5"/></g>
</g>
<rect x="510.65" y="1650.85" width="168.80" height="50.70" fill="none" stroke="#000" stroke-width="2.5"/>
<text x="535.80" y="1722.00" font-size="20.3" text-anchor="middle">1.0</text>
<text x="575.60" y="1722.00" font-size="20.3" text-anchor="middle">0.3</text>
<text x="615.80" y="1722.00" font-size="20.3" text-anchor="middle">0.2</text>
<text x="655.60" y="1722.00" font-size="20.3" text-anchor="middle">0.1</text>
<rect x="690.80" y="1649.60" width="171.20" height="53.20" fill="#f7f7f7"/>
<g clip-path="url(#c29)">
<g filter="url(#b2)"><rect x="690.8" y="1649.6" width="171.2" height="53.2" fill="none"/><rect x="701.4" y="1673.9" width="34.7" height="10.5" rx="5.3" opacity="1.0"/><rect x="749.1" y="1676.2" width="22.2" height="4.9" rx="2.5" opacity="0.4"/><rect x="749.5" y="1675.8" width="6.0" height="4.9" rx="2.5" opacity="0.3"/></g>
<g filter="url(#b2_5)"><rect x="690.8" y="1649.6" width="171.2" height="53.2" fill="none"/><rect x="831.5" y="1670.9" width="21.3" height="4.5" rx="2.2" opacity="0.12"/></g>
</g>
<rect x="692.05" y="1650.85" width="168.70" height="50.70" fill="none" stroke="#000" stroke-width="2.5"/>
<text x="713.60" y="1722.00" font-size="20.3" text-anchor="middle">1.0</text>
<text x="753.60" y="1722.00" font-size="20.3" text-anchor="middle">0.2</text>
<text x="793.80" y="1722.00" font-size="20.3" text-anchor="middle">0.1</text>
<text x="833.60" y="1722.00" font-size="20.3" text-anchor="middle">0.1</text>
<rect x="871.20" y="1649.60" width="171.10" height="53.20" fill="#efefef"/>
<g clip-path="url(#c30)">
<g filter="url(#b3)"><rect x="871.2" y="1649.6" width="171.1" height="53.2" fill="none"/><rect x="931.6" y="1673.1" width="30.4" height="5.2" rx="2.6" opacity="0.4"/><rect x="970.2" y="1675.8" width="26.4" height="4.4" rx="2.2" opacity="0.2"/><rect x="1006.4" y="1678.6" width="25.6" height="5.2" rx="2.6" opacity="0.14"/></g>
<g filter="url(#b2)"><rect x="871.2" y="1649.6" width="171.1" height="53.2" fill="none"/><path d="M883.1 1679.9Q895.6 1686.2 904.3 1684.3Q913.0 1682.4 923.7 1673.0" fill="none" stroke="#000" stroke-width="9.4" stroke-linecap="round" opacity="1.0"/></g>
</g>
<rect x="872.45" y="1650.85" width="168.60" height="50.70" fill="none" stroke="#000" stroke-width="2.5"/>
<text x="896.00" y="1721.00" font-size="20.3" text-anchor="middle">1.0</text>
<text x="935.60" y="1721.00" font-size="20.3" text-anchor="middle">0.2</text>
<text x="975.60" y="1721.00" font-size="20.3" text-anchor="middle">0.1</text>
<text x="1015.40" y="1721.00" font-size="20.3" text-anchor="middle">0.1</text>
<rect x="134.50" y="1730.20" width="171.40" height="53.40" fill="#f6f6f6"/>
<g clip-path="url(#c31)">
<g filter="url(#b3)"><rect x="134.5" y="1730.2" width="171.4" height="53.4" fill="none"/><rect x="153.7" y="1753.4" width="17.5" height="7.4" rx="3.7" opacity="0.32"/><rect x="184.0" y="1750.2" width="27.5" height="10.7" rx="5.4" opacity="0.88"/><rect x="224.3" y="1751.8" width="27.5" height="9.6" rx="4.8" opacity="0.82"/><rect x="265.7" y="1754.0" width="29.8" height="10.7" rx="5.4" opacity="0.85"/></g>
</g>
<rect x="135.75" y="1731.45" width="168.90" height="50.90" fill="none" stroke="#000" stroke-width="2.5"/>
<text x="159.40" y="1802.80" font-size="20.3" text-anchor="middle">1.0</text>
<text x="199.60" y="1802.80" font-size="20.3" text-anchor="middle">4.1</text>
<text x="240.00" y="1802.80" font-size="20.3" text-anchor="middle">4.0</text>
<text x="280.00" y="1802.80" font-size="20.3" text-anchor="middle">4.1</text>
<rect x="322.20" y="1731.00" width="171.80" height="53.60" fill="#d0d0d0"/>
<g clip-path="url(#c32)">
<g filter="url(#b3)"><rect x="322.2" y="1731.0" width="171.8" height="53.6" fill="none"/><rect x="378.8" y="1754.6" width="18.6" height="8.5" rx="4.2" opacity="0.3"/><rect x="418.0" y="1755.1" width="23.1" height="8.5" rx="4.2" opacity="0.25"/><rect x="458.3" y="1757.1" width="24.2" height="11.2" rx="5.6" opacity="0.6"/></g>
</g>
<rect x="323.45" y="1732.25" width="169.30" height="51.10" fill="none" stroke="#000" stroke-width="2.5"/>
<text x="347.60" y="1802.80" font-size="20.3" text-anchor="middle">1.0</text>
<text x="387.60" y="1802.80" font-size="20.3" text-anchor="middle">3.8</text>
<text x="427.80" y="1802.80" font-size="20.3" text-anchor="middle">4.0</text>
<text x="467.60" y="1802.80" font-size="20.3" text-anchor="middle">6.2</text>
<rect x="509.40" y="1730.20" width="171.30" height="53.40" fill="#fff"/>
<g clip-path="url(#c33)">
<g filter="url(#b3)"><rect x="509.4" y="1730.2" width="171.3" height="53.4" fill="none"/><rect x="556.2" y="1767.4" width="30.9" height="10.7" rx="5.4" opacity="0.12"/><rect x="602.1" y="1766.3" width="28.7" height="8.5" rx="4.2" opacity="0.1"/><rect x="519.3" y="1756.8" width="21.9" height="7.4" rx="3.7" opacity="0.2"/><rect x="556.2" y="1752.6" width="30.9" height="11.2" rx="5.6" opacity="0.9"/><rect x="602.1" y="1752.4" width="28.7" height="8.5" rx="4.2" opacity="0.75"/><rect x="644.7" y="1757.3" width="24.2" height="8.5" rx="4.2" opacity="0.55" transform="rotate(12 656.8 1761.6)"/></g>
</g>
<rect x="510.65" y="1731.45" width="168.80" height="50.90" fill="none" stroke="#000" stroke-width="2.5"/>
<text x="535.80" y="1802.80" font-size="20.3" text-anchor="middle">1.0</text>
<text x="575.60" y="1802.80" font-size="20.3" text-anchor="middle">7.1</text>
<text x="615.80" y="1802.80" font-size="20.3" text-anchor="middle">6.2</text>
<text x="655.60" y="1802.80" font-size="20.3" text-anchor="middle">4.2</text>
<rect x="690.80" y="1730.20" width="171.20" height="53.40" fill="#f6f6f6"/>
<g clip-path="url(#c34)">
<g filter="url(#b4)"><rect x="690.8" y="1730.2" width="171.2" height="53.4" fill="none"/><rect x="698.9" y="1736.5" width="157.7" height="14.3" rx="7.2" opacity="0.06"/></g>
<g filter="url(#b3)"><rect x="690.8" y="1730.2" width="171.2" height="53.4" fill="none"/><rect x="700.7" y="1760.8" width="24.2" height="5.1" rx="2.6" opacity="0.08"/><rect x="736.5" y="1760.6" width="34.3" height="7.4" rx="3.7" opacity="0.22" transform="rotate(-5 753.6 1764.3)"/><rect x="781.3" y="1751.7" width="32.0" height="6.3" rx="3.1" opacity="0.28"/><rect x="826.1" y="1750.6" width="29.8" height="6.3" rx="3.1" opacity="0.28"/></g>
</g>
<rect x="692.05" y="1731.45" width="168.70" height="50.90" fill="none" stroke="#000" stroke-width="2.5"/>
<text x="713.60" y="1802.80" font-size="20.3" text-anchor="middle">1.0</text>
<text x="753.60" y="1802.80" font-size="20.3" text-anchor="middle">5.3</text>
<text x="793.80" y="1802.80" font-size="20.3" text-anchor="middle">5.4</text>
<text x="833.60" y="1802.80" font-size="20.3" text-anchor="middle">5.2</text>
<rect x="871.20" y="1730.20" width="171.10" height="53.40" fill="#f7f7f7"/>
<g clip-path="url(#c35)">
<g filter="url(#b2_5)"><rect x="871.2" y="1730.2" width="171.1" height="53.4" fill="none"/><rect x="880.2" y="1748.4" width="24.5" height="2.5" rx="1.2" opacity="0.12"/></g>
<g filter="url(#b3)"><rect x="871.2" y="1730.2" width="171.1" height="53.4" fill="none"/><rect x="923.7" y="1762.0" width="25.6" height="5.2" rx="2.6" opacity="0.08"/><rect x="967.0" y="1762.0" width="24.1" height="5.2" rx="2.6" opacity="0.08"/><rect x="1007.9" y="1763.6" width="24.1" height="5.2" rx="2.6" opacity="0.08"/></g>
<g filter="url(#b2)"><rect x="871.2" y="1730.2" width="171.1" height="53.4" fill="none"/><rect x="923.3" y="1748.8" width="26.5" height="5.8" rx="2.9" opacity="0.85"/><rect x="966.6" y="1749.4" width="25.0" height="5.1" rx="2.6" opacity="0.8"/><rect x="1007.5" y="1749.9" width="25.0" height="7.3" rx="3.7" opacity="0.9"/></g>
</g>
<rect x="872.45" y="1731.45" width="168.60" height="50.90" fill="none" stroke="#000" stroke-width="2.5"/>
<text x="896.00" y="1801.80" font-size="20.3" text-anchor="middle">1.0</text>
<text x="935.60" y="1801.80" font-size="20.3" text-anchor="middle">4.5</text>
<text x="975.60" y="1801.80" font-size="20.3" text-anchor="middle">5.2</text>
<text x="1015.40" y="1801.80" font-size="20.3" text-anchor="middle">3.9</text>
<rect x="134.50" y="1811.40" width="171.40" height="52.60" fill="#fff"/>
<g clip-path="url(#c36)">
<g filter="url(#b1_5)"><rect x="134.5" y="1811.4" width="171.4" height="52.6" fill="none"/><rect x="143.7" y="1834.8" width="34.9" height="8.1" rx="4.0" opacity="1.0"/><rect x="185.5" y="1834.5" width="31.1" height="8.7" rx="4.4" opacity="1.0"/><rect x="224.3" y="1834.4" width="31.6" height="8.1" rx="4.0" opacity="1.0"/><rect x="264.6" y="1834.8" width="32.2" height="7.2" rx="3.6" opacity="1.0"/></g>
</g>
<rect x="135.75" y="1812.65" width="168.90" height="50.10" fill="none" stroke="#000" stroke-width="2.5"/>
<text x="159.40" y="1882.80" font-size="20.3" text-anchor="middle">1.0</text>
<text x="199.60" y="1882.80" font-size="20.3" text-anchor="middle">1.0</text>
<text x="240.00" y="1882.80" font-size="20.3" text-anchor="middle">1.0</text>
<text x="280.00" y="1882.80" font-size="20.3" text-anchor="middle">1.0</text>
<rect x="322.20" y="1812.20" width="171.80" height="52.80" fill="#f8f8f8"/>
<g clip-path="url(#c37)">
<g filter="url(#b1_5)"><rect x="322.2" y="1812.2" width="171.8" height="52.8" fill="none"/><rect x="331.1" y="1831.0" width="33.4" height="9.8" rx="4.9" opacity="1.0"/><rect x="374.4" y="1833.4" width="30.0" height="8.7" rx="4.4" opacity="1.0"/><rect x="414.7" y="1834.0" width="30.5" height="8.7" rx="4.4" opacity="1.0"/><rect x="455.4" y="1835.1" width="30.0" height="8.7" rx="4.4" opacity="1.0"/></g>
</g>
<rect x="323.45" y="1813.45" width="169.30" height="50.30" fill="none" stroke="#000" stroke-width="2.5"/>
<text x="347.60" y="1882.80" font-size="20.3" text-anchor="middle">1.0</text>
<text x="387.60" y="1882.80" font-size="20.3" text-anchor="middle">1.0</text>
<text x="427.80" y="1882.80" font-size="20.3" text-anchor="middle">1.0</text>
<text x="467.60" y="1882.80" font-size="20.3" text-anchor="middle">1.0</text>
<rect x="509.40" y="1811.40" width="171.30" height="52.60" fill="#f9f9f9"/>
<g clip-path="url(#c38)">
<g filter="url(#b1_5)"><rect x="509.4" y="1811.4" width="171.3" height="52.6" fill="none"/><rect x="519.0" y="1829.2" width="34.0" height="10.3" rx="5.1" opacity="1.0"/><rect x="561.1" y="1830.3" width="30.5" height="10.3" rx="5.1" opacity="1.0"/><rect x="600.3" y="1831.9" width="31.1" height="11.6" rx="5.8" opacity="1.0"/><rect x="640.7" y="1833.2" width="28.2" height="9.8" rx="4.9" opacity="1.0"/></g>
</g>
<rect x="510.65" y="1812.65" width="168.80" height="50.10" fill="none" stroke="#000" stroke-width="2.5"/>
<text x="535.80" y="1882.80" font-size="20.3" text-anchor="middle">1.0</text>
<text x="575.60" y="1882.80" font-size="20.3" text-anchor="middle">1.0</text>
<text x="615.80" y="1882.80" font-size="20.3" text-anchor="middle">1.0</text>
<text x="655.60" y="1882.80" font-size="20.3" text-anchor="middle">0.9</text>
<rect x="690.80" y="1811.40" width="171.20" height="52.60" fill="#f1f1f1"/>
<g clip-path="url(#c39)">
<g filter="url(#b1_5)"><rect x="690.8" y="1811.4" width="171.2" height="52.6" fill="none"/><rect x="703.4" y="1835.0" width="32.7" height="12.1" rx="6.0" opacity="1.0"/><rect x="744.8" y="1832.9" width="30.0" height="11.0" rx="5.5" opacity="1.0"/><rect x="781.1" y="1834.1" width="30.7" height="12.5" rx="6.3" opacity="1.0"/><rect x="818.7" y="1833.0" width="31.1" height="13.9" rx="6.9" opacity="1.0"/></g>
</g>
<rect x="692.05" y="1812.65" width="168.70" height="50.10" fill="none" stroke="#000" stroke-width="2.5"/>
<text x="713.60" y="1882.80" font-size="20.3" text-anchor="middle">1.0</text>
<text x="753.60" y="1882.80" font-size="20.3" text-anchor="middle">1.0</text>
<text x="793.80" y="1882.80" font-size="20.3" text-anchor="middle">1.0</text>
<text x="833.60" y="1882.80" font-size="20.3" text-anchor="middle">1.1</text>
<rect x="871.20" y="1811.40" width="171.10" height="52.60" fill="#f5f5f5"/>
<g clip-path="url(#c40)">
<g filter="url(#b2_2)"><rect x="871.2" y="1811.4" width="171.1" height="52.6" fill="none"/><rect x="880.1" y="1831.3" width="34.2" height="13.0" rx="6.5" opacity="1.0"/><rect x="918.7" y="1832.9" width="33.4" height="13.0" rx="6.5" opacity="1.0"/><rect x="956.4" y="1828.5" width="35.0" height="13.8" rx="6.9" opacity="1.0"/><rect x="995.8" y="1828.9" width="37.4" height="14.5" rx="7.3" opacity="1.0"/></g>
</g>
<rect x="872.45" y="1812.65" width="168.60" height="50.10" fill="none" stroke="#000" stroke-width="2.5"/>
<text x="896.00" y="1881.80" font-size="20.3" text-anchor="middle">1.0</text>
<text x="935.60" y="1881.80" font-size="20.3" text-anchor="middle">1.0</text>
<text x="975.60" y="1881.80" font-size="20.3" text-anchor="middle">1.1</text>
<text x="1015.40" y="1881.80" font-size="20.3" text-anchor="middle">1.1</text>
<line x1="1041.00" y1="1295.10" x2="1050.00" y2="1295.10" stroke="#000" stroke-width="3"/>
<text x="1056.00" y="1302.40" font-size="22.3">20</text>
<line x1="1041.00" y1="1379.80" x2="1050.00" y2="1379.80" stroke="#000" stroke-width="3"/>
<text x="1059.50" y="1387.10" font-size="22.3">140</text>
<line x1="1041.00" y1="1462.70" x2="1050.00" y2="1462.70" stroke="#000" stroke-width="3"/>
<text x="1059.50" y="1470.00" font-size="22.3">140</text>
<line x1="1041.00" y1="1537.10" x2="1050.00" y2="1537.10" stroke="#000" stroke-width="3"/>
<text x="1059.50" y="1544.40" font-size="22.3">50</text>
<line x1="1041.00" y1="1615.90" x2="1050.00" y2="1615.90" stroke="#000" stroke-width="3"/>
<text x="1059.50" y="1623.20" font-size="22.3">50</text>
<line x1="1041.00" y1="1696.90" x2="1050.00" y2="1696.90" stroke="#000" stroke-width="3"/>
<text x="1059.50" y="1704.20" font-size="22.3">35</text>
<line x1="1041.00" y1="1768.10" x2="1050.00" y2="1768.10" stroke="#000" stroke-width="3"/>
<text x="1059.50" y="1775.40" font-size="22.3">10</text>
<line x1="1041.00" y1="1858.20" x2="1050.00" y2="1858.20" stroke="#000" stroke-width="3"/>
<text x="1059.50" y="1865.50" font-size="22.3">35</text>
<text x="-1.50" y="1992.90" font-size="57" font-weight="bold">e</text>
<rect x="135.30" y="1974.20" width="30.20" height="20.00" fill="#f0f0f0" stroke="#000" stroke-width="1.6"/>
<text x="176.50" y="1995.70" font-size="30.6">w/o CTLs</text>
<rect x="344.70" y="1974.20" width="30.20" height="20.00" fill="#a20025" stroke="#000" stroke-width="1.6"/>
<text x="386.50" y="1995.70" font-size="30.6">w/ CTLs</text>
<text font-size="34" textLength="296.50" lengthAdjust="spacingAndGlyphs" transform="translate(27.80 2344.50) rotate(-90)">% of CTL-mediated</text>
<text font-size="34" textLength="216.00" lengthAdjust="spacingAndGlyphs" transform="translate(68.80 2303.00) rotate(-90)">apoptotic cells</text>
<text x="156.30" y="2351.80" font-size="30.3" text-anchor="end">DHA</text>
<rect x="194.15" y="2279.90" width="18.80" height="35.60" fill="#d2d2d2" stroke="#000" stroke-width="2.2"/>
<rect x="215.15" y="2259.00" width="19.00" height="56.50" fill="#a00000" stroke="#000" stroke-width="2.2"/>
<rect x="254.55" y="2276.80" width="18.80" height="38.70" fill="#d2d2d2" stroke="#000" stroke-width="2.2"/>
<rect x="275.55" y="2173.10" width="19.00" height="142.40" fill="#a00000" stroke="#000" stroke-width="2.2"/>
<rect x="314.95" y="2268.50" width="18.80" height="47.00" fill="#d2d2d2" stroke="#000" stroke-width="2.2"/>
<rect x="335.95" y="2168.10" width="19.00" height="147.40" fill="#a00000" stroke="#000" stroke-width="2.2"/>
<rect x="375.35" y="2274.90" width="18.80" height="40.60" fill="#d2d2d2" stroke="#000" stroke-width="2.2"/>
<rect x="396.35" y="2119.30" width="19.00" height="196.20" fill="#a00000" stroke="#000" stroke-width="2.2"/>
<line x1="325.00" y1="2256.50" x2="325.00" y2="2268.00" stroke="#000" stroke-width="2.0"/>
<line x1="320.50" y1="2256.50" x2="329.50" y2="2256.50" stroke="#000" stroke-width="2.0"/>
<circle cx="201.06" cy="2272.40" r="4.80" fill="#fff" stroke="#000" stroke-width="1.5"/>
<circle cx="206.63" cy="2280.20" r="4.80" fill="#fff" stroke="#000" stroke-width="1.5"/>
<circle cx="203.84" cy="2286.33" r="4.80" fill="#fff" stroke="#000" stroke-width="1.5"/>
<circle cx="221.39" cy="2253.47" r="4.80" fill="#fff" stroke="#000" stroke-width="1.5"/>
<circle cx="226.12" cy="2259.04" r="4.80" fill="#fff" stroke="#000" stroke-width="1.5"/>
<circle cx="223.34" cy="2260.71" r="4.80" fill="#fff" stroke="#000" stroke-width="1.5"/>
<circle cx="261.77" cy="2272.40" r="4.80" fill="#fff" stroke="#000" stroke-width="1.5"/>
<circle cx="266.78" cy="2277.42" r="4.80" fill="#fff" stroke="#000" stroke-width="1.5"/>
<circle cx="263.16" cy="2277.97" r="4.80" fill="#fff" stroke="#000" stroke-width="1.5"/>
<circle cx="324.98" cy="2256.25" r="4.80" fill="#fff" stroke="#000" stroke-width="1.5"/>
<circle cx="320.25" cy="2274.63" r="4.80" fill="#fff" stroke="#000" stroke-width="1.5"/>
<circle cx="330.55" cy="2274.63" r="4.80" fill="#fff" stroke="#000" stroke-width="1.5"/>
<circle cx="382.90" cy="2271.57" r="4.80" fill="#fff" stroke="#000" stroke-width="1.5"/>
<circle cx="388.47" cy="2273.80" r="4.80" fill="#fff" stroke="#000" stroke-width="1.5"/>
<circle cx="385.13" cy="2277.97" r="4.80" fill="#fff" stroke="#000" stroke-width="1.5"/>
<circle cx="281.82" cy="2168.35" r="4.80" fill="#fff" stroke="#000" stroke-width="1.5"/>
<circle cx="286.27" cy="2173.36" r="4.80" fill="#fff" stroke="#000" stroke-width="1.5"/>
<circle cx="284.04" cy="2176.15" r="4.80" fill="#fff" stroke="#000" stroke-width="1.5"/>
<circle cx="342.52" cy="2161.39" r="4.80" fill="#fff" stroke="#000" stroke-width="1.5"/>
<circle cx="347.54" cy="2169.74" r="4.80" fill="#fff" stroke="#000" stroke-width="1.5"/>
<circle cx="345.31" cy="2173.92" r="4.80" fill="#fff" stroke="#000" stroke-width="1.5"/>
<circle cx="405.74" cy="2109.31" r="4.80" fill="#fff" stroke="#000" stroke-width="1.5"/>
<circle cx="410.75" cy="2121.01" r="4.80" fill="#fff" stroke="#000" stroke-width="1.5"/>
<circle cx="400.45" cy="2127.41" r="4.80" fill="#fff" stroke="#000" stroke-width="1.5"/>
<line x1="183.80" y1="2071.20" x2="183.80" y2="2316.80" stroke="#000" stroke-width="2.6"/>
<line x1="169.50" y1="2315.50" x2="427.60" y2="2315.50" stroke="#000" stroke-width="2.6"/>
<text x="159.50" y="2323.83" font-size="23" text-anchor="end">0</text>
<line x1="169.50" y1="2234.50" x2="183.80" y2="2234.50" stroke="#000" stroke-width="2.4"/>
<text x="164.10" y="2242.83" font-size="23" text-anchor="end" letter-spacing="4.6">10</text>
<line x1="169.50" y1="2153.50" x2="183.80" y2="2153.50" stroke="#000" stroke-width="2.4"/>
<text x="164.10" y="2161.83" font-size="23" text-anchor="end" letter-spacing="4.6">20</text>
<line x1="169.50" y1="2072.50" x2="183.80" y2="2072.50" stroke="#000" stroke-width="2.4"/>
<text x="164.10" y="2080.83" font-size="23" text-anchor="end" letter-spacing="4.6">30</text>
<line x1="284.60" y1="2051.40" x2="401.80" y2="2051.40" stroke="#000" stroke-width="2.0"/>
<text x="344.90" y="2058.85" font-size="30" text-anchor="middle" letter-spacing="1.6">**</text>
<line x1="222.20" y1="2080.10" x2="339.70" y2="2080.10" stroke="#000" stroke-width="2.0"/>
<text x="286.25" y="2087.55" font-size="30" text-anchor="middle" letter-spacing="1.6">***</text>
<line x1="222.20" y1="2108.50" x2="280.70" y2="2108.50" stroke="#000" stroke-width="2.0"/>
<text x="254.35" y="2115.95" font-size="30" text-anchor="middle" letter-spacing="1.6">***</text>
<text x="213.80" y="2345.50" font-size="27" text-anchor="middle">-</text>
<text x="274.40" y="2345.50" font-size="27" text-anchor="middle">+</text>
<text x="335.00" y="2345.50" font-size="27" text-anchor="middle">-</text>
<text x="395.60" y="2345.50" font-size="27" text-anchor="middle">+</text>
<line x1="177.60" y1="2353.25" x2="295.10" y2="2353.25" stroke="#000" stroke-width="1.7"/>
<line x1="303.80" y1="2353.25" x2="421.30" y2="2353.25" stroke="#000" stroke-width="1.7"/>
<text x="191.50" y="2388.90" font-size="30.8" font-style="italic" textLength="86.50" lengthAdjust="spacingAndGlyphs">siGFP</text>
<text x="316.30" y="2388.90" font-size="30.8" font-style="italic" textLength="96.50" lengthAdjust="spacingAndGlyphs">siTPT1</text>
<line x1="177.60" y1="2399.25" x2="422.10" y2="2399.25" stroke="#000" stroke-width="1.7"/>
<text x="303.50" y="2439.50" font-size="30.6" text-anchor="middle">CT26 P3 (αPD-L1)</text>
<rect x="537.85" y="2265.35" width="18.80" height="50.15" fill="#d2d2d2" stroke="#000" stroke-width="2.2"/>
<rect x="558.85" y="2250.60" width="19.00" height="64.90" fill="#a00000" stroke="#000" stroke-width="2.2"/>
<rect x="598.25" y="2274.85" width="18.80" height="40.65" fill="#d2d2d2" stroke="#000" stroke-width="2.2"/>
<rect x="619.25" y="2184.85" width="19.00" height="130.65" fill="#a00000" stroke="#000" stroke-width="2.2"/>
<rect x="658.65" y="2279.35" width="18.80" height="36.15" fill="#d2d2d2" stroke="#000" stroke-width="2.2"/>
<rect x="679.65" y="2170.60" width="19.00" height="144.90" fill="#a00000" stroke="#000" stroke-width="2.2"/>
<rect x="719.05" y="2279.85" width="18.80" height="35.65" fill="#d2d2d2" stroke="#000" stroke-width="2.2"/>
<rect x="740.05" y="2143.10" width="19.00" height="172.40" fill="#a00000" stroke="#000" stroke-width="2.2"/>
<line x1="749.80" y1="2126.50" x2="749.80" y2="2143.00" stroke="#000" stroke-width="2.0"/>
<line x1="745.30" y1="2126.50" x2="754.30" y2="2126.50" stroke="#000" stroke-width="2.0"/>
<line x1="668.00" y1="2270.50" x2="668.00" y2="2279.00" stroke="#000" stroke-width="2.0"/>
<line x1="663.50" y1="2270.50" x2="672.50" y2="2270.50" stroke="#000" stroke-width="2.0"/>
<line x1="607.50" y1="2267.00" x2="607.50" y2="2274.00" stroke="#000" stroke-width="2.0"/>
<line x1="603.00" y1="2267.00" x2="612.00" y2="2267.00" stroke="#000" stroke-width="2.0"/>
<circle cx="547.00" cy="2258.00" r="4.80" fill="#fff" stroke="#000" stroke-width="1.5"/>
<circle cx="552.50" cy="2263.00" r="4.80" fill="#fff" stroke="#000" stroke-width="1.5"/>
<circle cx="542.50" cy="2274.50" r="4.80" fill="#fff" stroke="#000" stroke-width="1.5"/>
<circle cx="564.50" cy="2249.50" r="4.80" fill="#fff" stroke="#000" stroke-width="1.5"/>
<circle cx="570.00" cy="2250.00" r="4.80" fill="#fff" stroke="#000" stroke-width="1.5"/>
<circle cx="567.50" cy="2252.00" r="4.80" fill="#fff" stroke="#000" stroke-width="1.5"/>
<circle cx="605.00" cy="2267.50" r="4.80" fill="#fff" stroke="#000" stroke-width="1.5"/>
<circle cx="610.50" cy="2273.75" r="4.80" fill="#fff" stroke="#000" stroke-width="1.5"/>
<circle cx="607.50" cy="2281.75" r="4.80" fill="#fff" stroke="#000" stroke-width="1.5"/>
<circle cx="625.00" cy="2178.75" r="4.80" fill="#fff" stroke="#000" stroke-width="1.5"/>
<circle cx="630.00" cy="2185.00" r="4.80" fill="#fff" stroke="#000" stroke-width="1.5"/>
<circle cx="627.50" cy="2188.75" r="4.80" fill="#fff" stroke="#000" stroke-width="1.5"/>
<circle cx="666.25" cy="2270.00" r="4.80" fill="#fff" stroke="#000" stroke-width="1.5"/>
<circle cx="670.50" cy="2281.25" r="4.80" fill="#fff" stroke="#000" stroke-width="1.5"/>
<circle cx="668.00" cy="2285.50" r="4.80" fill="#fff" stroke="#000" stroke-width="1.5"/>
<circle cx="688.25" cy="2163.75" r="4.80" fill="#fff" stroke="#000" stroke-width="1.5"/>
<circle cx="693.75" cy="2168.25" r="4.80" fill="#fff" stroke="#000" stroke-width="1.5"/>
<circle cx="683.75" cy="2179.50" r="4.80" fill="#fff" stroke="#000" stroke-width="1.5"/>
<circle cx="726.25" cy="2275.50" r="4.80" fill="#fff" stroke="#000" stroke-width="1.5"/>
<circle cx="731.25" cy="2279.50" r="4.80" fill="#fff" stroke="#000" stroke-width="1.5"/>
<circle cx="728.75" cy="2284.25" r="4.80" fill="#fff" stroke="#000" stroke-width="1.5"/>
<circle cx="744.25" cy="2128.25" r="4.80" fill="#fff" stroke="#000" stroke-width="1.5"/>
<circle cx="753.75" cy="2140.50" r="4.80" fill="#fff" stroke="#000" stroke-width="1.5"/>
<circle cx="749.25" cy="2160.00" r="4.80" fill="#fff" stroke="#000" stroke-width="1.5"/>
<line x1="527.50" y1="2071.20" x2="527.50" y2="2316.80" stroke="#000" stroke-width="2.6"/>
<line x1="513.20" y1="2315.50" x2="771.30" y2="2315.50" stroke="#000" stroke-width="2.6"/>
<text x="503.20" y="2323.83" font-size="23" text-anchor="end">0</text>
<line x1="513.20" y1="2266.90" x2="527.50" y2="2266.90" stroke="#000" stroke-width="2.4"/>
<text x="503.20" y="2275.23" font-size="23" text-anchor="end">5</text>
<line x1="513.20" y1="2218.30" x2="527.50" y2="2218.30" stroke="#000" stroke-width="2.4"/>
<text x="507.80" y="2226.63" font-size="23" text-anchor="end" letter-spacing="4.6">10</text>
<line x1="513.20" y1="2169.70" x2="527.50" y2="2169.70" stroke="#000" stroke-width="2.4"/>
<text x="507.80" y="2178.03" font-size="23" text-anchor="end" letter-spacing="4.6">15</text>
<line x1="513.20" y1="2121.10" x2="527.50" y2="2121.10" stroke="#000" stroke-width="2.4"/>
<text x="507.80" y="2129.43" font-size="23" text-anchor="end" letter-spacing="4.6">20</text>
<line x1="513.20" y1="2072.50" x2="527.50" y2="2072.50" stroke="#000" stroke-width="2.4"/>
<text x="507.80" y="2080.83" font-size="23" text-anchor="end" letter-spacing="4.6">25</text>
<line x1="632.50" y1="2051.75" x2="750.00" y2="2051.75" stroke="#000" stroke-width="2.0"/>
<text x="692.95" y="2059.20" font-size="30" text-anchor="middle" letter-spacing="1.6">***</text>
<line x1="570.50" y1="2080.00" x2="688.00" y2="2080.00" stroke="#000" stroke-width="2.0"/>
<text x="634.55" y="2087.45" font-size="30" text-anchor="middle" letter-spacing="1.6">****</text>
<line x1="570.50" y1="2108.25" x2="628.75" y2="2108.25" stroke="#000" stroke-width="2.0"/>
<text x="602.52" y="2115.70" font-size="30" text-anchor="middle" letter-spacing="1.6">****</text>
<text x="557.50" y="2345.50" font-size="27" text-anchor="middle">-</text>
<text x="618.10" y="2345.50" font-size="27" text-anchor="middle">+</text>
<text x="678.70" y="2345.50" font-size="27" text-anchor="middle">-</text>
<text x="739.30" y="2345.50" font-size="27" text-anchor="middle">+</text>
<line x1="521.30" y1="2353.25" x2="638.80" y2="2353.25" stroke="#000" stroke-width="1.7"/>
<line x1="647.50" y1="2353.25" x2="765.00" y2="2353.25" stroke="#000" stroke-width="1.7"/>
<text x="535.20" y="2388.90" font-size="30.8" font-style="italic" textLength="86.50" lengthAdjust="spacingAndGlyphs">siGFP</text>
<text x="660.00" y="2388.90" font-size="30.8" font-style="italic" textLength="96.50" lengthAdjust="spacingAndGlyphs">siTPT1</text>
<line x1="521.30" y1="2399.25" x2="765.80" y2="2399.25" stroke="#000" stroke-width="1.7"/>
<text x="644.50" y="2439.50" font-size="30.6" text-anchor="middle">MDA-MB231</text>
<text x="645.50" y="2476.30" font-size="30.6" text-anchor="middle">P3 (ACT)</text>
<rect x="881.10" y="2265.60" width="18.80" height="49.90" fill="#d2d2d2" stroke="#000" stroke-width="2.2"/>
<rect x="902.10" y="2246.10" width="19.00" height="69.40" fill="#a00000" stroke="#000" stroke-width="2.2"/>
<rect x="941.50" y="2269.10" width="18.80" height="46.40" fill="#d2d2d2" stroke="#000" stroke-width="2.2"/>
<rect x="962.50" y="2176.85" width="19.00" height="138.65" fill="#a00000" stroke="#000" stroke-width="2.2"/>
<rect x="1001.90" y="2261.10" width="18.80" height="54.40" fill="#d2d2d2" stroke="#000" stroke-width="2.2"/>
<rect x="1022.90" y="2143.10" width="19.00" height="172.40" fill="#a00000" stroke="#000" stroke-width="2.2"/>
<rect x="1062.30" y="2255.35" width="18.80" height="60.15" fill="#d2d2d2" stroke="#000" stroke-width="2.2"/>
<rect x="1083.30" y="2109.10" width="19.00" height="206.40" fill="#a00000" stroke="#000" stroke-width="2.2"/>
<line x1="1032.00" y1="2126.00" x2="1032.00" y2="2143.00" stroke="#000" stroke-width="2.0"/>
<line x1="1027.50" y1="2126.00" x2="1036.50" y2="2126.00" stroke="#000" stroke-width="2.0"/>
<line x1="911.00" y1="2237.00" x2="911.00" y2="2246.00" stroke="#000" stroke-width="2.0"/>
<line x1="906.50" y1="2237.00" x2="915.50" y2="2237.00" stroke="#000" stroke-width="2.0"/>
<line x1="972.00" y1="2169.00" x2="972.00" y2="2176.50" stroke="#000" stroke-width="2.0"/>
<line x1="967.50" y1="2169.00" x2="976.50" y2="2169.00" stroke="#000" stroke-width="2.0"/>
<line x1="1093.00" y1="2097.00" x2="1093.00" y2="2109.00" stroke="#000" stroke-width="2.0"/>
<line x1="1088.50" y1="2097.00" x2="1097.50" y2="2097.00" stroke="#000" stroke-width="2.0"/>
<circle cx="888.25" cy="2262.00" r="4.80" fill="#fff" stroke="#000" stroke-width="1.5"/>
<circle cx="892.50" cy="2263.75" r="4.80" fill="#fff" stroke="#000" stroke-width="1.5"/>
<circle cx="890.50" cy="2268.25" r="4.80" fill="#fff" stroke="#000" stroke-width="1.5"/>
<circle cx="910.75" cy="2236.25" r="4.80" fill="#fff" stroke="#000" stroke-width="1.5"/>
<circle cx="915.75" cy="2247.00" r="4.80" fill="#fff" stroke="#000" stroke-width="1.5"/>
<circle cx="905.75" cy="2253.75" r="4.80" fill="#fff" stroke="#000" stroke-width="1.5"/>
<circle cx="948.00" cy="2267.50" r="4.80" fill="#fff" stroke="#000" stroke-width="1.5"/>
<circle cx="953.75" cy="2268.75" r="4.80" fill="#fff" stroke="#000" stroke-width="1.5"/>
<circle cx="950.00" cy="2269.25" r="4.80" fill="#fff" stroke="#000" stroke-width="1.5"/>
<circle cx="968.75" cy="2168.25" r="4.80" fill="#fff" stroke="#000" stroke-width="1.5"/>
<circle cx="973.75" cy="2178.75" r="4.80" fill="#fff" stroke="#000" stroke-width="1.5"/>
<circle cx="971.25" cy="2182.50" r="4.80" fill="#fff" stroke="#000" stroke-width="1.5"/>
<circle cx="1009.50" cy="2253.75" r="4.80" fill="#fff" stroke="#000" stroke-width="1.5"/>
<circle cx="1014.25" cy="2261.25" r="4.80" fill="#fff" stroke="#000" stroke-width="1.5"/>
<circle cx="1011.75" cy="2267.50" r="4.80" fill="#fff" stroke="#000" stroke-width="1.5"/>
<circle cx="1032.00" cy="2125.75" r="4.80" fill="#fff" stroke="#000" stroke-width="1.5"/>
<circle cx="1037.00" cy="2144.50" r="4.80" fill="#fff" stroke="#000" stroke-width="1.5"/>
<circle cx="1027.00" cy="2157.50" r="4.80" fill="#fff" stroke="#000" stroke-width="1.5"/>
<circle cx="1070.00" cy="2250.50" r="4.80" fill="#fff" stroke="#000" stroke-width="1.5"/>
<circle cx="1075.00" cy="2253.75" r="4.80" fill="#fff" stroke="#000" stroke-width="1.5"/>
<circle cx="1072.50" cy="2260.00" r="4.80" fill="#fff" stroke="#000" stroke-width="1.5"/>
<circle cx="1092.50" cy="2096.25" r="4.80" fill="#fff" stroke="#000" stroke-width="1.5"/>
<circle cx="1097.50" cy="2108.75" r="4.80" fill="#fff" stroke="#000" stroke-width="1.5"/>
<circle cx="1087.50" cy="2121.25" r="4.80" fill="#fff" stroke="#000" stroke-width="1.5"/>
<line x1="870.75" y1="2071.20" x2="870.75" y2="2316.80" stroke="#000" stroke-width="2.6"/>
<line x1="856.45" y1="2315.50" x2="1114.55" y2="2315.50" stroke="#000" stroke-width="2.6"/>
<text x="846.45" y="2323.83" font-size="23" text-anchor="end">0</text>
<line x1="856.45" y1="2254.75" x2="870.75" y2="2254.75" stroke="#000" stroke-width="2.4"/>
<text x="846.45" y="2263.08" font-size="23" text-anchor="end">5</text>
<line x1="856.45" y1="2194.00" x2="870.75" y2="2194.00" stroke="#000" stroke-width="2.4"/>
<text x="851.05" y="2202.33" font-size="23" text-anchor="end" letter-spacing="4.6">10</text>
<line x1="856.45" y1="2133.25" x2="870.75" y2="2133.25" stroke="#000" stroke-width="2.4"/>
<text x="851.05" y="2141.58" font-size="23" text-anchor="end" letter-spacing="4.6">15</text>
<line x1="856.45" y1="2072.50" x2="870.75" y2="2072.50" stroke="#000" stroke-width="2.4"/>
<text x="851.05" y="2080.83" font-size="23" text-anchor="end" letter-spacing="4.6">20</text>
<line x1="972.50" y1="2051.75" x2="1089.50" y2="2051.75" stroke="#000" stroke-width="2.0"/>
<text x="1032.70" y="2059.20" font-size="30" text-anchor="middle" letter-spacing="1.6">****</text>
<line x1="910.00" y1="2080.00" x2="1027.50" y2="2080.00" stroke="#000" stroke-width="2.0"/>
<text x="974.05" y="2087.45" font-size="30" text-anchor="middle" letter-spacing="1.6">****</text>
<line x1="910.00" y1="2108.25" x2="968.25" y2="2108.25" stroke="#000" stroke-width="2.0"/>
<text x="942.02" y="2115.70" font-size="30" text-anchor="middle" letter-spacing="1.6">****</text>
<text x="900.75" y="2345.50" font-size="27" text-anchor="middle">-</text>
<text x="961.35" y="2345.50" font-size="27" text-anchor="middle">+</text>
<text x="1021.95" y="2345.50" font-size="27" text-anchor="middle">-</text>
<text x="1082.55" y="2345.50" font-size="27" text-anchor="middle">+</text>
<line x1="864.55" y1="2353.25" x2="982.05" y2="2353.25" stroke="#000" stroke-width="1.7"/>
<line x1="990.75" y1="2353.25" x2="1108.25" y2="2353.25" stroke="#000" stroke-width="1.7"/>
<text x="878.45" y="2388.90" font-size="30.8" font-style="italic" textLength="86.50" lengthAdjust="spacingAndGlyphs">siGFP</text>
<text x="1003.25" y="2388.90" font-size="30.8" font-style="italic" textLength="96.50" lengthAdjust="spacingAndGlyphs">siTPT1</text>
<line x1="864.55" y1="2399.25" x2="1109.05" y2="2399.25" stroke="#000" stroke-width="1.7"/>
<text x="987.75" y="2439.50" font-size="30.6" text-anchor="middle">526Mel</text>
<rect x="1224.85" y="2272.35" width="18.80" height="43.15" fill="#d2d2d2" stroke="#000" stroke-width="2.2"/>
<rect x="1245.85" y="2244.85" width="19.00" height="70.65" fill="#a00000" stroke="#000" stroke-width="2.2"/>
<rect x="1285.25" y="2273.60" width="18.80" height="41.90" fill="#d2d2d2" stroke="#000" stroke-width="2.2"/>
<rect x="1306.25" y="2179.10" width="19.00" height="136.40" fill="#a00000" stroke="#000" stroke-width="2.2"/>
<rect x="1345.65" y="2271.85" width="18.80" height="43.65" fill="#d2d2d2" stroke="#000" stroke-width="2.2"/>
<rect x="1366.65" y="2154.10" width="19.00" height="161.40" fill="#a00000" stroke="#000" stroke-width="2.2"/>
<rect x="1406.05" y="2269.10" width="18.80" height="46.40" fill="#d2d2d2" stroke="#000" stroke-width="2.2"/>
<rect x="1427.05" y="2109.35" width="19.00" height="206.15" fill="#a00000" stroke="#000" stroke-width="2.2"/>
<line x1="1315.50" y1="2171.50" x2="1315.50" y2="2179.00" stroke="#000" stroke-width="2.0"/>
<line x1="1311.00" y1="2171.50" x2="1320.00" y2="2171.50" stroke="#000" stroke-width="2.0"/>
<line x1="1436.50" y1="2099.00" x2="1436.50" y2="2109.00" stroke="#000" stroke-width="2.0"/>
<line x1="1432.00" y1="2099.00" x2="1441.00" y2="2099.00" stroke="#000" stroke-width="2.0"/>
<circle cx="1234.50" cy="2263.00" r="4.80" fill="#fff" stroke="#000" stroke-width="1.5"/>
<circle cx="1239.25" cy="2271.25" r="4.80" fill="#fff" stroke="#000" stroke-width="1.5"/>
<circle cx="1229.50" cy="2280.75" r="4.80" fill="#fff" stroke="#000" stroke-width="1.5"/>
<circle cx="1251.75" cy="2240.50" r="4.80" fill="#fff" stroke="#000" stroke-width="1.5"/>
<circle cx="1256.75" cy="2243.75" r="4.80" fill="#fff" stroke="#000" stroke-width="1.5"/>
<circle cx="1254.25" cy="2248.25" r="4.80" fill="#fff" stroke="#000" stroke-width="1.5"/>
<circle cx="1292.50" cy="2269.25" r="4.80" fill="#fff" stroke="#000" stroke-width="1.5"/>
<circle cx="1298.00" cy="2273.25" r="4.80" fill="#fff" stroke="#000" stroke-width="1.5"/>
<circle cx="1295.00" cy="2277.50" r="4.80" fill="#fff" stroke="#000" stroke-width="1.5"/>
<circle cx="1312.50" cy="2171.25" r="4.80" fill="#fff" stroke="#000" stroke-width="1.5"/>
<circle cx="1317.50" cy="2179.25" r="4.80" fill="#fff" stroke="#000" stroke-width="1.5"/>
<circle cx="1315.00" cy="2183.75" r="4.80" fill="#fff" stroke="#000" stroke-width="1.5"/>
<circle cx="1353.25" cy="2265.00" r="4.80" fill="#fff" stroke="#000" stroke-width="1.5"/>
<circle cx="1358.00" cy="2272.50" r="4.80" fill="#fff" stroke="#000" stroke-width="1.5"/>
<circle cx="1355.50" cy="2275.50" r="4.80" fill="#fff" stroke="#000" stroke-width="1.5"/>
<circle cx="1373.00" cy="2150.00" r="4.80" fill="#fff" stroke="#000" stroke-width="1.5"/>
<circle cx="1378.25" cy="2150.50" r="4.80" fill="#fff" stroke="#000" stroke-width="1.5"/>
<circle cx="1375.75" cy="2160.00" r="4.80" fill="#fff" stroke="#000" stroke-width="1.5"/>
<circle cx="1413.75" cy="2266.25" r="4.80" fill="#fff" stroke="#000" stroke-width="1.5"/>
<circle cx="1418.75" cy="2268.25" r="4.80" fill="#fff" stroke="#000" stroke-width="1.5"/>
<circle cx="1416.25" cy="2271.75" r="4.80" fill="#fff" stroke="#000" stroke-width="1.5"/>
<circle cx="1436.25" cy="2098.25" r="4.80" fill="#fff" stroke="#000" stroke-width="1.5"/>
<circle cx="1441.25" cy="2109.25" r="4.80" fill="#fff" stroke="#000" stroke-width="1.5"/>
<circle cx="1431.25" cy="2120.00" r="4.80" fill="#fff" stroke="#000" stroke-width="1.5"/>
<line x1="1214.50" y1="2071.20" x2="1214.50" y2="2316.80" stroke="#000" stroke-width="2.6"/>
<line x1="1200.20" y1="2315.50" x2="1458.30" y2="2315.50" stroke="#000" stroke-width="2.6"/>
<text x="1190.20" y="2323.83" font-size="23" text-anchor="end">0</text>
<line x1="1200.20" y1="2266.90" x2="1214.50" y2="2266.90" stroke="#000" stroke-width="2.4"/>
<text x="1190.20" y="2275.23" font-size="23" text-anchor="end">5</text>
<line x1="1200.20" y1="2218.30" x2="1214.50" y2="2218.30" stroke="#000" stroke-width="2.4"/>
<text x="1194.80" y="2226.63" font-size="23" text-anchor="end" letter-spacing="4.6">10</text>
<line x1="1200.20" y1="2169.70" x2="1214.50" y2="2169.70" stroke="#000" stroke-width="2.4"/>
<text x="1194.80" y="2178.03" font-size="23" text-anchor="end" letter-spacing="4.6">15</text>
<line x1="1200.20" y1="2121.10" x2="1214.50" y2="2121.10" stroke="#000" stroke-width="2.4"/>
<text x="1194.80" y="2129.43" font-size="23" text-anchor="end" letter-spacing="4.6">20</text>
<line x1="1200.20" y1="2072.50" x2="1214.50" y2="2072.50" stroke="#000" stroke-width="2.4"/>
<text x="1194.80" y="2080.83" font-size="23" text-anchor="end" letter-spacing="4.6">25</text>
<line x1="1314.25" y1="2051.75" x2="1431.25" y2="2051.75" stroke="#000" stroke-width="2.0"/>
<text x="1374.45" y="2059.20" font-size="30" text-anchor="middle" letter-spacing="1.6">***</text>
<line x1="1251.75" y1="2080.00" x2="1369.25" y2="2080.00" stroke="#000" stroke-width="2.0"/>
<text x="1315.80" y="2087.45" font-size="30" text-anchor="middle" letter-spacing="1.6">****</text>
<line x1="1251.75" y1="2108.25" x2="1310.00" y2="2108.25" stroke="#000" stroke-width="2.0"/>
<text x="1283.77" y="2115.70" font-size="30" text-anchor="middle" letter-spacing="1.6">****</text>
<text x="1244.50" y="2345.50" font-size="27" text-anchor="middle">-</text>
<text x="1305.10" y="2345.50" font-size="27" text-anchor="middle">+</text>
<text x="1365.70" y="2345.50" font-size="27" text-anchor="middle">-</text>
<text x="1426.30" y="2345.50" font-size="27" text-anchor="middle">+</text>
<line x1="1208.30" y1="2353.25" x2="1325.80" y2="2353.25" stroke="#000" stroke-width="1.7"/>
<line x1="1334.50" y1="2353.25" x2="1452.00" y2="2353.25" stroke="#000" stroke-width="1.7"/>
<text x="1222.20" y="2388.90" font-size="30.8" font-style="italic" textLength="86.50" lengthAdjust="spacingAndGlyphs">siGFP</text>
<text x="1347.00" y="2388.90" font-size="30.8" font-style="italic" textLength="96.50" lengthAdjust="spacingAndGlyphs">siTPT1</text>
<line x1="1208.30" y1="2399.25" x2="1452.80" y2="2399.25" stroke="#000" stroke-width="1.7"/>
<text x="1330.50" y="2439.50" font-size="30.6" text-anchor="middle">HCT116</text>
<rect x="1568.35" y="2275.60" width="18.80" height="39.90" fill="#d2d2d2" stroke="#000" stroke-width="2.2"/>
<rect x="1589.35" y="2257.35" width="19.00" height="58.15" fill="#a00000" stroke="#000" stroke-width="2.2"/>
<rect x="1628.75" y="2283.60" width="18.80" height="31.90" fill="#d2d2d2" stroke="#000" stroke-width="2.2"/>
<rect x="1649.75" y="2184.85" width="19.00" height="130.65" fill="#a00000" stroke="#000" stroke-width="2.2"/>
<rect x="1689.15" y="2281.10" width="18.80" height="34.40" fill="#d2d2d2" stroke="#000" stroke-width="2.2"/>
<rect x="1710.15" y="2164.85" width="19.00" height="150.65" fill="#a00000" stroke="#000" stroke-width="2.2"/>
<rect x="1749.55" y="2274.85" width="18.80" height="40.65" fill="#d2d2d2" stroke="#000" stroke-width="2.2"/>
<rect x="1770.55" y="2126.10" width="19.00" height="189.40" fill="#a00000" stroke="#000" stroke-width="2.2"/>
<line x1="1659.00" y1="2169.50" x2="1659.00" y2="2184.50" stroke="#000" stroke-width="2.0"/>
<line x1="1654.50" y1="2169.50" x2="1663.50" y2="2169.50" stroke="#000" stroke-width="2.0"/>
<line x1="1780.00" y1="2115.00" x2="1780.00" y2="2126.00" stroke="#000" stroke-width="2.0"/>
<line x1="1775.50" y1="2115.00" x2="1784.50" y2="2115.00" stroke="#000" stroke-width="2.0"/>
<circle cx="1575.00" cy="2273.75" r="4.80" fill="#fff" stroke="#000" stroke-width="1.5"/>
<circle cx="1580.00" cy="2275.00" r="4.80" fill="#fff" stroke="#000" stroke-width="1.5"/>
<circle cx="1577.50" cy="2278.25" r="4.80" fill="#fff" stroke="#000" stroke-width="1.5"/>
<circle cx="1595.00" cy="2252.50" r="4.80" fill="#fff" stroke="#000" stroke-width="1.5"/>
<circle cx="1600.50" cy="2253.00" r="4.80" fill="#fff" stroke="#000" stroke-width="1.5"/>
<circle cx="1598.00" cy="2265.75" r="4.80" fill="#fff" stroke="#000" stroke-width="1.5"/>
<circle cx="1635.00" cy="2280.00" r="4.80" fill="#fff" stroke="#000" stroke-width="1.5"/>
<circle cx="1641.25" cy="2283.25" r="4.80" fill="#fff" stroke="#000" stroke-width="1.5"/>
<circle cx="1638.25" cy="2285.00" r="4.80" fill="#fff" stroke="#000" stroke-width="1.5"/>
<circle cx="1653.25" cy="2173.00" r="4.80" fill="#fff" stroke="#000" stroke-width="1.5"/>
<circle cx="1663.25" cy="2178.75" r="4.80" fill="#fff" stroke="#000" stroke-width="1.5"/>
<circle cx="1658.25" cy="2200.50" r="4.80" fill="#fff" stroke="#000" stroke-width="1.5"/>
<circle cx="1696.25" cy="2276.25" r="4.80" fill="#fff" stroke="#000" stroke-width="1.5"/>
<circle cx="1701.25" cy="2281.25" r="4.80" fill="#fff" stroke="#000" stroke-width="1.5"/>
<circle cx="1698.75" cy="2283.25" r="4.80" fill="#fff" stroke="#000" stroke-width="1.5"/>
<circle cx="1719.25" cy="2156.25" r="4.80" fill="#fff" stroke="#000" stroke-width="1.5"/>
<circle cx="1724.25" cy="2165.00" r="4.80" fill="#fff" stroke="#000" stroke-width="1.5"/>
<circle cx="1714.25" cy="2173.25" r="4.80" fill="#fff" stroke="#000" stroke-width="1.5"/>
<circle cx="1756.75" cy="2271.75" r="4.80" fill="#fff" stroke="#000" stroke-width="1.5"/>
<circle cx="1761.75" cy="2274.50" r="4.80" fill="#fff" stroke="#000" stroke-width="1.5"/>
<circle cx="1759.25" cy="2277.00" r="4.80" fill="#fff" stroke="#000" stroke-width="1.5"/>
<circle cx="1779.50" cy="2114.25" r="4.80" fill="#fff" stroke="#000" stroke-width="1.5"/>
<circle cx="1785.00" cy="2126.25" r="4.80" fill="#fff" stroke="#000" stroke-width="1.5"/>
<circle cx="1774.50" cy="2137.50" r="4.80" fill="#fff" stroke="#000" stroke-width="1.5"/>
<line x1="1558.00" y1="2071.20" x2="1558.00" y2="2316.80" stroke="#000" stroke-width="2.6"/>
<line x1="1543.70" y1="2315.50" x2="1801.80" y2="2315.50" stroke="#000" stroke-width="2.6"/>
<text x="1533.70" y="2323.83" font-size="23" text-anchor="end">0</text>
<line x1="1543.70" y1="2254.75" x2="1558.00" y2="2254.75" stroke="#000" stroke-width="2.4"/>
<text x="1538.30" y="2263.08" font-size="23" text-anchor="end" letter-spacing="4.6">10</text>
<line x1="1543.70" y1="2194.00" x2="1558.00" y2="2194.00" stroke="#000" stroke-width="2.4"/>
<text x="1538.30" y="2202.33" font-size="23" text-anchor="end" letter-spacing="4.6">20</text>
<line x1="1543.70" y1="2133.25" x2="1558.00" y2="2133.25" stroke="#000" stroke-width="2.4"/>
<text x="1538.30" y="2141.58" font-size="23" text-anchor="end" letter-spacing="4.6">30</text>
<line x1="1543.70" y1="2072.50" x2="1558.00" y2="2072.50" stroke="#000" stroke-width="2.4"/>
<text x="1538.30" y="2080.83" font-size="23" text-anchor="end" letter-spacing="4.6">40</text>
<line x1="1658.25" y1="2053.25" x2="1775.75" y2="2053.25" stroke="#000" stroke-width="2.0"/>
<text x="1718.70" y="2060.70" font-size="30" text-anchor="middle" letter-spacing="1.6">***</text>
<line x1="1596.25" y1="2081.50" x2="1713.75" y2="2081.50" stroke="#000" stroke-width="2.0"/>
<text x="1660.30" y="2088.95" font-size="30" text-anchor="middle" letter-spacing="1.6">****</text>
<line x1="1596.25" y1="2110.00" x2="1654.25" y2="2110.00" stroke="#000" stroke-width="2.0"/>
<text x="1628.15" y="2117.45" font-size="30" text-anchor="middle" letter-spacing="1.6">****</text>
<text x="1588.00" y="2345.50" font-size="27" text-anchor="middle">-</text>
<text x="1648.60" y="2345.50" font-size="27" text-anchor="middle">+</text>
<text x="1709.20" y="2345.50" font-size="27" text-anchor="middle">-</text>
<text x="1769.80" y="2345.50" font-size="27" text-anchor="middle">+</text>
<line x1="1551.80" y1="2353.25" x2="1669.30" y2="2353.25" stroke="#000" stroke-width="1.7"/>
<line x1="1678.00" y1="2353.25" x2="1795.50" y2="2353.25" stroke="#000" stroke-width="1.7"/>
<text x="1565.70" y="2388.90" font-size="30.8" font-style="italic" textLength="86.50" lengthAdjust="spacingAndGlyphs">siGFP</text>
<text x="1690.50" y="2388.90" font-size="30.8" font-style="italic" textLength="96.50" lengthAdjust="spacingAndGlyphs">siTPT1</text>
<line x1="1551.80" y1="2399.25" x2="1796.30" y2="2399.25" stroke="#000" stroke-width="1.7"/>
<text x="1673.00" y="2439.50" font-size="30.6" text-anchor="middle">PDC110526</text>
<text x="1091.50" y="1121.30" font-size="56" font-weight="bold">f</text>
<rect x="1240.80" y="1130.80" width="29.00" height="19.00" fill="#f0f0f0" stroke="#000" stroke-width="1.6"/>
<text x="1283.50" y="1148.30" font-size="30">DMSO</text>
<rect x="1450.30" y="1130.80" width="29.70" height="19.00" fill="#a20025" stroke="#000" stroke-width="1.6"/>
<text x="1492.80" y="1148.30" font-size="30">DHA</text>
<text transform="translate(1137.5 1396.5) rotate(-90)" font-size="33.5" textLength="198" lengthAdjust="spacingAndGlyphs"># of migrated</text>
<text transform="translate(1178.3 1397.0) rotate(-90)" font-size="33.5" textLength="201" lengthAdjust="spacingAndGlyphs">T cells (x10<tspan font-size="21" dy="-11">3</tspan><tspan dy="11">)</tspan></text>
<text transform="translate(1136.3 1768.5) rotate(-90)" font-size="33.5" textLength="198" lengthAdjust="spacingAndGlyphs"># of migrated</text>
<text transform="translate(1177 1769.0) rotate(-90)" font-size="33.5" textLength="201" lengthAdjust="spacingAndGlyphs">T cells (x10<tspan font-size="21" dy="-11">3</tspan><tspan dy="11">)</tspan></text>
<rect x="1256.10" y="1329.85" width="24.80" height="66.40" fill="#d2d2d2" stroke="#000" stroke-width="2.2"/>
<rect x="1283.10" y="1259.85" width="25.30" height="136.40" fill="#a00000" stroke="#000" stroke-width="2.2"/>
<rect x="1322.35" y="1275.60" width="24.55" height="120.65" fill="#d2d2d2" stroke="#000" stroke-width="2.2"/>
<rect x="1349.10" y="1262.85" width="25.55" height="133.40" fill="#a00000" stroke="#000" stroke-width="2.2"/>
<line x1="1269.25" y1="1313.75" x2="1269.25" y2="1329.00" stroke="#000" stroke-width="2.0"/>
<line x1="1263.75" y1="1313.75" x2="1274.75" y2="1313.75" stroke="#000" stroke-width="2.0"/>
<line x1="1297.50" y1="1247.50" x2="1297.50" y2="1259.00" stroke="#000" stroke-width="2.0"/>
<line x1="1292.00" y1="1247.50" x2="1303.00" y2="1247.50" stroke="#000" stroke-width="2.0"/>
<line x1="1335.00" y1="1262.50" x2="1335.00" y2="1275.00" stroke="#000" stroke-width="2.0"/>
<line x1="1329.50" y1="1262.50" x2="1340.50" y2="1262.50" stroke="#000" stroke-width="2.0"/>
<line x1="1362.50" y1="1245.75" x2="1362.50" y2="1262.00" stroke="#000" stroke-width="2.0"/>
<line x1="1357.00" y1="1245.75" x2="1368.00" y2="1245.75" stroke="#000" stroke-width="2.0"/>
<circle cx="1269.25" cy="1311.50" r="5.00" fill="#fff" stroke="#000" stroke-width="1.5"/>
<circle cx="1275.75" cy="1334.25" r="5.00" fill="#fff" stroke="#000" stroke-width="1.5"/>
<circle cx="1262.50" cy="1342.50" r="5.00" fill="#fff" stroke="#000" stroke-width="1.5"/>
<circle cx="1288.75" cy="1249.25" r="5.00" fill="#fff" stroke="#000" stroke-width="1.5"/>
<circle cx="1302.00" cy="1256.75" r="5.00" fill="#fff" stroke="#000" stroke-width="1.5"/>
<circle cx="1295.50" cy="1272.00" r="5.00" fill="#fff" stroke="#000" stroke-width="1.5"/>
<circle cx="1328.75" cy="1265.00" r="5.00" fill="#fff" stroke="#000" stroke-width="1.5"/>
<circle cx="1341.75" cy="1272.00" r="5.00" fill="#fff" stroke="#000" stroke-width="1.5"/>
<circle cx="1335.00" cy="1288.00" r="5.00" fill="#fff" stroke="#000" stroke-width="1.5"/>
<circle cx="1355.00" cy="1249.25" r="5.00" fill="#fff" stroke="#000" stroke-width="1.5"/>
<circle cx="1368.00" cy="1256.75" r="5.00" fill="#fff" stroke="#000" stroke-width="1.5"/>
<circle cx="1361.25" cy="1280.50" r="5.00" fill="#fff" stroke="#000" stroke-width="1.5"/>
<line x1="1243.75" y1="1200.70" x2="1243.75" y2="1397.55" stroke="#000" stroke-width="2.6"/>
<line x1="1229.45" y1="1396.25" x2="1390.00" y2="1396.25" stroke="#000" stroke-width="2.6"/>
<text x="1220.25" y="1404.03" font-size="21.5" text-anchor="end">0</text>
<line x1="1229.45" y1="1357.40" x2="1243.75" y2="1357.40" stroke="#000" stroke-width="2.4"/>
<text x="1220.25" y="1365.18" font-size="21.5" text-anchor="end">2</text>
<line x1="1229.45" y1="1318.55" x2="1243.75" y2="1318.55" stroke="#000" stroke-width="2.4"/>
<text x="1220.25" y="1326.33" font-size="21.5" text-anchor="end">4</text>
<line x1="1229.45" y1="1279.70" x2="1243.75" y2="1279.70" stroke="#000" stroke-width="2.4"/>
<text x="1220.25" y="1287.48" font-size="21.5" text-anchor="end">6</text>
<line x1="1229.45" y1="1240.85" x2="1243.75" y2="1240.85" stroke="#000" stroke-width="2.4"/>
<text x="1220.25" y="1248.63" font-size="21.5" text-anchor="end">8</text>
<line x1="1229.45" y1="1202.00" x2="1243.75" y2="1202.00" stroke="#000" stroke-width="2.4"/>
<text x="1221.05" y="1209.78" font-size="21.5" text-anchor="end" letter-spacing="0.8">10</text>
<line x1="1271.00" y1="1188.00" x2="1340.00" y2="1188.00" stroke="#000" stroke-width="2.1"/>
<text x="1308.80" y="1192.70" font-size="15" text-anchor="middle" letter-spacing="0.2">**</text>
<line x1="1271.00" y1="1202.60" x2="1300.80" y2="1202.60" stroke="#000" stroke-width="2.1"/>
<text x="1287.00" y="1207.30" font-size="15" text-anchor="middle" letter-spacing="0.2">**</text>
<text x="1221.25" y="1435.75" font-size="27.6" font-style="italic" textLength="77.00" lengthAdjust="spacingAndGlyphs">siGFP</text>
<text x="1305.25" y="1435.75" font-size="27.6" font-style="italic" textLength="86.50" lengthAdjust="spacingAndGlyphs">siTPT1</text>
<line x1="1226.25" y1="1444.50" x2="1393.00" y2="1444.50" stroke="#000" stroke-width="1.7"/>
<text x="1310.00" y="1479.50" font-size="30.5" text-anchor="middle">CT26 P3</text>
<text x="1310.00" y="1517.00" font-size="30.5" text-anchor="middle">(αPD-L1)</text>
<rect x="1463.60" y="1319.60" width="24.05" height="76.65" fill="#d2d2d2" stroke="#000" stroke-width="2.2"/>
<rect x="1489.85" y="1266.10" width="25.30" height="130.15" fill="#a00000" stroke="#000" stroke-width="2.2"/>
<rect x="1529.85" y="1274.85" width="24.05" height="121.40" fill="#d2d2d2" stroke="#000" stroke-width="2.2"/>
<rect x="1556.10" y="1242.35" width="25.30" height="153.90" fill="#a00000" stroke="#000" stroke-width="2.2"/>
<line x1="1476.00" y1="1313.00" x2="1476.00" y2="1319.00" stroke="#000" stroke-width="2.0"/>
<line x1="1470.50" y1="1313.00" x2="1481.50" y2="1313.00" stroke="#000" stroke-width="2.0"/>
<line x1="1502.50" y1="1241.75" x2="1502.50" y2="1265.00" stroke="#000" stroke-width="2.0"/>
<line x1="1497.00" y1="1241.75" x2="1508.00" y2="1241.75" stroke="#000" stroke-width="2.0"/>
<line x1="1542.00" y1="1267.50" x2="1542.00" y2="1274.00" stroke="#000" stroke-width="2.0"/>
<line x1="1536.50" y1="1267.50" x2="1547.50" y2="1267.50" stroke="#000" stroke-width="2.0"/>
<line x1="1568.75" y1="1231.50" x2="1568.75" y2="1242.00" stroke="#000" stroke-width="2.0"/>
<line x1="1563.25" y1="1231.50" x2="1574.25" y2="1231.50" stroke="#000" stroke-width="2.0"/>
<circle cx="1470.50" cy="1313.75" r="5.00" fill="#fff" stroke="#000" stroke-width="1.5"/>
<circle cx="1481.75" cy="1319.25" r="5.00" fill="#fff" stroke="#000" stroke-width="1.5"/>
<circle cx="1476.25" cy="1324.50" r="5.00" fill="#fff" stroke="#000" stroke-width="1.5"/>
<circle cx="1502.50" cy="1241.75" r="5.00" fill="#fff" stroke="#000" stroke-width="1.5"/>
<circle cx="1509.25" cy="1272.50" r="5.00" fill="#fff" stroke="#000" stroke-width="1.5"/>
<circle cx="1496.25" cy="1283.25" r="5.00" fill="#fff" stroke="#000" stroke-width="1.5"/>
<circle cx="1542.50" cy="1267.50" r="5.00" fill="#fff" stroke="#000" stroke-width="1.5"/>
<circle cx="1548.75" cy="1272.50" r="5.00" fill="#fff" stroke="#000" stroke-width="1.5"/>
<circle cx="1535.75" cy="1283.25" r="5.00" fill="#fff" stroke="#000" stroke-width="1.5"/>
<circle cx="1568.75" cy="1231.25" r="5.00" fill="#fff" stroke="#000" stroke-width="1.5"/>
<circle cx="1575.00" cy="1241.75" r="5.00" fill="#fff" stroke="#000" stroke-width="1.5"/>
<circle cx="1562.00" cy="1252.00" r="5.00" fill="#fff" stroke="#000" stroke-width="1.5"/>
<line x1="1450.75" y1="1200.70" x2="1450.75" y2="1397.55" stroke="#000" stroke-width="2.6"/>
<line x1="1436.45" y1="1396.25" x2="1596.75" y2="1396.25" stroke="#000" stroke-width="2.6"/>
<text x="1427.25" y="1404.03" font-size="21.5" text-anchor="end">0</text>
<line x1="1436.45" y1="1331.50" x2="1450.75" y2="1331.50" stroke="#000" stroke-width="2.4"/>
<text x="1427.25" y="1339.28" font-size="21.5" text-anchor="end">5</text>
<line x1="1436.45" y1="1266.75" x2="1450.75" y2="1266.75" stroke="#000" stroke-width="2.4"/>
<text x="1428.05" y="1274.53" font-size="21.5" text-anchor="end" letter-spacing="0.8">10</text>
<line x1="1436.45" y1="1202.00" x2="1450.75" y2="1202.00" stroke="#000" stroke-width="2.4"/>
<text x="1428.05" y="1209.78" font-size="21.5" text-anchor="end" letter-spacing="0.8">15</text>
<line x1="1478.75" y1="1188.00" x2="1547.00" y2="1188.00" stroke="#000" stroke-width="2.1"/>
<text x="1516.17" y="1192.70" font-size="15" text-anchor="middle" letter-spacing="0.2">*</text>
<line x1="1478.75" y1="1202.60" x2="1508.00" y2="1202.60" stroke="#000" stroke-width="2.1"/>
<text x="1494.47" y="1207.30" font-size="15" text-anchor="middle" letter-spacing="0.2">**</text>
<text x="1425.50" y="1435.75" font-size="27.6" font-style="italic" textLength="77.00" lengthAdjust="spacingAndGlyphs">siGFP</text>
<text x="1509.50" y="1435.75" font-size="27.6" font-style="italic" textLength="86.50" lengthAdjust="spacingAndGlyphs">siTPT1</text>
<line x1="1431.50" y1="1444.50" x2="1598.00" y2="1444.50" stroke="#000" stroke-width="1.7"/>
<text x="1515.50" y="1479.50" font-size="30.5" text-anchor="middle">MDA-MB231</text>
<text x="1515.00" y="1517.00" font-size="30.5" text-anchor="middle">P3 (ACT)</text>
<rect x="1678.60" y="1332.85" width="24.80" height="61.65" fill="#d2d2d2" stroke="#000" stroke-width="2.2"/>
<rect x="1705.60" y="1269.10" width="25.30" height="125.40" fill="#a00000" stroke="#000" stroke-width="2.2"/>
<rect x="1744.85" y="1276.60" width="24.55" height="117.90" fill="#d2d2d2" stroke="#000" stroke-width="2.2"/>
<rect x="1771.60" y="1243.10" width="25.30" height="151.40" fill="#a00000" stroke="#000" stroke-width="2.2"/>
<line x1="1691.50" y1="1325.00" x2="1691.50" y2="1332.00" stroke="#000" stroke-width="2.0"/>
<line x1="1686.00" y1="1325.00" x2="1697.00" y2="1325.00" stroke="#000" stroke-width="2.0"/>
<line x1="1718.50" y1="1251.75" x2="1718.50" y2="1268.00" stroke="#000" stroke-width="2.0"/>
<line x1="1713.00" y1="1251.75" x2="1724.00" y2="1251.75" stroke="#000" stroke-width="2.0"/>
<line x1="1757.50" y1="1263.50" x2="1757.50" y2="1276.00" stroke="#000" stroke-width="2.0"/>
<line x1="1752.00" y1="1263.50" x2="1763.00" y2="1263.50" stroke="#000" stroke-width="2.0"/>
<line x1="1784.50" y1="1230.00" x2="1784.50" y2="1242.00" stroke="#000" stroke-width="2.0"/>
<line x1="1779.00" y1="1230.00" x2="1790.00" y2="1230.00" stroke="#000" stroke-width="2.0"/>
<circle cx="1691.75" cy="1325.00" r="5.00" fill="#fff" stroke="#000" stroke-width="1.5"/>
<circle cx="1698.25" cy="1332.50" r="5.00" fill="#fff" stroke="#000" stroke-width="1.5"/>
<circle cx="1685.00" cy="1340.00" r="5.00" fill="#fff" stroke="#000" stroke-width="1.5"/>
<circle cx="1711.25" cy="1255.75" r="5.00" fill="#fff" stroke="#000" stroke-width="1.5"/>
<circle cx="1724.25" cy="1263.25" r="5.00" fill="#fff" stroke="#000" stroke-width="1.5"/>
<circle cx="1718.00" cy="1286.25" r="5.00" fill="#fff" stroke="#000" stroke-width="1.5"/>
<circle cx="1757.50" cy="1263.25" r="5.00" fill="#fff" stroke="#000" stroke-width="1.5"/>
<circle cx="1764.25" cy="1278.25" r="5.00" fill="#fff" stroke="#000" stroke-width="1.5"/>
<circle cx="1751.25" cy="1286.25" r="5.00" fill="#fff" stroke="#000" stroke-width="1.5"/>
<circle cx="1777.50" cy="1232.00" r="5.00" fill="#fff" stroke="#000" stroke-width="1.5"/>
<circle cx="1790.50" cy="1240.00" r="5.00" fill="#fff" stroke="#000" stroke-width="1.5"/>
<circle cx="1784.25" cy="1255.50" r="5.00" fill="#fff" stroke="#000" stroke-width="1.5"/>
<line x1="1666.25" y1="1199.20" x2="1666.25" y2="1395.80" stroke="#000" stroke-width="2.6"/>
<line x1="1651.95" y1="1394.50" x2="1811.75" y2="1394.50" stroke="#000" stroke-width="2.6"/>
<text x="1642.75" y="1402.28" font-size="21.5" text-anchor="end">0</text>
<line x1="1651.95" y1="1355.70" x2="1666.25" y2="1355.70" stroke="#000" stroke-width="2.4"/>
<text x="1642.75" y="1363.48" font-size="21.5" text-anchor="end">2</text>
<line x1="1651.95" y1="1316.90" x2="1666.25" y2="1316.90" stroke="#000" stroke-width="2.4"/>
<text x="1642.75" y="1324.68" font-size="21.5" text-anchor="end">4</text>
<line x1="1651.95" y1="1278.10" x2="1666.25" y2="1278.10" stroke="#000" stroke-width="2.4"/>
<text x="1642.75" y="1285.88" font-size="21.5" text-anchor="end">6</text>
<line x1="1651.95" y1="1239.30" x2="1666.25" y2="1239.30" stroke="#000" stroke-width="2.4"/>
<text x="1642.75" y="1247.08" font-size="21.5" text-anchor="end">8</text>
<line x1="1651.95" y1="1200.50" x2="1666.25" y2="1200.50" stroke="#000" stroke-width="2.4"/>
<text x="1643.55" y="1208.28" font-size="21.5" text-anchor="end" letter-spacing="0.8">10</text>
<line x1="1691.25" y1="1186.75" x2="1760.00" y2="1186.75" stroke="#000" stroke-width="2.1"/>
<text x="1728.92" y="1191.45" font-size="15" text-anchor="middle" letter-spacing="0.2">**</text>
<line x1="1691.25" y1="1201.25" x2="1720.75" y2="1201.25" stroke="#000" stroke-width="2.1"/>
<text x="1707.10" y="1205.95" font-size="15" text-anchor="middle" letter-spacing="0.2">***</text>
<text x="1640.50" y="1434.25" font-size="27.6" font-style="italic" textLength="77.00" lengthAdjust="spacingAndGlyphs">siGFP</text>
<text x="1724.50" y="1434.25" font-size="27.6" font-style="italic" textLength="86.50" lengthAdjust="spacingAndGlyphs">siTPT1</text>
<line x1="1646.25" y1="1443.00" x2="1813.00" y2="1443.00" stroke="#000" stroke-width="1.7"/>
<text x="1729.50" y="1478.00" font-size="30.5" text-anchor="middle">526Mel</text>
<rect x="1257.35" y="1680.35" width="24.80" height="76.40" fill="#d2d2d2" stroke="#000" stroke-width="2.2"/>
<rect x="1284.35" y="1615.35" width="25.05" height="141.40" fill="#a00000" stroke="#000" stroke-width="2.2"/>
<rect x="1323.60" y="1632.35" width="24.80" height="124.40" fill="#d2d2d2" stroke="#000" stroke-width="2.2"/>
<rect x="1350.60" y="1615.35" width="25.05" height="141.40" fill="#a00000" stroke="#000" stroke-width="2.2"/>
<line x1="1270.50" y1="1666.25" x2="1270.50" y2="1680.00" stroke="#000" stroke-width="2.0"/>
<line x1="1265.00" y1="1666.25" x2="1276.00" y2="1666.25" stroke="#000" stroke-width="2.0"/>
<line x1="1296.75" y1="1590.00" x2="1296.75" y2="1615.00" stroke="#000" stroke-width="2.0"/>
<line x1="1291.25" y1="1590.00" x2="1302.25" y2="1590.00" stroke="#000" stroke-width="2.0"/>
<line x1="1336.25" y1="1620.00" x2="1336.25" y2="1632.00" stroke="#000" stroke-width="2.0"/>
<line x1="1330.75" y1="1620.00" x2="1341.75" y2="1620.00" stroke="#000" stroke-width="2.0"/>
<line x1="1363.00" y1="1598.00" x2="1363.00" y2="1615.00" stroke="#000" stroke-width="2.0"/>
<line x1="1357.50" y1="1598.00" x2="1368.50" y2="1598.00" stroke="#000" stroke-width="2.0"/>
<circle cx="1263.75" cy="1672.00" r="5.00" fill="#fff" stroke="#000" stroke-width="1.5"/>
<circle cx="1277.00" cy="1672.00" r="5.00" fill="#fff" stroke="#000" stroke-width="1.5"/>
<circle cx="1270.50" cy="1695.00" r="5.00" fill="#fff" stroke="#000" stroke-width="1.5"/>
<circle cx="1296.75" cy="1586.25" r="5.00" fill="#fff" stroke="#000" stroke-width="1.5"/>
<circle cx="1303.25" cy="1625.50" r="5.00" fill="#fff" stroke="#000" stroke-width="1.5"/>
<circle cx="1290.00" cy="1632.50" r="5.00" fill="#fff" stroke="#000" stroke-width="1.5"/>
<circle cx="1336.25" cy="1617.50" r="5.00" fill="#fff" stroke="#000" stroke-width="1.5"/>
<circle cx="1343.00" cy="1632.50" r="5.00" fill="#fff" stroke="#000" stroke-width="1.5"/>
<circle cx="1330.00" cy="1644.50" r="5.00" fill="#fff" stroke="#000" stroke-width="1.5"/>
<circle cx="1356.25" cy="1602.50" r="5.00" fill="#fff" stroke="#000" stroke-width="1.5"/>
<circle cx="1369.50" cy="1610.00" r="5.00" fill="#fff" stroke="#000" stroke-width="1.5"/>
<circle cx="1362.50" cy="1632.50" r="5.00" fill="#fff" stroke="#000" stroke-width="1.5"/>
<line x1="1244.50" y1="1561.20" x2="1244.50" y2="1758.05" stroke="#000" stroke-width="2.6"/>
<line x1="1230.20" y1="1756.75" x2="1390.75" y2="1756.75" stroke="#000" stroke-width="2.6"/>
<text x="1221.00" y="1764.53" font-size="21.5" text-anchor="end">0</text>
<line x1="1230.20" y1="1717.90" x2="1244.50" y2="1717.90" stroke="#000" stroke-width="2.4"/>
<text x="1221.00" y="1725.68" font-size="21.5" text-anchor="end">2</text>
<line x1="1230.20" y1="1679.05" x2="1244.50" y2="1679.05" stroke="#000" stroke-width="2.4"/>
<text x="1221.00" y="1686.83" font-size="21.5" text-anchor="end">4</text>
<line x1="1230.20" y1="1640.20" x2="1244.50" y2="1640.20" stroke="#000" stroke-width="2.4"/>
<text x="1221.00" y="1647.98" font-size="21.5" text-anchor="end">6</text>
<line x1="1230.20" y1="1601.35" x2="1244.50" y2="1601.35" stroke="#000" stroke-width="2.4"/>
<text x="1221.00" y="1609.13" font-size="21.5" text-anchor="end">8</text>
<line x1="1230.20" y1="1562.50" x2="1244.50" y2="1562.50" stroke="#000" stroke-width="2.4"/>
<text x="1221.80" y="1570.28" font-size="21.5" text-anchor="end" letter-spacing="0.8">10</text>
<line x1="1266.25" y1="1545.50" x2="1334.50" y2="1545.50" stroke="#000" stroke-width="2.1"/>
<text x="1303.67" y="1550.20" font-size="15" text-anchor="middle" letter-spacing="0.2">*</text>
<line x1="1266.25" y1="1560.00" x2="1295.00" y2="1560.00" stroke="#000" stroke-width="2.1"/>
<text x="1281.72" y="1564.70" font-size="15" text-anchor="middle" letter-spacing="0.2">**</text>
<text x="1221.25" y="1799.50" font-size="27.6" font-style="italic" textLength="77.00" lengthAdjust="spacingAndGlyphs">siGFP</text>
<text x="1305.25" y="1799.50" font-size="27.6" font-style="italic" textLength="86.50" lengthAdjust="spacingAndGlyphs">siTPT1</text>
<line x1="1226.25" y1="1808.25" x2="1393.00" y2="1808.25" stroke="#000" stroke-width="1.7"/>
<text x="1310.00" y="1843.75" font-size="30.5" text-anchor="middle">HCT116</text>
<rect x="1455.60" y="1676.85" width="24.55" height="79.90" fill="#d2d2d2" stroke="#000" stroke-width="2.2"/>
<rect x="1482.35" y="1622.85" width="24.55" height="133.90" fill="#a00000" stroke="#000" stroke-width="2.2"/>
<rect x="1521.60" y="1626.85" width="24.30" height="129.90" fill="#d2d2d2" stroke="#000" stroke-width="2.2"/>
<rect x="1548.10" y="1618.60" width="24.55" height="138.15" fill="#a00000" stroke="#000" stroke-width="2.2"/>
<line x1="1468.00" y1="1662.00" x2="1468.00" y2="1676.00" stroke="#000" stroke-width="2.0"/>
<line x1="1462.50" y1="1662.00" x2="1473.50" y2="1662.00" stroke="#000" stroke-width="2.0"/>
<line x1="1494.50" y1="1615.00" x2="1494.50" y2="1622.00" stroke="#000" stroke-width="2.0"/>
<line x1="1489.00" y1="1615.00" x2="1500.00" y2="1615.00" stroke="#000" stroke-width="2.0"/>
<line x1="1534.00" y1="1622.00" x2="1534.00" y2="1626.00" stroke="#000" stroke-width="2.0"/>
<line x1="1528.50" y1="1622.00" x2="1539.50" y2="1622.00" stroke="#000" stroke-width="2.0"/>
<line x1="1560.25" y1="1584.00" x2="1560.25" y2="1618.00" stroke="#000" stroke-width="2.0"/>
<line x1="1554.75" y1="1584.00" x2="1565.75" y2="1584.00" stroke="#000" stroke-width="2.0"/>
<circle cx="1468.00" cy="1662.50" r="5.00" fill="#fff" stroke="#000" stroke-width="1.5"/>
<circle cx="1474.50" cy="1677.50" r="5.00" fill="#fff" stroke="#000" stroke-width="1.5"/>
<circle cx="1461.25" cy="1689.25" r="5.00" fill="#fff" stroke="#000" stroke-width="1.5"/>
<circle cx="1488.25" cy="1613.75" r="5.00" fill="#fff" stroke="#000" stroke-width="1.5"/>
<circle cx="1500.00" cy="1624.25" r="5.00" fill="#fff" stroke="#000" stroke-width="1.5"/>
<circle cx="1494.25" cy="1629.25" r="5.00" fill="#fff" stroke="#000" stroke-width="1.5"/>
<circle cx="1528.00" cy="1624.25" r="5.00" fill="#fff" stroke="#000" stroke-width="1.5"/>
<circle cx="1539.50" cy="1624.25" r="5.00" fill="#fff" stroke="#000" stroke-width="1.5"/>
<circle cx="1534.25" cy="1631.25" r="5.00" fill="#fff" stroke="#000" stroke-width="1.5"/>
<circle cx="1560.25" cy="1585.00" r="5.00" fill="#fff" stroke="#000" stroke-width="1.5"/>
<circle cx="1560.25" cy="1616.25" r="5.00" fill="#fff" stroke="#000" stroke-width="1.5"/>
<circle cx="1560.25" cy="1653.00" r="5.00" fill="#fff" stroke="#000" stroke-width="1.5"/>
<line x1="1441.75" y1="1561.20" x2="1441.75" y2="1758.05" stroke="#000" stroke-width="2.6"/>
<line x1="1427.45" y1="1756.75" x2="1588.00" y2="1756.75" stroke="#000" stroke-width="2.6"/>
<text x="1418.25" y="1764.53" font-size="21.5" text-anchor="end">0</text>
<line x1="1427.45" y1="1708.19" x2="1441.75" y2="1708.19" stroke="#000" stroke-width="2.4"/>
<text x="1418.25" y="1715.97" font-size="21.5" text-anchor="end">2</text>
<line x1="1427.45" y1="1659.62" x2="1441.75" y2="1659.62" stroke="#000" stroke-width="2.4"/>
<text x="1418.25" y="1667.41" font-size="21.5" text-anchor="end">4</text>
<line x1="1427.45" y1="1611.06" x2="1441.75" y2="1611.06" stroke="#000" stroke-width="2.4"/>
<text x="1418.25" y="1618.85" font-size="21.5" text-anchor="end">6</text>
<line x1="1427.45" y1="1562.50" x2="1441.75" y2="1562.50" stroke="#000" stroke-width="2.4"/>
<text x="1418.25" y="1570.28" font-size="21.5" text-anchor="end">8</text>
<line x1="1471.25" y1="1545.50" x2="1539.50" y2="1545.50" stroke="#000" stroke-width="2.1"/>
<text x="1508.67" y="1550.20" font-size="15" text-anchor="middle" letter-spacing="0.2">*</text>
<line x1="1471.25" y1="1560.00" x2="1500.00" y2="1560.00" stroke="#000" stroke-width="2.1"/>
<text x="1486.72" y="1564.70" font-size="15" text-anchor="middle" letter-spacing="0.2">*</text>
<text x="1425.75" y="1799.50" font-size="27.6" font-style="italic" textLength="77.00" lengthAdjust="spacingAndGlyphs">siGFP</text>
<text x="1509.75" y="1799.50" font-size="27.6" font-style="italic" textLength="86.50" lengthAdjust="spacingAndGlyphs">siTPT1</text>
<line x1="1431.25" y1="1808.25" x2="1597.50" y2="1808.25" stroke="#000" stroke-width="1.7"/>
<text x="1514.75" y="1843.75" font-size="30.5" text-anchor="middle">PDC110526</text>
</svg>
</body></html>
